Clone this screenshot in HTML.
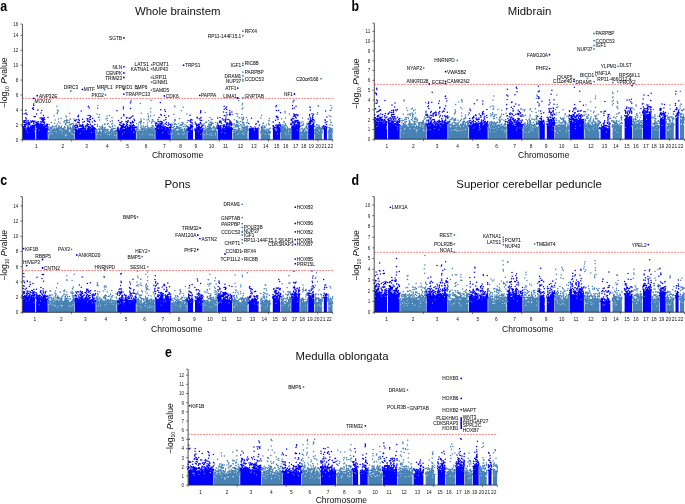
<!DOCTYPE html>
<html><head><meta charset="utf-8"><style>
html,body{margin:0;padding:0;background:#fff;width:685px;height:504px;overflow:hidden}
svg{display:block;will-change:transform}
text{font-family:'Liberation Sans',sans-serif}
</style></head><body>
<svg width="685" height="504" viewBox="0 0 685 504" style="font-family:'Liberation Sans',sans-serif">
<rect width="685" height="504" fill="#fff"/>
<path fill="#4682b4" d="M48.4 139.8L48.4 133.7L48.9 133.4L49.4 132.9L49.9 132L50.4 131.5L50.9 132.4L51.4 131.1L51.9 132.8L52.4 131L52.9 132.2L53.4 133.1L53.9 133L54.4 133.3L54.9 133.3L55.4 133.5L55.9 133.2L56.4 133.3L56.9 133.2L57.4 133L57.9 133.4L58.4 133L58.9 133.6L59.4 133.5L59.9 132.8L60.4 133.2L60.9 133L61.4 133.1L61.9 132.2L62.4 132.8L62.9 132.7L63.4 133.4L63.9 133.2L64.4 133.1L64.9 131L65.4 132.9L65.9 133.2L66.4 133.1L66.9 132.4L67.4 131.4L67.9 130.9L68.4 131.7L68.9 133L69.4 132.6L69.9 133.2L70.4 133.2L70.9 131.9L71.4 132.4L71.9 132.2L72.4 130.6L72.9 132.6L73.4 130.4L73.9 132.9L74.1 132.6L74.1 139.8ZM96.2 139.8L96.2 133.1L96.7 133L97.2 131.3L97.7 132.7L98.2 131.9L98.7 131.4L99.2 132.7L99.7 132.3L100.2 132.9L100.7 132.8L101.2 132.7L101.7 133.4L102.2 132.7L102.7 132.7L103.2 132.6L103.7 132.6L104.2 132.6L104.7 131.5L105.2 131.5L105.7 132L106.2 131.1L106.7 132.8L107.2 133.1L107.7 133.3L108.2 133.2L108.7 133.3L109.2 132.6L109.7 133.1L110.2 132.2L110.7 133.1L111.2 132L111.7 133.1L112.2 131.4L112.7 132L113.2 132.8L113.7 133.3L114.2 133.4L114.7 132.1L115.2 132.3L115.7 132.4L116.2 133.2L116.7 133.3L116.7 139.8ZM136.5 139.8L136.5 130.2L137 131.1L137.5 132.5L138 132L138.5 132.6L139 132.1L139.5 132.7L140 132.3L140.5 132.8L141 132.9L141.5 132.9L142 132.7L142.5 132.5L143 131.6L143.5 131.5L144 132.6L144.5 131.6L145 132.7L145.5 132.5L146 132.2L146.5 131.8L147 132.1L147.5 131.5L148 132.5L148.5 131.8L149 131.8L149.5 132.8L150 132.6L150.5 133.1L151 132.4L151.5 132.5L152 130.4L152.5 132.4L153 131L153.5 132.3L154 131.8L154.5 132.7L154.8 132.1L154.8 139.8ZM171.4 139.8L171.4 132.4L171.9 131.8L172.4 132.1L172.9 132.2L173.4 132.3L173.9 130L174.4 131.6L174.9 131.6L175.4 132.4L175.9 132L176.4 131.7L176.9 131.7L177.4 131.6L177.9 130.8L178.4 131.1L178.9 132.1L179.4 131.8L179.9 132.5L180.4 131.3L180.9 130.9L181.4 131.3L181.9 132.1L182.4 132.3L182.9 132.3L183.4 132.5L183.9 132.8L184.4 132.7L184.9 131.9L185.4 132L185.9 130.5L186.4 131.6L186.9 130.3L186.9 131L186.9 139.8ZM203.2 139.8L203.2 129.4L203.7 132L204.2 132.4L204.7 132.4L205.2 131.8L205.7 131L206.2 131.3L206.7 132.3L207.2 132.2L207.7 131.4L208.2 130.2L208.7 131.9L209.2 131.8L209.7 132.1L210.2 132.5L210.7 131.7L211.2 132.4L211.7 132.4L212.2 130.8L212.7 132L213.2 131.2L213.7 131.4L214.2 132.2L214.7 131.5L215.2 132.2L215.7 131L216.2 131.1L216.7 131.3L217.1 132.3L217.1 139.8ZM232.7 139.8L232.7 130.9L233.2 130.4L233.7 131L234.2 129.7L234.7 131.1L235.2 131.8L235.7 131.8L236.2 131.6L236.7 132.2L237.2 132.1L237.7 131.8L238.2 131.4L238.7 131.4L239.2 130.7L239.7 132L240.2 131.2L240.7 131.1L241.2 131.3L241.7 131.6L242.2 130.4L242.7 131.8L243.2 130L243.7 130.8L244.2 129.6L244.7 131.9L245.2 131.6L245.7 132.1L246.2 131.6L246.7 130.9L247.2 130.7L247.6 131.1L247.6 139.8ZM260.8 139.8L260.8 132.1L261.3 132.5L261.8 131.4L262.3 131.1L262.8 130.8L263.3 131.3L263.8 131.3L264.3 132L264.8 132.3L265.3 132.8L265.8 132.7L266.3 131.2L266.8 132.2L267.3 132L267.8 132.1L268.3 131.5L268.8 131.5L269.3 132.2L269.8 132.5L270.2 132.6L270.2 139.8ZM280.9 139.8L280.9 132L281.4 132L281.9 131.9L282.4 131L282.9 131.8L283.4 131.6L283.9 131.5L284.4 131.7L284.9 131.1L285.4 131.4L285.9 132.4L286.4 132L286.9 131.1L287.4 130.5L287.9 132.3L288.4 131.3L288.9 132.4L289.4 132.7L289.9 132.9L290.4 133L290.7 132.4L290.7 139.8ZM300.2 139.8L300.2 133.1L300.7 132.6L301.2 132.5L301.7 130.9L302.2 132.3L302.7 132.2L303.2 132.7L303.7 132.7L304.2 131.8L304.7 132.4L305.2 130.7L305.7 131.8L306.2 131.8L306.7 131.9L307.2 132.1L307.6 129.4L307.6 139.8ZM314.6 139.8L314.6 132.9L315.1 132.6L315.6 131.8L316.1 131.4L316.6 132.1L317.1 130.6L317.6 131.2L318.1 131.1L318.6 132.1L319.1 129.8L319.6 132.3L320.1 131.5L320.6 131.7L321.1 131.8L321.6 130.9L322.1 131.9L322.1 132.1L322.1 139.8ZM328.3 139.8L328.3 131.7L328.8 131.1L329.3 132.1L329.8 130.8L330.3 131.8L330.8 130.6L331.3 131.5L331.8 131.2L332.3 132.1L332.5 132L332.5 139.8Z"/>
<path fill="#0000ff" d="M22.7 139.8L22.7 126.9L23.2 127.5L23.7 126.6L24.2 128L24.7 126.2L25.2 127.1L25.7 125.8L26.2 127.8L26.7 127.6L27.2 128.1L27.7 128.3L28.2 126.8L28.7 126.7L29.2 128.4L29.7 128.1L30.2 128.9L30.7 128.7L31.2 127.7L31.7 127.9L32.2 127.1L32.7 127.4L33.2 128.1L33.7 127.1L34.2 128L34.7 128.5L35.2 127.3L35.2 139.8ZM36.2 139.8L36.2 125.2L36.7 127.3L37.2 126.6L37.7 128.1L38.2 125.4L38.7 127.6L39.2 126.3L39.7 126.9L40.2 125.6L40.7 127.2L41.2 126.3L41.7 124.6L42.2 124L42.7 125.4L43.2 126.1L43.7 126.4L44.2 125.5L44.7 128L45.2 127.7L45.7 126.5L46.2 128.1L46.7 126.7L47.2 127.8L47.7 128.4L47.8 128.8L47.8 139.8ZM74.7 139.8L74.7 129.2L75.2 130.2L75.7 129.8L76.2 129.8L76.7 128.2L77.2 130.2L77.7 129.3L78.2 129.5L78.7 129.1L79.2 129.9L79.7 129L80.2 130.6L80.7 129.9L81.2 129L81.7 129.3L82.2 128.1L82.7 127.5L83.2 127.9L83.7 129.4L84.2 130.3L84.7 130.9L85.2 129.7L85.7 130.5L86.2 129.5L86.7 130.1L87.2 128.7L87.7 127.9L88.2 128.7L88.7 129.7L89.2 129.1L89.7 128.3L90.2 129.5L90.7 129.4L91.2 129.7L91.7 129.8L92.2 129.4L92.7 128.2L93.2 129.8L93.7 129.1L94.2 130.7L94.7 128.9L95.2 130.9L95.6 130.8L95.6 139.8ZM117.3 139.8L117.3 129.7L117.8 131.1L118.3 130.7L118.8 131L119.3 130.2L119.8 128.7L120.3 129.9L120.8 130.8L121.3 129.1L121.8 130.1L122.3 127.5L122.8 130.3L123.3 130.6L123.8 130.3L124.3 131.2L124.8 131.2L125.3 131.3L125.8 129.9L126.3 130.6L126.8 129L127.3 129.2L127.8 129.8L128.3 130.1L128.8 130L129.3 130.2L129.8 129.8L130.3 129.4L130.8 127.6L131.3 129.9L131.8 129L132.3 126.9L132.8 128.5L133.3 128.4L133.8 129L134.3 130.2L134.8 131.1L135.3 131.3L135.8 129.8L135.9 130.8L135.9 139.8ZM155.4 139.8L155.4 128.4L155.9 129.2L156.4 129.2L156.9 129.8L157.4 130.3L157.9 129.7L158.4 129.1L158.9 129.5L159.4 127.5L159.9 128.1L160.4 128.8L160.9 126.3L161.4 128.9L161.9 129.5L162.4 127.5L162.9 130.3L163.4 129.7L163.9 130.1L164.4 128.7L164.9 128.7L165.4 129.8L165.9 130.2L166.4 129.9L166.9 130.6L167.4 129.7L167.9 130L168.4 129.7L168.9 130.1L169.4 130.5L169.9 130.6L170.4 130.3L170.8 129.7L170.8 139.8ZM187.5 139.8L187.5 130.5L188 128.2L188.5 130.7L189 130.2L189.5 130.5L190 129.2L190.5 128.5L191 129.6L191.5 130.4L192 129.7L192.5 129.9L193 128.1L193 139.8ZM195 139.8L195 130.2L195.5 130.1L196 130.1L196.5 128.5L197 128.9L197.5 129.9L198 128.7L198.5 129.3L199 128.5L199.5 128.9L200 129.9L200.5 130.9L201 130.3L201.5 130.8L202 129.8L202.5 130.8L202.6 129.2L202.6 139.8ZM217.7 139.8L217.7 127.9L218.2 128.1L218.7 127.4L219.2 127.9L219.7 128.5L220.2 128.5L220.7 128L221.2 129.3L221.7 129.4L222.2 129.6L222.7 129.4L223.2 127.9L223.7 129.3L224.2 129.7L224.7 130L225.2 129.7L225.7 129.7L226.2 128.5L226.7 129.3L227.2 126.8L227.7 128.2L228.2 127.4L228.7 128L229.2 126L229.7 125.1L230.2 128.6L230.7 127.2L231.2 129.5L231.7 128.5L232.1 128.9L232.1 139.8ZM248.7 139.8L248.7 128.6L249.2 127L249.7 128.6L250.2 128.1L250.7 128.5L251.2 127.1L251.7 127.9L252.2 128.2L252.7 127.7L253.2 127.5L253.7 127.6L254.2 128.8L254.7 128.1L255.2 128.5L255.7 127.7L256.2 127.5L256.7 128.9L257.2 127.6L257.7 128.2L258.2 125.3L258.6 128.3L258.6 139.8ZM272.9 139.8L272.9 130.5L273.4 128.8L273.9 131L274.4 130.8L274.9 130.5L275.4 131.1L275.9 131.3L276.4 131.2L276.9 129.7L277.4 130.2L277.9 129.1L278.4 129.8L278.9 129L279.4 127.1L279.9 129.3L280.3 130L280.3 139.8ZM291.3 139.8L291.3 123.2L291.8 126.7L292.3 125.9L292.8 127.2L293.3 126.8L293.8 127.4L294.3 127.6L294.8 127L295.3 126.6L295.8 124.8L296.3 126.3L296.8 125.4L297.3 126.6L297.8 126.8L298.3 125.4L298.8 126.1L299.3 127.1L299.6 126.7L299.6 139.8ZM308.2 139.8L308.2 123.9L308.7 125.7L309.2 125.8L309.7 125.9L310.2 125.4L310.7 126.1L311.2 125.2L311.7 124.9L312.2 123.2L312.7 125.9L313.2 126.1L313.7 125.9L314 126.5L314 139.8ZM323.8 139.8L323.8 128.3L324.3 127.8L324.8 127L325.3 128.8L325.8 128.5L326.3 128.3L326.8 127.4L326.9 127.5L326.9 139.8Z"/>
<path stroke="#fff" stroke-width="0.9" stroke-linecap="round" fill="none" opacity="0.85" d="M25.6 126.8h0m.1 1.1h0m.7 1.4h0m1.3 2.7h0m6.3-2.9h0m.8 2.6h0m1.7-3.2h0m2.4 1.6h0m9.3 4.3h0m1.3-.7h0m0 1.1h0m1.2-1.4h0m1.7 .6h0m.5-.6h0m7.2 .3h0m1.8 .1h0m.8-.6h0m.1 .1h0m.6 .5h0m1.7-.1h0m.3 2.1h0m.1-.8h0m.7-.7h0m.7 .9h0m4.7-1.9h0m.7 .6h0m.8 .3h0m.5-1.8h0m1-2.1h0m.8 .7h0m4.7 2.3h0m8.2-4.1h0m3.2 3.5h0m3.7-.1h0m1.4 1.6h0m.5-1.1h0m.6 1h0m2.8 .8h0m3.4-1.4h0m1.5-.9h0m.9-1h0m1.1 2.9h0m2.3 .2h0m.1-.2h0m1.8-.6h0m.5-1.8h0m2.2 2.9h0m.5-2.1h0m0 2.3h0m1.6-.3h0m6.2-.7h0m1.6-2h0m6.8-3.2h0m2.6 3.2h0m1.1 0h0m4.5 .4h0m.1 .5h0m2.9 1.2h0m1-2h0m.3-.3h0m.4 1.1h0m2.1-.1h0m.8-.4h0m2.7 1.9h0m.2-.2h0m1.3 .8h0m.2-1.7h0m.9-2.1h0m.6 3.7h0m10.1-2.3h0m5.2-.9h0m1 2h0m1.2 .3h0m1.8-1.9h0m.3 .3h0m.4 .7h0m5.2 .4h0m.6-2h0m.3 3.1h0m1-1.4h0m.1 .1h0m2.5 .2h0m1.3 1h0m.6-1.1h0m.4-.6h0m4-1.2h0m5.7 1h0m3.9-1h0m2.4 2.6h0m3.6 .6h0m2.1-1.7h0m.5 1.4h0m.6-2.6h0m2 2.6h0m1.3-1.8h0m1 .9h0m0 1.8h0m2.8-3.3h0m.6 2.8h0m.3-1.6h0m2.1-2.8h0m.1-1.5h0m4.1 3.1h0m3.2 .9h0m8.5-1.2h0m.3-.4h0m.1 .6h0m3.8 2.4h0m1.2-1.3h0m3.1 .2h0m1.4-1.5h0m.4 2.6h0m.2-2.4h0m.4-1.4h0m1.2 2.3h0m3.2-1.3h0m5.4-2.3h0m.1 .8h0m6.9 3.9h0m1.7-1.8h0m2.1 1.6h0m1 .1h0m2.4 .3h0m1.6 .1h0m.1-.4h0m7.5-.2h0m2.9-.7h0m3.8-.6h0m.7-.3h0m1 .9h0m.1-.3h0m.1 2h0m1-3.6h0m1.3 2.7h0m3.5-7.3h0m5.5 3.4h0m4.4 1.6h0m.1 3h0m.2-1.4h0m3-1.2h0m1.7 .7h0m1.4-4.4h0m7.8 3.7h0m.8-.2h0m.3-.5h0m.7 .8h0m.4 1.1h0m3.6 .7h0m8.5-1h0m.7-.9h0m1.1 2.1h0"/>
<path stroke="#4682b4" stroke-width="1.5" stroke-linecap="round" fill="none" d="M48.2 132.5h0m0 1.5h0m.1-.7h0m.5-3.1h0m.1 3.4h0m.1-4.4h0m0 4.3h0m.1-.1h0m.2-9.1h0m0 8.8h0m.2-3.9h0m.2 1h0m.1-3.3h0m.1 2h0m0 3.7h0m.2-.4h0m.1-1h0m.1-.1h0m.2-2.1h0m.2-.6h0m.1 2.7h0m.2-3.5h0m.2 .5h0m.2-5.7h0m.2 5.8h0m.1 0h0m.1 .7h0m.3 2.9h0m.1-4.9h0m0 5.8h0m.1-2.9h0m0 .5h0m0 .7h0m.3-5h0m.1 5.7h0m.2-2.1h0m.3 .8h0m.2 2.1h0m.2 .5h0m.3-6.4h0m0 3.6h0m0 .9h0m0 1h0m.2-16.3h0m0 12.1h0m0 1.3h0m.1-.7h0m0 1.5h0m.2-1.4h0m0 2.1h0m0 2.9h0m.1-.9h0m.1-9.4h0m0 10h0m.4-3.3h0m.1 2.4h0m0 .2h0m0 .8h0m.1-2.2h0m.1-11.2h0m.2 14h0m.2-1.4h0m.1-6.7h0m0 4h0m.1 4h0m.1-7.2h0m0 2.4h0m.3-3.4h0m0 2.2h0m.4 1.5h0m0 1h0m0 2.9h0m.3-27.1h0m0 25.4h0m.2-17.8h0m0 10.1h0m0 7.8h0m.1-3.4h0m0 3.7h0m.1-21.9h0m.1 2.4h0m0 19h0m.1 2h0m.1-4.9h0m0 .8h0m0 2h0m0 .5h0m.3-3.7h0m0 1.9h0m0 .4h0m0 1.8h0m.1-1.4h0m.1-4.9h0m.1-15.1h0m0 20.7h0m0 2h0m.2-5.8h0m0 4.9h0m.1-13.7h0m0 2.8h0m0 10.7h0m.3-3.2h0m0 4.9h0m.1-.7h0m.2-5.6h0m0 2.7h0m0 3.5h0m.1-6.1h0m.1-1.7h0m0 4.3h0m.2 1.5h0m0 .1h0m0 .6h0m.2-1h0m0 .6h0m.1-.1h0m0 .4h0m0 .3h0m.1-9.8h0m0 10.1h0m.1-4.7h0m0 4.2h0m0 .1h0m.1-.1h0m0 1.1h0m.1-.5h0m.2 .5h0m.1-5.8h0m0 3.5h0m.1-3.5h0m.1 5.5h0m.1-3.5h0m0 2.2h0m.2-14.1h0m0 12.6h0m0 .7h0m.1 2.3h0m.1-7.5h0m0 4.7h0m.1 .2h0m0 2.1h0m.1-6h0m0 4h0m.1-.7h0m.3-2h0m.1-.3h0m.2 1h0m.4 3.3h0m.4-3.9h0m0 2.3h0m.2 .5h0m0 .1h0m0 .2h0m0 1.1h0m0 .4h0m0 .6h0m.2-5.4h0m.1 1.2h0m0 2.4h0m0 .7h0m.1-1.5h0m.1-1.3h0m0 1.1h0m0 2.6h0m.2-11.6h0m0 7.4h0m0 .6h0m.1 3.5h0m.1-3h0m.1-.6h0m.1-8.1h0m0 5.7h0m0 5.7h0m.2-3.7h0m0 .2h0m.2-3.3h0m.2-5.9h0m0 10.8h0m.1 .2h0m.1-3.5h0m.1 3.6h0m.1-7.8h0m0 7.1h0m.1-2.9h0m0 3.9h0m0 1.3h0m.1-9.2h0m.2 7.2h0m0 .2h0m0 .2h0m.2-11.3h0m0 4.7h0m.1-9.2h0m0 15.6h0m0 .2h0m0 1.6h0m.1-3h0m0 .5h0m.1-10h0m0 2.1h0m.1 10.9h0m.1-2.2h0m.1-14.5h0m.1 2.6h0m0 11.2h0m0 1.3h0m.2-10.1h0m0 7.9h0m0 .7h0m0 1.9h0m.1-1.5h0m0 1.5h0m0 .4h0m.1-.6h0m.1-1.1h0m.2-1.8h0m0 .2h0m.1-9.4h0m0 9.2h0m.2-2.5h0m0 3.3h0m.1-4.3h0m0 2.5h0m0 1.1h0m.2-7.1h0m0 6h0m0 1h0m.1-.2h0m0 1.8h0m.1-4.3h0m0 .3h0m0 2.6h0m.2-.4h0m0 .5h0m.2-1.5h0m.1 .6h0m.3 2.8h0m.1 .6h0m0 1.1h0m.1-12.6h0m.1 11.8h0m0 .4h0m.1-10.4h0m.2 5.3h0m.3-3.6h0m.1-11.1h0m0 12.2h0m.1-6.5h0m0 5.4h0m.1 4.1h0m.2-9h0m0 10.1h0m.3-1.8h0m0 5.4h0m.1-5.8h0m0 1.4h0m.1 1.3h0m.2 1.1h0m0 1h0m.1-7.8h0m.1 4.5h0m.1 3.2h0m0 .5h0m.5-1.4h0m0 .8h0m0 .7h0m.1-9.2h0m0 8.9h0m.1-1.4h0m0 1.1h0m.1-1.3h0m.2-2.3h0m0 1.6h0m.3-2.6h0m0 3.5h0m.1-4.9h0m0 2h0m0 1.2h0m.1 1.8h0m0 1.8h0m.3-9.5h0m0 4.7h0m.1-.5h0m0 1.2h0m.1-.8h0m0 1.9h0m.1-5.1h0m0 3.7h0m.1 2.7h0m.2 .6h0m.1-5.5h0m0 3.6h0m.1-10.9h0m0 10h0m.1 4.4h0m.1-3.9h0m.1-1.1h0m0 4.5h0m21.1-4.4h0m1 1.7h0m.3 1.7h0m0 .3h0m.1 1.1h0m.1-.2h0m0 .2h0m0 .1h0m.1-2.9h0m0 1.1h0m.1-17.5h0m.2 16h0m.2-5.2h0m0 1.5h0m.1-18h0m.2 0h0m.3-2.8h0m.1 27.1h0m.3-15h0m.2 11.4h0m.3-11.7h0m.1-.1h0m.2 15.2h0m.3-2.4h0m.1-15.2h0m0 11.6h0m0 5.4h0m.1-11.7h0m0 8.8h0m0 1.9h0m0 1.4h0m.5-.6h0m.4 .4h0m.1-2.9h0m.2-1.7h0m0 1.4h0m0 4.6h0m.2-1h0m.6-3.4h0m.2 .1h0m.1 2.7h0m.1-5.4h0m0 1.2h0m.3 1.8h0m.1-4.1h0m0 2.7h0m.1 2.6h0m.1-1.9h0m.1 3.8h0m.1-5.2h0m.1 1.7h0m0 1.7h0m.3 1h0m.3 1.2h0m.3-2.8h0m.2 .5h0m.1 2.3h0m.1-2.7h0m.1-1h0m.1-1.1h0m.2-3.3h0m.2 5h0m0 1.4h0m.1-7.5h0m.1 5.9h0m.2-1.8h0m.6 3.4h0m.2-12.1h0m0 10.7h0m.1 .1h0m.5 3.3h0m.3-17.3h0m0 14.3h0m.2-11.9h0m.1 2.2h0m0 12h0m.1-8.2h0m.1 5.3h0m.2 .9h0m0 2.9h0m.1-2.8h0m.1-6.9h0m.1 5.9h0m0 2.5h0m.3-8.7h0m0 8.1h0m.2 .4h0m.6-5.9h0m.4-10.5h0m0 16.8h0m.1 .6h0m.3-5.9h0m0 5.7h0m.2-.2h0m.2-11h0m.1 8.9h0m0 2.1h0m.1-5.2h0m0 4h0m.3 1.7h0m.1-3.4h0m0 4.2h0m.1-2.5h0m.1-1h0m.3 1.1h0m.2-.8h0m.1 .3h0m.1-6.8h0m.1 4.3h0m.1-11h0m.2 3.1h0m0 8.3h0m0 .3h0m0 2.1h0m.1-10.3h0m0 5.8h0m.1 4.7h0m0 .2h0m.1-8.2h0m0 5.8h0m0 3.5h0m.2-6.8h0m0 3.7h0m.1 1.6h0m.3-2h0m.4 2.2h0m.4-2.8h0m.2 3h0m.4 1.2h0m0 .9h0m.3-7.9h0m.1 6.1h0m0 .2h0m.2-3.5h0m0 2h0m0 .9h0m.2 .3h0m.4 1h0m.4 1h0m.1-3.4h0m0 1.2h0m.1 1.9h0m.2-.1h0m.3-2.7h0m19.4-.4h0m.1-2.3h0m.1 1.8h0m0 .2h0m.1-.4h0m.2-5.8h0m.1 3.5h0m0 3.9h0m0 .3h0m.1-1.8h0m.4 2.6h0m.3-1h0m.1-3.1h0m0 1h0m0 3.1h0m.3-3.1h0m.1-2.5h0m.1 2.9h0m.1 2.4h0m0 1.3h0m.1-1.1h0m.1-7.2h0m.1 6.7h0m.4-9.3h0m.3 7.9h0m.4 2.3h0m.1-10.6h0m0 9.4h0m.5 1.8h0m.1-29.8h0m.2 20.5h0m0 8.4h0m.2-10.7h0m0 5.9h0m.1-4.5h0m0 7.1h0m.1-11.2h0m.1 1.6h0m0 10.9h0m.1-5.3h0m0 2.3h0m.1-15.2h0m0 18.1h0m0 2.3h0m.1-11.9h0m0 9.7h0m0 .9h0m.4-6.3h0m.1 1.9h0m.3 1.5h0m0 .8h0m0 1.2h0m0 .8h0m.2-2.4h0m.4 1.6h0m.1-2.5h0m.2 3.3h0m.4-6.2h0m0 3.4h0m.3-6.4h0m0 4.5h0m0 4.4h0m.2-12.6h0m0 10.7h0m.1-1.8h0m0 4h0m.1-.9h0m0 1.7h0m.5-4.2h0m.3 2.4h0m.1-.6h0m.1-1.6h0m0 3.3h0m.2-5.7h0m0 .5h0m0 3.7h0m.1 2.3h0m.1-.5h0m.2-1h0m.1-2.6h0m0 2.1h0m.1 1.1h0m.2-1.2h0m.1 .9h0m.2 .4h0m.1-1.1h0m.3-2.5h0m.1-2.2h0m0 4.5h0m.1-10.9h0m0 9.1h0m.1 .9h0m.1-5h0m0 6.6h0m.3-4.8h0m0 4.4h0m.1-8.5h0m.1 9.4h0m.2-18.5h0m.1 16.5h0m0 .8h0m.1-.5h0m.2-13.6h0m0 11.7h0m.1-12.7h0m0 3.1h0m0 10.2h0m0 1.2h0m0 2h0m.1-2.1h0m.2-2.7h0m.1 4.8h0m.2-3.6h0m0 1.3h0m.3-9.2h0m0 7.7h0m0 2.5h0m.1 .1h0m.1 2.1h0m.3-1.8h0m0 .2h0m.1 .8h0m0 .7h0m.1-3.6h0m.2 1h0m0 2.3h0m.1 .4h0m.1-1.4h0m0 1.4h0m.1-24.7h0m0 25.2h0m.1-21.8h0m0 4.1h0m.1 11.6h0m0 4.3h0m.1-2.7h0m0 .8h0m0 .2h0m.1 1.3h0m.1-31.3h0m0 32.6h0m.2-1.6h0m.1 1.7h0m.1-9.9h0m.3-1.1h0m0 8.6h0m.1-3.3h0m0 2.9h0m.2-1.8h0m.1-2.3h0m0 5.5h0m0 1.2h0m.1-13.1h0m.1 5.7h0m0 5.8h0m.1 .2h0m.2-3.3h0m0 3.9h0m.2-10.8h0m0 7.7h0m.1-8.9h0m.1 10.9h0m.2-.5h0m.2-4.1h0m0 3.1h0m.1 3.4h0m.1-2h0m.1-1.3h0m.3-14.3h0m0 16.5h0m0 .2h0m.3-3.8h0m.1 4.1h0m.1 .9h0m.1-11h0m0 8.1h0m16.5 .4h0m0 1.8h0m.1-5.6h0m.1 3.4h0m.3-6.1h0m.1 7.1h0m.1-3.8h0m.3 2.8h0m.3 1.6h0m0 .1h0m.1-6.9h0m.1 6.5h0m.2-1.2h0m.1 1.8h0m.1-.7h0m.2-3.7h0m0 3.5h0m0 1h0m.1 .6h0m.1-5.5h0m0 2.6h0m0 .6h0m.1 1.4h0m0 .3h0m0 .1h0m.1-2.6h0m.1-15.2h0m0 16.1h0m.1-7.6h0m.4 6.1h0m0 1.8h0m.1-4.5h0m.1-6.5h0m0 4.5h0m.1-18.2h0m.3 14.9h0m0 9h0m0 2.1h0m.1-25.5h0m0 25.3h0m.1-12.6h0m0 10.5h0m0 1.1h0m0 1.5h0m.1-8.7h0m0 8.4h0m.1-12.1h0m.2 8.5h0m.2 1.2h0m.3 0h0m.3-5.2h0m.1 6.6h0m.1 .7h0m.1-5.3h0m0 1.3h0m.2-.2h0m.1 4.1h0m.1-4.9h0m0 1.7h0m.1-.1h0m.2 3.6h0m.3-.2h0m.1-1h0m.2-3.6h0m.1-.8h0m.1 .2h0m.2 1.2h0m.1 2.8h0m.2-7.3h0m.3 7.9h0m.2-2.7h0m0 3.5h0m.2-.7h0m.1-12.8h0m0 9.7h0m.1 .9h0m.2-1.5h0m.1 .9h0m0 1.9h0m0 2.7h0m.1-7.9h0m0 5.2h0m.1 .7h0m0 1.7h0m.1-4.1h0m0 2.1h0m.2-3.3h0m.1 3.7h0m.2-6.3h0m0 6.7h0m.1-1.8h0m0 .4h0m.3 .2h0m.2-.3h0m.1-19.5h0m0 20.4h0m.1-6.3h0m0 6.9h0m.2-.7h0m.1-.4h0m.1-2.7h0m0 3.6h0m.1-1.5h0m0 .2h0m.1-7.5h0m0 3.1h0m0 4.7h0m.2 1h0m.1-7.1h0m0 5.1h0m0 .1h0m0 .3h0m.2-7.4h0m0 7.7h0m.2 2.6h0m.5-25.5h0m0 25.6h0m.1-9.7h0m.3 9.9h0m.1-6.5h0m0 6.7h0m.1-1.6h0m.3-2.4h0m0 .5h0m.4 .1h0m.2-.8h0m.1 .6h0m.1-1.1h0m0 3h0m.1-6.8h0m.2 1.9h0m0 4.5h0m0 1.5h0m.2-2.1h0m0 1.3h0m.5-1.7h0m.4 .2h0m0 1.2h0m.3-6.2h0m.1 .7h0m.1-12h0m0 15.6h0m.1-3.6h0m0 2.8h0m0 .2h0m.1-2.7h0m0 1.9h0m0 1.1h0m.1-7h0m0 8h0m0 .6h0m16.1-5.9h0m.3 5.6h0m.1-2.7h0m.3-2.6h0m0 6.6h0m.1 .4h0m.1-1h0m.1-2.8h0m.1-5.2h0m0 7.2h0m.1 2.5h0m.1-2.2h0m0 .5h0m.3-.1h0m.1 .3h0m.2-19.2h0m.1 19.2h0m.2-5.5h0m0 5h0m.1-.2h0m.1-8.6h0m0 7.1h0m.2-1.6h0m.1 3.5h0m.8-9.4h0m.2 7.1h0m0 1.8h0m.2-2.2h0m.1 .1h0m0 2.7h0m.2 1.2h0m.2-6.2h0m0 4.6h0m0 .6h0m.1-.1h0m.1-1.5h0m.2-.2h0m0 .6h0m.2-3.5h0m.1 2.7h0m.1-2.8h0m.1 1.8h0m.1-4.3h0m0 6.2h0m0 .6h0m.1-10.3h0m0 4.1h0m.1 4.9h0m0 .3h0m.1 2.2h0m.1-3.9h0m0 1.2h0m.1-4.9h0m0 5.2h0m0 2.3h0m.3-7.3h0m.1 1.7h0m0 2.1h0m0 3.5h0m.2-4.2h0m.1-3.7h0m0 7.1h0m.2-14h0m.1 5h0m0 9.1h0m.1-7h0m.2 5.4h0m.1-2.6h0m0 3.9h0m.1-4h0m.1-4.9h0m.1 2.9h0m0 7h0m.2-3.8h0m0 3.4h0m.1-1.6h0m0 1.8h0m.1-8.1h0m0 1.4h0m0 .2h0m.1-1.1h0m.1-4.7h0m0 11.7h0m.1-9h0m.1 2.7h0m.1 3.9h0m0 3.4h0m.1-1.5h0m.1 1.6h0m.1-4.1h0m.2-9.2h0m0 4.3h0m0 4.4h0m0 3.5h0m.1-.5h0m.5 1.6h0m.1-.4h0m.3-8.8h0m.1 8.3h0m.2-4.1h0m0 2.9h0m.1-4.2h0m.2 .8h0m.1 4.2h0m.2-2.5h0m.1 4h0m0 .1h0m.1-2.1h0m.4 1.4h0m.1-1.3h0m.1-3.3h0m.1 2.4h0m.3 .9h0m0 1h0m.1-3h0m0 2.8h0m.1-1.6h0m.2 1.3h0m.1-8.7h0m.1 7.6h0m0 .8h0m.4 .6h0m.1 .1h0m.2-4h0m.1-.7h0m0 1.8h0m.2-2.8h0m15.6-11.6h0m0 14.4h0m.2-.6h0m.2 1.1h0m.3 1.7h0m.7-5.9h0m0 2.1h0m.1-3.7h0m.2 .3h0m0 5.9h0m.2-10h0m.1 11.9h0m.1-2.3h0m0 2.5h0m.7-6.2h0m.2 1.2h0m.2 2.8h0m0 2.7h0m.1-6.3h0m.1 1h0m.1 4h0m.1-17.3h0m0 18.3h0m.1-10.8h0m0 3.3h0m0 5.4h0m.1-3.1h0m0 4.7h0m.2-1.4h0m.2-9.6h0m0 12.1h0m.1-9.8h0m0 3.2h0m.1-4.7h0m.1 10.8h0m.2-.2h0m.3-33.9h0m0 18.5h0m0 8h0m.1 .5h0m0 1.2h0m.1-12.3h0m0 7.7h0m0 .8h0m0 8.3h0m.3-2.7h0m0 2.7h0m0 1.3h0m.1-.7h0m.3-1.8h0m0 .8h0m0 .4h0m.2-30.3h0m0 25.3h0m.1 4.2h0m.1-3.2h0m.1 2.4h0m0 1.8h0m0 .9h0m.1-8.9h0m0 7.6h0m.1-12.4h0m.3-.4h0m.3 12.6h0m.2-1.8h0m.3-3.4h0m.1-3.6h0m.2 10.2h0m.1-7.1h0m.1 6.3h0m0 .8h0m.4-6.9h0m0 6.8h0m.2 .1h0m.1 .1h0m.1-5.3h0m0 4.7h0m.1 .5h0m.1-13.9h0m0 12.4h0m0 2h0m.2-17.8h0m0 14.5h0m0 2.8h0m.1-4.9h0m.1-17.8h0m0 18.4h0m.1-6.3h0m.1-1.9h0m.1-14.3h0m0 17.6h0m0 4.8h0m0 2.6h0m.3-26.7h0m.1 21.7h0m0 2.8h0m.1-20h0m0 15.4h0m.1 4.7h0m.2-8.4h0m.1-2.1h0m0 12.6h0m.3-7.4h0m0 5.4h0m0 .5h0m0 3h0m.1-13.1h0m0 9.2h0m0 2.5h0m.1-6.7h0m.3 3h0m.1-1.5h0m0 1h0m.1-.9h0m.1 2.4h0m0 .4h0m.2 2.8h0m.2-2.8h0m.1 1.5h0m.2 .4h0m0 2.5h0m.2-4.4h0m0 3.8h0m.2 1.1h0m.2-3.3h0m0 2h0m0 1.5h0m.1-.2h0m.2-5.9h0m0 1.4h0m.1 4.2h0m.3-1.1h0m.1-13.6h0m.1 5.4h0m.1 3.6h0m0 3.3h0m.1 .9h0m.1-8.1h0m0 4h0m0 2h0m.2-1.2h0m.2-5.2h0m.1-2.4h0m0 6.1h0m0 1.3h0m0 3.4h0m.1-3.4h0m.1 1.8h0m.1 .6h0m.1-3.2h0m.1 3.7h0m11.1-1.2h0m1.7 2.5h0m0 .3h0m.2-13.7h0m.3 14.9h0m.1-.9h0m.1-3.3h0m0 3.2h0m.1 1.2h0m.1-18h0m0 14.8h0m0 1h0m0 .1h0m.2-1.2h0m.3-.3h0m0 1.7h0m.1-3.9h0m0 4h0m.5-2.3h0m0 .6h0m.1-4.2h0m0 1.8h0m0 2.1h0m.1-5.8h0m0 6.3h0m0 .3h0m.1-1.8h0m0 .1h0m.3 2.3h0m.2-.5h0m.1-7.4h0m.1 7.4h0m.1 .9h0m.1-.3h0m.2-3.9h0m.1 4h0m.1 .7h0m.1-5.3h0m0 6.3h0m.3-2.6h0m0 2.9h0m.1-6.5h0m0 1.4h0m0 4.3h0m.1-.3h0m0 .7h0m.1-.2h0m.2-5.2h0m.1 3h0m.1 2.5h0m.3-.1h0m.3 .5h0m.1-1.6h0m0 .1h0m.1-6.7h0m.1 6.7h0m.1 .3h0m.3-2.1h0m.1 3.1h0m.1-2.5h0m0 1.9h0m.2-3.2h0m0 3.6h0m.9-.9h0m.3-1h0m0 .6h0m.1-7.8h0m0 6.4h0m.4 .2h0m.2-9.7h0m0 .5h0m0 3.8h0m0 4.2h0m0 2.2h0m.2 1.5h0m.1-14.3h0m0 13.6h0m.2-7.2h0m.2 7.1h0m.2 .2h0m.2-.5h0m.1-3.3h0m0 4h0m.2 .1h0m10.3-4.6h0m0 4h0m.1-6.7h0m.1 7.5h0m.1-6.4h0m0 6.4h0m.2-4.7h0m.2-.9h0m0 3.9h0m0 1.6h0m.1-13.8h0m.1 11.3h0m0 2.1h0m.3-3.1h0m.1-2.4h0m.2-.1h0m0 4.7h0m.1-3.1h0m.1 1.8h0m0 1.3h0m.2 .3h0m.1-1.9h0m0 .3h0m0 .4h0m.1-1.6h0m0 2.1h0m0 .4h0m.1-.6h0m0 1.2h0m.1-7h0m0 1.3h0m.1 1.3h0m0 1.8h0m0 1h0m0 1.5h0m0 .7h0m.1-1.7h0m.2-2.7h0m0 1.8h0m0 .1h0m0 1.4h0m0 .2h0m.1-2.4h0m0 .2h0m.1-2.4h0m0 4.1h0m.1 .3h0m.1 .8h0m.1-.3h0m.1-10.2h0m.1 1.1h0m0 6.4h0m0 2.5h0m0 .6h0m.2-1.4h0m.1-1.8h0m0 2h0m.1-3.9h0m.1-1.5h0m0 5.8h0m.1-4.2h0m0 3.6h0m0 .4h0m0 .2h0m.3-19.9h0m0 1.6h0m.2 14.9h0m0 2.8h0m0 .7h0m.1-1.5h0m.1-6.2h0m0 4.3h0m.1 .4h0m0 1.6h0m.1-12.2h0m0 12.6h0m0 1.1h0m.1-6.4h0m0 4.4h0m.1 2.3h0m.2 .5h0m0 .1h0m.2-6.7h0m0 3.9h0m.1 .3h0m.2 2.3h0m0 .5h0m.1-.9h0m.2-1.5h0m.2-3.5h0m0 2.9h0m.1 .1h0m.1-.2h0m.1 1.4h0m.1-2h0m.1-1.8h0m0 1.1h0m0 .6h0m.3 4.1h0m.1-4h0m0 3.5h0m.2-2.8h0m0 2.7h0m.5-2.9h0m.3-.3h0m0 .9h0m0 .1h0m.3 2.3h0m.1-18.5h0m0 16.2h0m0 .2h0m.1 2h0m.2-1.3h0m.1-2.7h0m0 4.7h0m.3-1.8h0m0 1.4h0m.2-.4h0m.3 .6h0m.1-3.5h0m0 1.7h0m0 .4h0m0 1h0m0 .2h0m.2-3.6h0m0 .9h0m0 .8h0m.1 1h0m9-2.5h0m.2 2.6h0m.1-5.9h0m.1 6.8h0m0 .3h0m.2-1.2h0m.3-9.1h0m.2 3.2h0m.2 3h0m0 3.9h0m.1-10.6h0m.7 10.1h0m.1-7.5h0m0 7.9h0m.1-4.6h0m.1 2.5h0m.2-5.2h0m.1-7.6h0m.2 3.5h0m.1 11.4h0m.1-1.2h0m.2-1.9h0m0 2.8h0m.1-1.9h0m0 .4h0m0 .4h0m.1-7.9h0m.1 1.4h0m0 4.4h0m.2 2.2h0m.2 1.3h0m.2-.4h0m.2-2.7h0m0 2.4h0m.1-3.8h0m.3 .9h0m.2 .8h0m.1 0h0m.2-.5h0m.5 2.8h0m.1-5.1h0m.2 4.4h0m.3-5.1h0m0 4.4h0m.1-4.9h0m.2 2.5h0m0 3.6h0m0 .4h0m.1-5h0m0 4.5h0m.2-6.2h0m.1-1.9h0m.1 .2h0m0 3.8h0m.1 .2h0m.1 3.8h0m.1-3.6h0m0 .1h0m.2 .1h0m0 .4h0m6.7 .5h0m.2 1h0m0 2.6h0m.2-10.5h0m0 8.1h0m.1 2.9h0m.1-7.2h0m.4 5.9h0m.2-.8h0m0 .1h0m.1-1.9h0m0 2.1h0m.2-3.3h0m0 3h0m0 .8h0m.1-3.6h0m.1 1.2h0m.1 1.5h0m.1-4.2h0m.4 .9h0m.1-3.7h0m.3 1h0m0 2.3h0m0 2.3h0m.1-1.1h0m.1-14.7h0m0 10.7h0m.1 5.5h0m.2 .7h0m.1-3.5h0m0 3.7h0m0 .1h0m.1-18.7h0m.1 14.8h0m0 2.3h0m.1 .3h0m.1-24.6h0m.1 24.9h0m.2-1.3h0m0 2.4h0m.1-4.5h0m.1 5.1h0m.1-25.9h0m.1 26.4h0m.1-.3h0m.1-7h0m.1 1.8h0m0 .6h0m.1-.3h0m0 1.5h0m.1-.7h0m.1-2h0m.1 6.7h0m.6-1.1h0m.1-4.1h0m0 1.4h0m0 2.8h0m.1-3.5h0m0 1.1h0m.1 1.2h0m.1-1.1h0m.1-.9h0m0 1.9h0m.3-.5h0m.4 1.6h0m.1-2.4h0m.1-.9h0m.5 3.1h0m.1-2.9h0m0 3.4h0m.1-3h0m0 .9h0m0 2.9h0m.1-3.9h0m.1 1h0m6.2 1.1h0m0 .9h0m.4-4.5h0m.1 2.8h0m.2 1.9h0m.2-16.3h0m0 14.2h0m.2-2.1h0m0 .6h0m0 .1h0m0 2.5h0m.1-1.5h0m0 1.8h0m.1-1.1h0m0 .5h0m.2-5.9h0m0 4h0m.1-18.5h0m0 14.3h0m.1-4.6h0m0 11.6h0m.1-1.2h0m.1-2.6h0m0 1.4h0m0 3.1h0m.1-.4h0m.2-1h0m.2-14.4h0m0 5.7h0m0 7.6h0m0 .2h0m.1-24.6h0m0 24h0m.1-19.5h0m.1 20h0m.2-7.4h0m0 8.6h0m.4-23.5h0m0 21.3h0m.2-.6h0m.1 2.4h0m.2-5.2h0m.1 3.4h0m0 .1h0m.1 2.9h0"/>
<path stroke="#0000ff" stroke-width="1.5" stroke-linecap="round" fill="none" d="M22.5 125.9h0m.2-11.9h0m0 12.3h0m.2 1.1h0m.6-.5h0m.1-6h0m.3 1.6h0m0 .1h0m.1 1.8h0m.4-3.6h0m.1 1h0m0 4.4h0m.5-12.5h0m.1 10.7h0m0 2.6h0m.1-1.7h0m.1 .5h0m.1-3.1h0m.1 2.8h0m0 .7h0m.1-5.6h0m.1-2.8h0m0 7.7h0m0 .5h0m.1-15.8h0m0 14.7h0m.3-11.9h0m0 7.1h0m.1-1.8h0m.3 5.8h0m.3-2.3h0m0 1h0m.2-8.3h0m.3 13.5h0m.6 0h0m.1-7.6h0m0 3.2h0m0 2.7h0m.1-1.1h0m.1-2h0m0 3.5h0m.1-2.2h0m.1-1.2h0m.2-1h0m.1 2h0m.1-2.3h0m.2 6.7h0m.3-.8h0m.1 .9h0m.1-6.1h0m.1 1.8h0m.2-1.2h0m.3 6.1h0m.2-2.3h0m.2 2.1h0m.1-1.6h0m.1-6.7h0m0 5h0m0 .1h0m.6 2.4h0m.1-6.1h0m0 4.5h0m0 1.2h0m.4-.2h0m.2-6.5h0m.1 3.9h0m0 1.5h0m0 .3h0m.1-.2h0m.1-.4h0m.4-18h0m0 13h0m0 4.7h0m.1-.4h0m0 1.3h0m.1-6.2h0m.3-13.1h0m0 20h0m.2-18.3h0m.1 17.3h0m.2-22.7h0m0 19.4h0m0 3h0m.1-20.9h0m0 22.1h0m.1-5h0m.2-6.2h0m0 5.1h0m0 3.6h0m0 .2h0m.5 1.6h0m.1 .7h0m.1 1.4h0m0 .1h0m.1-3.7h0m.1-4.3h0m.1 4.1h0m.1-8.8h0m.8 6h0m.1 2.1h0m.1-2.3h0m0 .3h0m.1 .9h0m0 1.9h0m.1-2.7h0m.1 3.7h0m.1-12.3h0m.2 9.3h0m.1 2.7h0m.1 .9h0m.1-4.7h0m0 2.7h0m.1 2.4h0m.1-2.7h0m.1-2.7h0m0 1.7h0m0 1.9h0m.2 2.8h0m.2-3.5h0m0 3.6h0m.1-18.2h0m0 14.6h0m0 1.4h0m.1-16.2h0m0 14.3h0m.5-.1h0m0 .2h0m.1-2.7h0m.1 1.8h0m.1 1.9h0m0 2.2h0m.1-1.2h0m.3-1.9h0m.5 3h0m.3-2.2h0m.1-7.4h0m0 8.4h0m.5-3h0m0 1.4h0m0 2.1h0m.2-3.3h0m0 3.3h0m.1-5.3h0m.1-8.6h0m0 14h0m.2-1.9h0m.1-7.1h0m0 7.2h0m.1 .2h0m.1 .7h0m.1-6.7h0m.1-8.7h0m.1 11.7h0m0 2.9h0m.3-.8h0m.1-5h0m0 2.3h0m.2 2.6h0m.1 1.4h0m.1-7.6h0m0 2.7h0m.1-2.6h0m0 6.9h0m.4 1.4h0m.3-11h0m0 3.7h0m0 .7h0m.3 2.3h0m.1-1.3h0m0 3.6h0m.2-5.6h0m.1 3.2h0m.1-4.6h0m.1 6.5h0m.2 2h0m.1 1.2h0m.1-8h0m0 3.6h0m.3 5.3h0m.2-1.6h0m.5-.7h0m0 .5h0m.7-1.8h0m0 4.3h0m.1-3.4h0m.2 .6h0m.2-1.4h0m.2 2h0m.1-1.6h0m.1-.2h0m.1 .2h0m.3-.8h0m0 5.1h0m.1-2.6h0m0 .5h0m.1 1.1h0m.1-11h0m26.6 9.4h0m.1-6.1h0m.2 8.8h0m.1-4h0m.1 4.2h0m.1-8.6h0m.2-.8h0m.1 10.3h0m.1-3.1h0m.1 2.6h0m.1-.7h0m.1-1.9h0m.1 1.7h0m0 .1h0m0 1.3h0m.1-6.6h0m.1 1.7h0m.1 3.8h0m.4-9.7h0m.6 7.5h0m.1-.6h0m.2-4.4h0m0 3h0m.3-8.8h0m.1 10.4h0m.2 2h0m.2-13.6h0m0 1.2h0m0 5.9h0m.1 6.6h0m.1-9.6h0m0 10h0m.4-.1h0m.2-9h0m0 8.8h0m.1-8.2h0m0 2.2h0m.3 6.6h0m.1-.3h0m.1-3.1h0m.1-1.4h0m0 1.4h0m.4 2.5h0m.2 1.5h0m.1-4.5h0m.5 2.9h0m0 .4h0m.1-18.1h0m0 17.3h0m0 .4h0m.1-2.4h0m0 2.2h0m.3-2.7h0m.5 2.8h0m.1-.3h0m.1-2.2h0m.1 0h0m.1-1.4h0m0 1.6h0m.1-7h0m.1 6.9h0m.1 1.7h0m.2-5.5h0m0 2.6h0m0 2.8h0m.4 .9h0m.1-2h0m.5 1.2h0m0 .7h0m.4-7h0m.1 9.8h0m.1-2.2h0m.1 1.6h0m.5-2.5h0m.2-2h0m0 3.1h0m.4-1.4h0m0 2.3h0m.5-4.9h0m0 .4h0m.1 .3h0m.7-7.2h0m.1 2.2h0m.2 2.7h0m0 2h0m.2-6.5h0m0 6.1h0m.1 .4h0m.1-.7h0m0 3.1h0m0 .2h0m.2-9.6h0m.1-3.1h0m0 5.5h0m.1 3.3h0m0 3.7h0m0 1.2h0m.1-22.7h0m.1 19.8h0m0 .8h0m.1-21h0m.1 22.4h0m.3 1h0m.1-1.1h0m0 .8h0m.1-.2h0m.1-21.1h0m0 18.8h0m.1 .4h0m0 .8h0m.1-6.5h0m.1 .7h0m.1 7.1h0m.2-13.7h0m0 4.1h0m.1-1.9h0m0 9.8h0m.1-10.2h0m0 2.1h0m.1-.2h0m.1 5.5h0m.2-5.4h0m0 4.8h0m0 5.8h0m.3-13.4h0m0 11.5h0m.1-.9h0m0 .8h0m.4 .6h0m.2-2.7h0m0 2.8h0m.2 1.2h0m.3-.8h0m0 .8h0m.2-1.3h0m.1-6.6h0m.2 6.6h0m.1-2.5h0m.1 .7h0m0 1.8h0m.1-10.2h0m.1 7.7h0m0 2.4h0m.1-2.8h0m.1 3.8h0m.2-.3h0m.2-.4h0m.2-1.4h0m.1 0h0m.4 2.3h0m0 1.4h0m.1-1.5h0m.2-9.1h0m.1 8.3h0m0 .1h0m.1-.8h0m.2-3.7h0m.3-2.9h0m.7 7.8h0m21.2-18.5h0m.2 19.4h0m.2-2h0m.4 .8h0m0 1.9h0m.1-2.7h0m.1 3.5h0m.1-4.4h0m0 1.2h0m.3 1.2h0m0 1h0m0 .4h0m.1-10.6h0m.2 10.1h0m.8-5.8h0m.2-.2h0m.2-2h0m.3 7.3h0m.1-1.3h0m.1 1.6h0m.3 .9h0m.1-5.7h0m0 5.9h0m.1-8.2h0m0 4.6h0m0 3.7h0m.1-.7h0m.1-7.7h0m.2-4.9h0m0 9.5h0m0 1.3h0m.1-1.2h0m.1-1.3h0m.1 .2h0m.2-5.2h0m.1 5h0m.1 2.2h0m.2-3h0m.4 4h0m.2-2h0m.1-2h0m.1 .8h0m.1-2.4h0m.1 1.4h0m.1-1.5h0m0 6.9h0m.1-23.8h0m0 1.8h0m0 22.3h0m.2-3.4h0m.1-13.3h0m.1 12.1h0m.1 3.4h0m.1-14.1h0m0 13.7h0m.2 1.7h0m0 .1h0m.1-6.8h0m.1 5.4h0m0 .6h0m.3 .1h0m.1-3.2h0m0 2.6h0m.3-.4h0m.1 1.2h0m.2-3.5h0m.2 2.3h0m0 .4h0m.1-3.5h0m0 1.7h0m.1-2.2h0m0 4.4h0m.2-8.9h0m0 8.8h0m.1-1h0m.2 2h0m.1-13.2h0m.1 5.2h0m.2 1.7h0m.3-7.6h0m0 11.9h0m.1-1.4h0m0 1.1h0m.2-4.4h0m0 1.6h0m0 .4h0m0 .5h0m.1-5.2h0m.1 .3h0m.1 7.9h0m.1-1.6h0m.3-7.8h0m.1 9.5h0m.1-1.6h0m0 1.7h0m.2-9.3h0m0 6.2h0m0 2.8h0m.3-2.1h0m0 1h0m.3-.9h0m0 1.1h0m.2-10.9h0m0 12.1h0m.1-5h0m0 5.4h0m.1-2.3h0m.2-.1h0m.1-1.3h0m.1 1.8h0m.2-2.1h0m0 2.9h0m.2-11.5h0m.1 4.3h0m0 5.4h0m.2-25h0m0 5.6h0m0 20.9h0m.1-3.1h0m.2-2.5h0m0 1.9h0m.1 2.6h0m.1-27.2h0m.1 23.1h0m.1 2.2h0m.2-9.3h0m.1 10.6h0m.3 .5h0m.2-5.5h0m.2 3.5h0m.1 1.8h0m.1-6.7h0m.1 1.2h0m0 4.9h0m.2 2.7h0m.1-14.1h0m.1 12.1h0m.1-12.1h0m0 .1h0m0 9.6h0m0 2.4h0m.1-.7h0m.2-2.7h0m0 3.5h0m.2-5.9h0m0 5.7h0m.1 1.8h0m.3-4h0m.1-6.4h0m0 8.4h0m0 .7h0m0 2h0m.2-4.6h0m0 2.7h0m0 .2h0m.2 2.1h0m.2-10.2h0m.1 6.6h0m0 2.5h0m.6 2.1h0m.5-4.9h0m.1 .7h0m.2-.7h0m19.3 2.2h0m.1-5.8h0m0 5.4h0m.2-3.2h0m.1-1.2h0m.2 3.9h0m.2 .3h0m.1-5.4h0m.2 3.7h0m.3-3.5h0m.3 6.4h0m.1-3.9h0m.1-.1h0m0 2.9h0m0 1.9h0m.1-1.9h0m.2-.8h0m.1 1.5h0m0 1.1h0m.1-5.1h0m.1 .9h0m0 .7h0m.1-7.2h0m.1 1.9h0m.1 2.4h0m0 .7h0m0 2.2h0m.2 .4h0m0 2.1h0m.1-2.6h0m.2 2.9h0m.3-12.1h0m0 12.5h0m.2-4.5h0m.1 2.3h0m.2-6h0m.1 3.4h0m.1 3.4h0m.1-2.4h0m0 1.6h0m.1-4.2h0m.2 5.3h0m.2-26.5h0m0 24.2h0m.1 1.6h0m.2-2.7h0m.1-15.9h0m.1 11.8h0m0 4.9h0m.1-11.9h0m.1 6.9h0m0 4.1h0m.1-1.1h0m0 3.6h0m.1-13h0m0 8.2h0m0 3.2h0m.1-11.1h0m0 11.5h0m0 2.6h0m.2-3.2h0m.2 3.5h0m.2-7.9h0m0 8.4h0m.2-7.1h0m.1 1h0m.2-1.4h0m.1 3.6h0m0 1h0m.4-1h0m0 2h0m0 1.6h0m.2 .1h0m.3-2.4h0m.1 2.2h0m.1-.7h0m.3-8.9h0m0 4.9h0m0 3.5h0m.3-1.7h0m.1 .4h0m0 .2h0m.1-.4h0m.2-11.5h0m.1-5.9h0m.3 18.8h0m.2-4.9h0m.2-12.1h0m0 15.2h0m.2 3.8h0m.2-10.9h0m.1 9.5h0m.1-11.5h0m.1 12.5h0m.3-7.8h0m0 2.2h0m0 3.2h0m0 2.2h0m.4 .6h0m0 .8h0m.1-3h0m.1-.5h0m.1 .8h0m.2-.3h0m.3 1.6h0m.2-2.3h0m.1 1.8h0m.2-3.8h0m.5-9.6h0m0 6.9h0m0 6.8h0m0 .6h0m.2-1.6h0m.2-4.5h0m0 5.3h0m.1-.1h0m.1 .5h0m.2-2.5h0m.7-.5h0m.3-2.5h0m.2 .5h0m0 2.8h0m0 1.4h0m.2-1.5h0m.1 2.4h0m.1-4.4h0m16.4 4.3h0m.1-.4h0m.5-2.8h0m.1-6.1h0m0 8h0m.1-.1h0m.1-1h0m0 2.5h0m.2-1.5h0m.1-.1h0m.7 1.9h0m.2-.3h0m.2-2.2h0m0 2.1h0m.2-1.4h0m0 .9h0m.1-14.2h0m0 5.9h0m0 8.8h0m.2-4.9h0m0 3.1h0m.2-7.8h0m0 4.6h0m.1 3.3h0m.1-6.2h0m0 4.4h0m.1-1.2h0m0 1.2h0m0 1.2h0m.2 .5h0m.1-8.7h0m.2 6.1h0m.3 5.4h0m.2-4.1h0m.2-4.3h0m0 2.8h0m0 .1h0m.1-5.4h0m.2 6.9h0m0 1h0m0 2.3h0m.1-6.5h0m.4 2.7h0m2.2 2.6h0m0 .5h0m.1 .9h0m.1-.7h0m0 .1h0m.2-7.5h0m.1 1.7h0m.1 5h0m.9-2.1h0m.2-2.9h0m0 1.6h0m.3 3.7h0m.1-11.9h0m0 11.2h0m.1-11h0m0 9.8h0m.1 2.1h0m.1-1.2h0m.1-10.2h0m0 7.2h0m.6 3.4h0m.1-.1h0m.2-3.2h0m0 .2h0m0 1.9h0m0 2.4h0m.1-1.3h0m.1-4.3h0m0 2.3h0m0 1.9h0m.4-2.5h0m0 2.5h0m.2-.7h0m.2-9h0m.2 5.4h0m.1 2.4h0m.2 3.6h0m.1-2.7h0m.1 1.4h0m.2-.8h0m.1-7.8h0m0 2.1h0m.1 8.4h0m.1 .8h0m.1-20.9h0m0 2.1h0m0 10.1h0m.1-10.8h0m0 18h0m0 1.2h0m.1-13.2h0m.1 5.6h0m.1-6.3h0m0 12.9h0m.2-3.1h0m.2 .6h0m.1 2.1h0m.1 1h0m.1 .2h0m.1-10.6h0m0 6.1h0m0 1.4h0m0 2.1h0m.3-5.2h0m.2 5.8h0m.1-.7h0m.1-4.6h0m.2 3.6h0m14.7-3.9h0m.3-7.2h0m0 5.3h0m0 5h0m.1-1.1h0m.2 .1h0m.1-2.2h0m.2 1.1h0m0 .8h0m0 1.5h0m.1-2.6h0m.3 1.5h0m.2-1.3h0m.1 2.2h0m0 .2h0m.2 0h0m.3-6.8h0m.3 .8h0m.1-1.4h0m0 5.3h0m.1-8.9h0m.1 4.5h0m.1 5.4h0m.1-1.5h0m.1 3h0m.2-6.9h0m0 6h0m.2-2.3h0m0 .1h0m0 1.9h0m0 .2h0m.1-6.5h0m.1 6h0m.5-4h0m.6 5.4h0m.3-9.9h0m.1 11.2h0m.5-4.4h0m0 3.4h0m.1-1.4h0m.2-1h0m0 .9h0m.1-7.5h0m.1-8.1h0m0 16.9h0m0 .3h0m.3-4h0m.3-18.9h0m0 19h0m0 3.6h0m.1-19.5h0m.1 6.1h0m.2 11h0m.1 2.4h0m.1-3.9h0m.2-3.4h0m0 6.9h0m0 .4h0m.1 1.4h0m.1-10.2h0m0 7.1h0m.1-7.6h0m.2 .9h0m0 8.3h0m0 1.7h0m.1-.3h0m.1-9.4h0m0 9.6h0m.1-22h0m.1 20.7h0m.1-12.9h0m0 1.9h0m0 10.3h0m0 2.1h0m.1-7.9h0m.2-9.9h0m0 13.9h0m0 1.8h0m.2-3.9h0m0 .9h0m0 2.1h0m0 .1h0m.1-20.5h0m.1 21.1h0m.1-.4h0m.1-18.1h0m.1 13.9h0m0 4.1h0m.1-.5h0m.1-12.4h0m0 4.8h0m.3 7.9h0m.2-4.3h0m.3 1.5h0m0 .5h0m.2 2.7h0m.1-.7h0m.2-.5h0m.3 2.1h0m.1-9.2h0m.2 4h0m0 2.5h0m.4-2.2h0m.2-2.7h0m.1-6.9h0m0 .7h0m.1-4.2h0m.1 2h0m0 10.1h0m0 1.8h0m.1 4h0m.3-4.1h0m0 4.6h0m.1-7.8h0m.1-6.8h0m.2 10.5h0m0 .1h0m.1-3h0m0 5.1h0m.1-3.5h0m0 3.5h0m.3 1.3h0m.1-5.4h0m0 6.3h0m.1-4.1h0m0 2.1h0m.1-.1h0m.1 1.3h0m.1 .4h0m.2-17.1h0m0 13h0m.1-1h0m.3 5h0m16.5-5.3h0m2 3.1h0m.7-8.5h0m.5 9.7h0m3-.8h0m.4 1.3h0m.5-4.2h0m.3-.5h0m.7 5.4h0m1-7.9h0m.4 .8h0m0 .1h0m1.2 3h0m1.9 1.9h0m11.5-1h0m.2-3.9h0m.1-.1h0m0 6.2h0m.1-2.5h0m0 3.7h0m.1-.4h0m.2-2.8h0m.1 4.7h0m.2-3.2h0m0 2.2h0m0 .8h0m.2 .1h0m.1-3.9h0m.1 4h0m0 .4h0m.1-1.1h0m0 .4h0m.5-2.8h0m0 1.7h0m.1 .5h0m.1-.8h0m0 .2h0m0 .7h0m.5-9.9h0m.1 11.2h0m.1-6h0m.1-18.7h0m.2 20.6h0m.1-2.2h0m0 6.3h0m.1-15.2h0m.1-10.7h0m0 5h0m.3 16.7h0m0 1h0m.3-10.5h0m.1-1.5h0m.1 11.7h0m0 1.2h0m0 1.8h0m.1-4.7h0m.3 .3h0m0 .7h0m.1-1.9h0m.3-7.9h0m0 7.4h0m0 .5h0m0 4.6h0m.1-10.3h0m.4-9.1h0m0 18.6h0m.1-.8h0m.1-1.5h0m0 1.4h0m.2-2.7h0m.1 3.4h0m.2-1.3h0m.1-4.8h0m.5 6.6h0m.1-5.2h0m.2 4.4h0m.1-3.3h0m.2 .8h0m0 4.3h0m.1-17.7h0m10.1 11.5h0m.5-4.2h0m0 3.5h0m.1-3.7h0m.5 4.6h0m.1-3.6h0m.1-1.6h0m0 7.7h0m.4-8.4h0m.1 0h0m0 .1h0m0 3.8h0m.1-16.9h0m0 3h0m0 14.3h0m.3 4.1h0m.2-5.3h0m0 4.5h0m.1-24.1h0m.1 23.3h0m.1-2.2h0m.1-6.8h0m.2 10.4h0m.1-7.9h0m0 3.9h0m.1-8.8h0m.1 12.6h0m0 .6h0m.1-26.8h0m0 25h0m.3-17.4h0m0 6.3h0m0 12.5h0m.1 1.4h0m.1-7h0m0 2.9h0m.1-8.4h0m0 .3h0m0 9h0m.1 1.5h0m.1-3.3h0m0 3.4h0m.3-10.1h0m.1 8.9h0m.2-10.3h0m0 7.2h0m.1 2.7h0m.2-7.6h0m.1 3.3h0m0 .3h0m0 .9h0m.1 3.2h0m.1-18.8h0m.1 11.9h0m.4-3.7h0m0 10.3h0m.2 1.1h0m.3-5.2h0m.2 1.5h0m0 1.9h0m.2-8.2h0m.4 7.1h0m0 2.6h0m0 .4h0m.1 1.3h0m.1-6.8h0m.1-5.5h0m.2 7.1h0m0 .6h0m0 3.3h0m.1-.9h0m.1 1h0m.3 .2h0m.1-2.1h0m.1 .9h0m.4-2.8h0m0 1h0m0 .1h0m0 1.5h0m.1 1.1h0m.1 1.1h0m8.4-3.1h0m.2-4.8h0m0 4.1h0m0 1h0m.9 2h0m.2-3.2h0m.2-1.5h0m.1-7.1h0m0 1.6h0m0 8.9h0m.2-2.5h0m0 3h0m.1-2h0m0 1.2h0m.1-17.6h0m0 .3h0m.1 17.8h0m.1-2.2h0m.1-3.6h0m0 1.4h0m0 4.6h0m.1-15.2h0m0 7.6h0m0 3.3h0m.1 1.3h0m.3 1h0m.2-2.7h0m0 5.1h0m.2-4.1h0m.8-7.9h0m.1 6.4h0m0 .8h0m.1-2.5h0m.2-1.5h0m0 9.6h0m.1-5.1h0m.1 3h0m.1 .5h0m.1-9.3h0m0 10.4h0m.1-8.7h0m.1 2.1h0m.4 3.5h0m0 2.4h0m.1-1.5h0m.2-9.5h0m0 5.4h0m0 6.1h0m.1-.7h0m0 1.6h0m.4-5.9h0m7.9 6.2h0m.8 0h0m.7 1.4h0m.1-2.6h0m.1-.3h0m0 3.3h0m.5-2h0m0 1h0m.2 .4h0m.5-8.5h0m.2 .8h0m0 2.1h0m.1 3.9h0m.3-15.4h0m.1 16h0m0 2.1h0m.4-1.8h0m.3-3.2h0m0 .4h0m0 3.6h0m.2-.6h0m0 .2h0m.2-10.7h0m0 10.2h0m.1-.4h0m.1-5.2h0"/>
<path stroke="#222" stroke-width="0.8" fill="none" d="M22.4 24.0V139.8H332.8"/>
<path stroke="#222" stroke-width="0.6" fill="none" d="M20.4 139.8h2M20.4 124.9h2M20.4 110h2M20.4 95h2M20.4 80.1h2M20.4 65.2h2M20.4 50.3h2M20.4 35.4h2M20.4 24.0h2M22.4 139.8v1.8M71.6 139.8v1.8M120.9 139.8v1.8M170.1 139.8v1.8M219.3 139.8v1.8M268.6 139.8v1.8M317.8 139.8v1.8M332.8 139.8v1.8"/>
<g font-size="4.6" fill="#222" text-anchor="end" transform="scale(1 1.15)"><text x="18.4" y="123.2">0</text><text x="18.4" y="110.2">2</text><text x="18.4" y="97.3">4</text><text x="18.4" y="84.3">6</text><text x="18.4" y="71.3">8</text><text x="18.4" y="58.3">10</text><text x="18.4" y="45.4">12</text><text x="18.4" y="32.4">14</text><text x="18.4" y="22.5">16</text></g>
<path stroke="#f33" stroke-width="0.7" stroke-dasharray="1.6 1.4" d="M22.4 98.4H332.8"/>
<g font-size="4.8" fill="#111" text-anchor="middle" transform="scale(1 1.15)"><text x="36.3" y="128.7">1</text><text x="62.8" y="128.7">2</text><text x="86.7" y="128.7">3</text><text x="107.3" y="128.7">4</text><text x="127.5" y="128.7">5</text><text x="146.1" y="128.7">6</text><text x="164.3" y="128.7">7</text><text x="180.6" y="128.7">8</text><text x="195.8" y="128.7">9</text><text x="211.4" y="128.7">10</text><text x="225.5" y="128.7">11</text><text x="240.5" y="128.7">12</text><text x="254" y="128.7">13</text><text x="265.7" y="128.7">14</text><text x="276.7" y="128.7">15</text><text x="285.7" y="128.7">16</text><text x="295.7" y="128.7">17</text><text x="303.7" y="128.7">18</text><text x="311.3" y="128.7">19</text><text x="318.2" y="128.7">20</text><text x="324.2" y="128.7">21</text><text x="330.5" y="128.7">22</text></g>
<text x="151.9" y="158.1" font-size="9.3" fill="#111" textLength="51.4" lengthAdjust="spacingAndGlyphs">Chromosome</text>
<text x="135.0" y="14.7" font-size="11.4" fill="#111">Whole brainstem</text>
<text transform="translate(0.3 10.6) scale(1 1.17)" font-size="12.4" font-weight="bold" fill="#000">a</text>
<text transform="translate(7.0 82.9) rotate(-90)" text-anchor="middle" font-size="8.7" fill="#111" textLength="50.7" lengthAdjust="spacingAndGlyphs">&#8722;log<tspan font-size="5.2" dy="1.6">10</tspan><tspan dy="-1.6"> </tspan><tspan font-style="italic">P</tspan>value</text>
<path stroke="#0000ff" stroke-width="1.8" stroke-linecap="round" d="M33.7 98.3h0m3.5-2.6h0m45.3-6.3h0m41.4-51.5h0m0 28.9h0m0 6.1h0m0 4.6h0m0 11.7h0m0 4.9h0m40.4 1.8h0m19.3-30.7h0m16.1 30.1h0m38.1-7.2h0m0 9.9h0m56.6-4h0"/>
<path stroke="#4682b4" stroke-width="1.8" stroke-linecap="round" d="M70.8 91h0m33.8-1.3h0m.9 5.3h0m32-6.3h0m14-23.8h0m0 4.1h0m0 8.5h0m0 4.7h0m0 7.9h0m91.4-58.9h0m0 4.5h0m0 27.6h0m0 2.1h0m0 6.7h0m0 3.7h0m0 3.5h0m0 1.6h0m0 17.1h0m78.1-19.3h0"/>
<g font-size="4.8" fill="#111" stroke="#111" stroke-width="0.05" transform="scale(1 1.15)"><text x="122" y="34.7" text-anchor="end">SGTB</text><text x="122.2" y="59.8" text-anchor="end">NLN</text><text x="122.2" y="64.8" text-anchor="end">CENPK</text><text x="122.2" y="69.5" text-anchor="end">TRIM23</text><text x="63.8" y="77.7" text-anchor="start">DIRC3</text><text x="83.8" y="79.4" text-anchor="start">MITF</text><text x="96.7" y="77.4" text-anchor="start">MRPL1</text><text x="115.5" y="77.3" text-anchor="start">PPWD1</text><text x="91.5" y="84.3" text-anchor="start">PKD2</text><text x="39" y="84.9" text-anchor="start">ANP32E</text><text x="34.4" y="89.2" text-anchor="start">MOV10</text><text x="125.5" y="83.5" text-anchor="start">TRAPPC13</text><text x="134.4" y="77" text-anchor="start">BMP6</text><text x="148.9" y="57.6" text-anchor="end">LATS1</text><text x="148.9" y="61.7" text-anchor="end">KATNA1</text><text x="152.6" y="57.6" text-anchor="start">PCMT1</text><text x="152.6" y="61.7" text-anchor="start">NUP43</text><text x="152.6" y="69.1" text-anchor="start">LRP11</text><text x="152.6" y="73.2" text-anchor="start">GINM1</text><text x="152.6" y="80" text-anchor="start">SAMD5</text><text x="165.8" y="85.1" text-anchor="start">CDK6</text><text x="185" y="58.4" text-anchor="start">TRPS1</text><text x="201" y="84.6" text-anchor="start">PAPPA</text><text x="241.3" y="32.7" text-anchor="end">RP11-144F15.1</text><text x="244.7" y="28.8" text-anchor="start">RFX4</text><text x="241.3" y="58.6" text-anchor="end">IGF1</text><text x="244.7" y="56.5" text-anchor="start">RIC8B</text><text x="244.7" y="64.4" text-anchor="start">PARPBP</text><text x="241.3" y="67.6" text-anchor="end">DRAM1</text><text x="241.3" y="72" text-anchor="end">NUP37</text><text x="244.7" y="70.7" text-anchor="start">CCDC53</text><text x="236.5" y="78.3" text-anchor="end">ATF1</text><text x="237" y="84.8" text-anchor="end">LIMA1</text><text x="244.6" y="84.8" text-anchor="start">GNPTAB</text><text x="293" y="83.4" text-anchor="end">NF1</text><text x="318.5" y="70.1" text-anchor="end">C20orf166</text></g>
<path fill="#4682b4" d="M400.3 139.2L400.3 126.9L400.8 127.5L401.3 128.2L401.8 127.7L402.3 127.9L402.8 127.2L403.3 127.9L403.8 128.1L404.3 126.2L404.8 127.8L405.3 127.4L405.8 128L406.3 127.6L406.8 127L407.3 128.1L407.8 127.8L408.3 126.6L408.8 127.2L409.3 126.3L409.8 127.2L410.3 126L410.8 127.5L411.3 125.3L411.8 127.5L412.3 126.5L412.8 127.1L413.3 126.2L413.8 127L414.3 126.7L414.8 127.3L415.3 127.4L415.8 127.4L416.3 126.3L416.8 126.9L417.3 127.4L417.8 127.5L418.3 127.7L418.8 126.1L419.3 126.7L419.8 126.4L420.3 126.9L420.8 127.1L421.3 126.6L421.8 127.7L422.3 128.1L422.8 127.8L423.3 128L423.8 127.4L424.3 126.9L424.8 128.1L425.3 127.5L425.8 127.6L426 126L426 139.2ZM448.1 139.2L448.1 124.9L448.6 126.7L449.1 124.3L449.6 127.6L450.1 127.4L450.6 128.9L451.1 127.3L451.6 128.5L452.1 126.5L452.6 128.1L453.1 127.3L453.6 127.3L454.1 126.6L454.6 125.3L455.1 126.6L455.6 128.2L456.1 127.5L456.6 128.8L457.1 128.4L457.6 128L458.1 128.6L458.6 128.2L459.1 127.7L459.6 128L460.1 128.8L460.6 128.6L461.1 128.6L461.6 128.5L462.1 128.1L462.6 128L463.1 127.7L463.6 127.4L464.1 127.3L464.6 127.8L465.1 127.8L465.6 126.3L466.1 126.4L466.6 126.9L467.1 127.3L467.6 127.6L468.1 126.8L468.5 127.8L468.5 139.2ZM488.3 139.2L488.3 128.6L488.8 126.8L489.3 127.7L489.8 127.3L490.3 126.2L490.8 125.2L491.3 127.8L491.8 125.6L492.3 126.6L492.8 127L493.3 126.3L493.8 127.7L494.3 128.4L494.8 128.8L495.3 129.1L495.8 127.7L496.3 128.5L496.8 128L497.3 126.8L497.8 128.1L498.3 128.2L498.8 127.6L499.3 127.7L499.8 128.4L500.3 127L500.8 127.9L501.3 127.1L501.8 127.6L502.3 128.2L502.8 126.9L503.3 129L503.8 128.8L504.3 129L504.8 128.3L505.3 128.1L505.8 127.4L506.3 127.4L506.6 126.7L506.6 139.2ZM523.2 139.2L523.2 127.4L523.7 127.5L524.2 128.7L524.7 127.7L525.2 129L525.7 128.3L526.2 128.5L526.7 128.6L527.2 128.6L527.7 129.2L528.2 128.7L528.7 128.6L529.2 126.6L529.7 127L530.2 127.6L530.7 128.5L531.2 128.8L531.7 127.8L532.2 128.5L532.7 128.6L533.2 128.5L533.7 128.8L534.2 127.3L534.7 127.3L535.2 128.1L535.7 129L536.2 128.7L536.7 128.6L537.2 126.8L537.7 127.5L538.2 127L538.7 128.2L538.7 128.1L538.7 139.2ZM555 139.2L555 127.9L555.5 128.2L556 127.9L556.5 128.8L557 128.6L557.5 127.7L558 127.6L558.5 127.3L559 128.7L559.5 129L560 128.3L560.5 128.8L561 128.7L561.5 128.5L562 127.3L562.5 125.5L563 127.6L563.5 127.8L564 128L564.5 127.8L565 127.9L565.5 126.8L566 127.9L566.5 127.2L567 128.1L567.5 127.9L568 128.8L568.5 128.5L568.9 128.7L568.9 139.2ZM584.5 139.2L584.5 127.3L585 125.1L585.5 125L586 125.3L586.5 125L587 126.9L587.5 126.5L588 127.5L588.5 126.6L589 127.3L589.5 126.8L590 126.2L590.5 127.1L591 127.3L591.5 127.4L592 126.4L592.5 126.3L593 128.1L593.5 127.7L594 128.5L594.5 127.6L595 126L595.5 125.4L596 127.1L596.5 124.5L597 127.8L597.5 128L598 128.5L598.5 127.3L599 127L599.4 128.3L599.4 139.2ZM612.5 139.2L612.5 126.9L613 125.9L613.5 125.7L614 124L614.5 125.5L615 127.2L615.5 127.1L616 126.9L616.5 127.5L617 127.6L617.5 127.2L618 127L618.5 127.3L619 126.1L619.5 125.2L620 127.8L620.5 126.8L621 127.1L621.5 126L621.9 125.3L621.9 139.2ZM632.6 139.2L632.6 125.1L633.1 125.6L633.6 125.7L634.1 124.8L634.6 125.7L635.1 125.3L635.6 125.9L636.1 125.4L636.6 125.7L637.1 125.4L637.6 126.1L638.1 124.6L638.6 125.4L639.1 125L639.6 124L640.1 125.7L640.6 125.8L641.1 126.5L641.6 126.7L642.1 126.5L642.4 126.8L642.4 139.2ZM651.9 139.2L651.9 127.8L652.4 127.5L652.9 128L653.4 127.1L653.9 128.2L654.4 126.6L654.9 127.6L655.4 126.9L655.9 126.3L656.4 126.5L656.9 126.9L657.4 127.5L657.9 127.5L658.4 126.7L658.9 126.3L659.3 126.3L659.3 139.2ZM666.3 139.2L666.3 125.8L666.8 126.2L667.3 126.3L667.8 125.4L668.3 124L668.8 125.9L669.3 125.4L669.8 126.2L670.3 125.3L670.8 126.3L671.3 124.6L671.8 124.4L672.3 123.5L672.8 123.8L673.3 125.7L673.8 124.3L673.8 139.2ZM680 139.2L680 116.5L680.5 118.8L681 119L681.5 119.9L682 120.1L682.5 119.7L683 120.2L683.5 118.6L684 119.4L684.2 117.4L684.2 139.2Z"/>
<path fill="#0000ff" d="M374.6 139.2L374.6 123.4L375.1 123.4L375.6 123.4L376.1 122L376.6 121.3L377.1 122.8L377.6 122.1L378.1 122.6L378.6 124.4L379.1 121.5L379.6 124.1L380.1 119.6L380.6 121.4L381.1 122.2L381.6 123.4L382.1 123.1L382.6 121.5L383.1 123.6L383.6 124L384.1 125.1L384.6 122.4L385.1 124L385.6 120.1L386.1 122.3L386.6 123.9L387.1 120.9L387.1 139.2ZM388.1 139.2L388.1 123.8L388.6 123.2L389.1 123.1L389.6 123.1L390.1 124.5L390.6 123.5L391.1 121.3L391.6 122.6L392.1 121.1L392.6 123.8L393.1 122.1L393.6 124.6L394.1 123L394.6 124.4L395.1 122.9L395.6 123.4L396.1 121.7L396.6 124.5L397.1 121.9L397.6 124.7L398.1 124.2L398.6 123.3L399.1 124.3L399.6 124.2L399.7 124.9L399.7 139.2ZM426.6 139.2L426.6 124.3L427.1 123.1L427.6 125.2L428.1 125.3L428.6 125.5L429.1 125.8L429.6 124.8L430.1 126L430.6 125.2L431.1 124.8L431.6 125.5L432.1 124L432.6 123.8L433.1 125.5L433.6 125.3L434.1 125.4L434.6 125.7L435.1 123.9L435.6 123.7L436.1 122.6L436.6 122.8L437.1 123.4L437.6 124.4L438.1 124.5L438.6 125.3L439.1 125.7L439.6 126.3L440.1 125.3L440.6 126.1L441.1 125.3L441.6 124.2L442.1 125.5L442.6 125.2L443.1 123.7L443.6 124.6L444.1 125L444.6 123.8L445.1 124.1L445.6 123.8L446.1 124.2L446.6 122.6L447.1 121.1L447.5 122.6L447.5 139.2ZM469.1 139.2L469.1 126.1L469.6 125.6L470.1 124.1L470.6 126.3L471.1 126.3L471.6 126.4L472.1 124L472.6 124.2L473.1 123.9L473.6 124.3L474.1 123.7L474.6 126.3L475.1 125.2L475.6 126.6L476.1 126.4L476.6 126.1L477.1 124.6L477.6 125.8L478.1 124.6L478.6 126.1L479.1 126.2L479.6 125.9L480.1 126L480.6 123.3L481.1 125.7L481.6 123.5L482.1 123.3L482.6 126L483.1 124.3L483.6 125.3L484.1 124.1L484.6 124.7L485.1 125.1L485.6 125.3L486.1 125.2L486.6 126.4L487.1 125.2L487.6 126.4L487.7 123.7L487.7 139.2ZM507.2 139.2L507.2 124.8L507.7 125.6L508.2 125.3L508.7 124.3L509.2 123.3L509.7 120.3L510.2 120L510.7 123.6L511.2 121.9L511.7 122.8L512.2 124.6L512.7 124.8L513.2 125.3L513.7 122.2L514.2 123.2L514.7 125.6L515.2 126.3L515.7 126.3L516.2 126.3L516.7 125.1L517.2 123.8L517.7 123.8L518.2 124.5L518.7 123.6L519.2 124.2L519.7 122.1L520.2 123.9L520.7 123L521.2 125.2L521.7 125.5L522.2 125.9L522.6 125.3L522.6 139.2ZM539.3 139.2L539.3 123.6L539.8 124.6L540.3 122.7L540.8 123.2L541.3 122L541.8 122.2L542.3 123.3L542.8 123.4L543.3 125L543.8 122L544.3 122.5L544.8 121.9L544.8 139.2ZM546.8 139.2L546.8 123.5L547.3 123.7L547.8 125.5L548.3 124.5L548.8 124.3L549.3 123L549.8 123.4L550.3 124.2L550.8 124L551.3 121.9L551.8 122.8L552.3 122.9L552.8 121.7L553.3 123.3L553.8 118.6L554.3 124.2L554.4 123.3L554.4 139.2ZM569.5 139.2L569.5 118.6L570 120.6L570.5 121.8L571 120.8L571.5 122.3L572 123L572.5 122.3L573 122.3L573.5 119.3L574 119L574.5 119.6L575 119.3L575.5 121.8L576 118.8L576.5 119.9L577 121.8L577.5 119.8L578 120.4L578.5 122L579 120.9L579.5 122.4L580 121.2L580.5 119.2L581 121.6L581.5 120.9L582 119.9L582.5 122.3L583 121.6L583.5 120.2L583.9 118.6L583.9 139.2ZM600.5 139.2L600.5 128.6L601 127L601.5 126.3L602 128.8L602.5 127.6L603 128.8L603.5 127.3L604 127.2L604.5 128.1L605 126L605.5 128.1L606 126L606.5 126.6L607 128.9L607.5 127.4L608 129.5L608.5 128.1L609 129.4L609.5 127.8L610 125.7L610.3 127.1L610.3 139.2ZM624.6 139.2L624.6 118.8L625.1 118.9L625.6 116.5L626.1 118.5L626.6 119.3L627.1 118.7L627.6 119.5L628.1 117.5L628.6 119.8L629.1 118L629.6 118.3L630.1 116.8L630.6 115.2L631.1 119.1L631.6 119.4L632 117.2L632 139.2ZM643 139.2L643 112.8L643.5 114.1L644 114.7L644.5 116.4L645 113.3L645.5 116.2L646 113.8L646.5 114.4L647 111.7L647.5 115.3L648 115.8L648.5 115.5L649 113.8L649.5 112.3L650 114.2L650.5 113L651 112.2L651.3 115.1L651.3 139.2ZM659.9 139.2L659.9 115.5L660.4 116.4L660.9 119.2L661.4 119.2L661.9 119.4L662.4 120.1L662.9 119.1L663.4 119.1L663.9 116.4L664.4 116L664.9 112.7L665.4 116.6L665.7 115.7L665.7 139.2ZM675.5 139.2L675.5 117.2L676 118L676.5 117.8L677 118L677.5 117.9L678 117.7L678.5 113.4L678.6 115.8L678.6 139.2Z"/>
<path stroke="#fff" stroke-width="0.9" stroke-linecap="round" fill="none" opacity="0.85" d="M377 126.5h0m7.7-2.5h0m1.8 2.6h0m.1 1.6h0m.4-4.6h0m8.8 2h0m1.6 .9h0m0 2.7h0m3.6 1.2h0m2.8 2.9h0m.3-4.2h0m.4-1.2h0m0 1.2h0m.7-.4h0m4-1.7h0m.1 1.3h0m1.2 .5h0m3.4-1h0m.7 .7h0m1.5 .8h0m.5 2.6h0m.2-1.4h0m.2-2.7h0m.6 2.1h0m1.2-1.2h0m4.7 .8h0m.1 1.3h0m1.2 0h0m3.1-.9h0m2.4-.2h0m4.4-1.1h0m2-3.5h0m2.3 4.5h0m2.2-2.8h0m10.4 3.7h0m2.5-.5h0m.3-.4h0m1.2 .2h0m.2-1h0m.7 1.3h0m.3 1h0m.9-.7h0m1.1-.3h0m1.8 .3h0m1.5 .3h0m1.4-1.8h0m1.7 .3h0m.4 .3h0m.1-2.3h0m3 1.3h0m4.6-.6h0m5.6 2h0m.6-2.7h0m.6 1.6h0m7.5-1h0m3 3.8h0m.1-2.8h0m1.8-1h0m1.4 .8h0m.3 3.3h0m2.5-2.4h0m4.7-1.6h0m.5 .4h0m.3 .8h0m0 1h0m2.1 2h0m.2-2.2h0m.8 .8h0m.8-1.8h0m10.6 1.1h0m.4-2.1h0m2.9 0h0m2.8 1.4h0m.5 1.3h0m1.5-2.1h0m1.1 3.9h0m2.6-.3h0m.7-3.6h0m.6 2.8h0m1.8-1.7h0m1.2 1.5h0m.3-1.7h0m.9-1h0m2.3 1.5h0m1.8-2h0m10.7-2.4h0m3.4 4.2h0m.7-3.4h0m.9-6.7h0m1.4 11.6h0m.4-.4h0m2 2.2h0m2.2-2.6h0m.6-.1h0m2.1-2h0m3.6 3.3h0m.1-2.6h0m.1 .7h0m2.1 0h0m0 .9h0m6.8-8.4h0m.1 3.9h0m0 2.6h0m4.8-3.5h0m6 2h0m.4 .5h0m1.9 1.4h0m1.1 1.2h0m3-2.1h0m.9 1.2h0m2.7-1.5h0m2.5 2.9h0m.6-1.9h0m0 1.3h0m.1-.9h0m1.7-1.4h0m2.3 .7h0m3.2 3.4h0m6.1-3.4h0m0 .9h0m.8-2.4h0m1.1-.7h0m.8 3.5h0m1.9 2.5h0m.6-3.7h0m7.5-1h0m6.2-1.6h0m1 .8h0m3.4 2.4h0m1.3-1.3h0m2.9 .2h0m.6-1.1h0m1.2 1.2h0m.4 .4h0m4.2-9.5h0m4.8 .4h0m1.2 9.6h0m2.5 .2h0m1.6-2.2h0m.9 2.9h0m1.9-.4h0m2.6-4.4h0m4.4 2.4h0m1.4 1.8h0m.5 .8h0m.2 .3h0m.9-2.5h0m1.4 1.1h0m10.4-4.7h0m.4-.9h0m1.8 .9h0"/>
<path stroke="#4682b4" stroke-width="1.5" stroke-linecap="round" fill="none" d="M400.2 126.7h0m.2-5.8h0m.1 4.7h0m.4-7.1h0m.3 9.9h0m.2-2.3h0m.2 1.7h0m0 .1h0m.1-5.2h0m.2-2.1h0m0 7.8h0m.5-7.8h0m0 5.3h0m.1 1.1h0m0 1.2h0m.1-7.4h0m.1 5.6h0m.1 .7h0m.2-3.2h0m.1-3.4h0m0 8h0m.2-14.3h0m0 9.3h0m0 3.9h0m.2-1.5h0m0 2.5h0m.1-4.5h0m0 4.7h0m.1-2h0m.1-1.3h0m.1-1.2h0m.1-24.1h0m0 26.9h0m.2-25.8h0m0 25h0m.3-1.7h0m.1-5.2h0m.3 2.4h0m.1-1.9h0m0 2.9h0m.2 4.8h0m.1-4.2h0m0 2.6h0m0 1.1h0m0 .7h0m.1-4.8h0m0 .2h0m0 1.9h0m0 2.8h0m.1-10.1h0m.6 9.3h0m.1-9.4h0m0 7.8h0m.1 .6h0m.1-6.7h0m.2-11.1h0m0 13.3h0m.3 4.9h0m.2 2.2h0m.1 .1h0m0 .1h0m.2 .3h0m.1-2.1h0m0 .1h0m.1-16.4h0m.3 3.9h0m.1 2.8h0m0 10.4h0m.2-3.2h0m.2-6h0m.1 8.6h0m.3-3.3h0m.2 1.3h0m0 2.9h0m.3-14h0m0 6.4h0m0 1.7h0m.1 4.6h0m.2-5.2h0m0 1.9h0m.1-1.9h0m0 1h0m.2-.3h0m0 3.4h0m0 2h0m.1-4.8h0m.1 1.7h0m.2-9.1h0m0 10.6h0m0 .5h0m.2-.5h0m.1-12.3h0m0 12.5h0m0 .8h0m.2-.1h0m.1-.9h0m.2-1h0m.1-1.3h0m.2-14.8h0m0 10.7h0m.1 4.5h0m.1 0h0m.2 2.7h0m.2 .2h0m0 1.4h0m.3-15.3h0m0 .9h0m.2 3.4h0m0 8.9h0m.1-18h0m0 7.4h0m0 2.5h0m0 2h0m.1 5.8h0m0 1h0m.1-10.6h0m.2 8.1h0m0 .6h0m.1-10.3h0m0 9.3h0m.4-9.7h0m.1-3.6h0m0 13.3h0m.1-2.3h0m.2 4.9h0m.2-4.7h0m0 5.2h0m.3-5h0m0 3.8h0m0 .5h0m.2-6.7h0m.1 3.6h0m0 3.9h0m.1-9h0m0 6.1h0m.2-14.6h0m0 17.8h0m.2-14.6h0m0 8.4h0m.4-2.3h0m.2-1.9h0m0 6.7h0m.4-1.8h0m0 5h0m.2-8.2h0m.1 6.9h0m0 .3h0m.5 .4h0m.1-.3h0m.2-7h0m0 1.4h0m0 .2h0m.1 5.8h0m.1 1.7h0m.2-.1h0m.4-.4h0m.1-5h0m.1 0h0m0 5.5h0m.1 .1h0m.2-5.1h0m.1 2.6h0m.2-1.4h0m0 1.6h0m.2-2.9h0m0 3.5h0m.3-2.7h0m0 3.2h0m.3-4.5h0m.4 2.4h0m.3-2.7h0m.6 .6h0m.1 4h0m0 .1h0m0 .4h0m.1-4.5h0m0 3.8h0m.2 .6h0m.1-2.7h0m.3-2h0m0 5.5h0m.1-5.5h0m0 2.5h0m0 2.6h0m.1 0h0m0 .4h0m.2-2h0m.3-2.6h0m0 5.1h0m0 .2h0m.2-7.1h0m.3 1.4h0m0 1.3h0m.3-4h0m0 1.6h0m.2 2.9h0m.1 3.1h0m.2-5.2h0m.2 3.5h0m.1 .2h0m.1-7.3h0m0 8.3h0m.3-10.6h0m0 8.6h0m.1-.7h0m.1 3.4h0m.1-1.8h0m.2 1.4h0m.1-3.7h0m0 .6h0m.1-1.4h0m.1 2.2h0m.1 2h0m0 .1h0m.1-12.7h0m0 3.3h0m.1 7.4h0m0 1.4h0m.1-15.5h0m0 3.5h0m.1-12.4h0m0 21h0m0 1.3h0m.2-12.6h0m0 1.4h0m0 13h0m.2-4.8h0m0 4.1h0m0 .1h0m.2-15h0m21.5 6.9h0m0 5h0m.1-.6h0m.2 1.8h0m.5-1.4h0m0 1.8h0m.1-7.8h0m0 9.4h0m.2-4.3h0m0 3.1h0m.2-.8h0m.4-3.6h0m.1 2h0m.1-1.2h0m0 4h0m0 .2h0m0 2.1h0m.1 .2h0m.2-6.4h0m0 6.2h0m.1-8.3h0m.3 8.8h0m.2-3.4h0m.2 .3h0m.2-1h0m.5-.2h0m0 3.5h0m.2-8.3h0m0 6.7h0m.1-7.9h0m.2 8.7h0m.2-3.5h0m0 2.6h0m.3-.7h0m0 .5h0m.3-7.6h0m0 7.4h0m.3 .5h0m.1 1.6h0m.1-1.5h0m.1-5.9h0m.1 2.1h0m.5 5.2h0m.3-7.8h0m0 5.6h0m.1-11.3h0m.1 6.5h0m0 5h0m.1-11.9h0m.1 9h0m0 .5h0m.2-13.2h0m0 9.2h0m0 5.9h0m.1 1.2h0m.2-13.6h0m.1 15.4h0m.1-16.6h0m0 17.3h0m.1-24h0m0 14.2h0m0 1.5h0m0 5.3h0m.1 2.4h0m.1-4.7h0m.2-.3h0m0 4.7h0m.1-1.7h0m.2-1.3h0m.2-.7h0m.2 5.4h0m.2 0h0m.1-.1h0m.4-2h0m.2-2.2h0m.1 1.6h0m.2-1.7h0m.1-4.8h0m0 2.4h0m0 3h0m.1-2h0m0 .4h0m0 .8h0m.1 2.4h0m0 1.2h0m.2-5.3h0m0 3.3h0m0 1.9h0m.2-26.3h0m.3 24.1h0m.1 1.2h0m0 .8h0m.1-.7h0m.1 1h0m.3-1.1h0m.1-5.5h0m.7 3.7h0m.4-18h0m0 13h0m0 4.1h0m.1 4.1h0m.1 .9h0m.1-2.2h0m0 2.1h0m.2-3.4h0m.1-.7h0m0 .1h0m.1-25.5h0m0 19.3h0m0 8.9h0m0 .2h0m.2-1.5h0m.1-13.9h0m0 2.9h0m0 10.4h0m0 1.1h0m0 .3h0m.3-25.6h0m0 21.7h0m.1-23.4h0m0 8.5h0m0 18.9h0m.1-2.7h0m0 1.4h0m0 .6h0m0 1.8h0m.1-1h0m.1-3.7h0m0 .8h0m.1 1.8h0m.2 .6h0m.1-5.6h0m0 1.5h0m.2 .4h0m0 4.8h0m.1-.2h0m.1-.7h0m0 .6h0m.1-2.9h0m.2-6.4h0m0 2.4h0m.2 1.3h0m.3 1.5h0m0 3.8h0m.3-6.6h0m0 .8h0m.1 4.3h0m.3-7.6h0m0 7.6h0m.1-.9h0m.4-8.5h0m0 7.8h0m.1 2.7h0m.1-12.6h0m0 10.6h0m.1-.9h0m0 1.5h0m.1-3.3h0m.1 2.9h0m.2-7.8h0m0 9.5h0m.1-.4h0m.1-1.1h0m.8-3.1h0m.2 5h0m.2-5.4h0m0 3.4h0m.1-4.5h0m0 .7h0m0 3.3h0m.4-.5h0m0 1.4h0m.1-2.8h0m.1-1.6h0m0 .8h0m.3-7.9h0m0 8.6h0m0 .1h0m.4 0h0m0 .2h0m19.4 1.5h0m0 1.8h0m.3 1.6h0m.3-2.6h0m.5 2.5h0m.1-3.7h0m.1-1.7h0m.4-.6h0m.5-15.3h0m.1 17.6h0m.3-10.6h0m.1 2h0m0 6.2h0m.1 3.5h0m.1-3.1h0m0 2h0m.3-3.1h0m0 2.3h0m.1 1.3h0m.1 .3h0m.1 .1h0m.2 .1h0m.1-4h0m0 1.4h0m.1-8h0m.1-9.1h0m.2 19.6h0m0 .2h0m0 .2h0m0 .1h0m0 .8h0m.2-1.5h0m0 2h0m.1-14.7h0m.2 1.3h0m0 8.7h0m0 2.3h0m.1 1.4h0m.1-26.4h0m0 25.9h0m.1-16.5h0m0 17h0m.1-2.3h0m0 .1h0m.1-7.6h0m.2-8h0m0 9.8h0m.2 8.2h0m0 .3h0m.1-30.8h0m0 10.3h0m0 17.1h0m.2 3.1h0m.3-8.1h0m0 3.5h0m0 1.8h0m.1 3.8h0m.1-11.4h0m.1 6.6h0m0 3.4h0m0 .2h0m0 2.9h0m.1-14.5h0m.3 14.3h0m.1-5.7h0m0 .5h0m0 1.3h0m0 1.5h0m0 3h0m.2-5.9h0m0 1h0m0 2.2h0m0 2.1h0m.1-4.5h0m.1 .7h0m.1-1.6h0m.2 .7h0m0 2.8h0m.1-1.6h0m0 2h0m.1-1.3h0m.1-3.3h0m.1-8.2h0m0 9.4h0m.1 3.8h0m0 .7h0m.4-5.9h0m.1-5.1h0m0 9.9h0m.1 .8h0m.1-1.1h0m.2-1.3h0m.3-4.1h0m.1 6.6h0m.1-2.9h0m.2 .6h0m.1-16.7h0m.4 18.7h0m0 .9h0m.2-4.3h0m.1 .8h0m.3-5.9h0m.1 8.5h0m.1-5.5h0m.2 3.8h0m.1-8.8h0m.1 3.1h0m0 8.3h0m.1-11h0m.1 4.5h0m0 2.7h0m.2 2.5h0m0 .1h0m.1-7.8h0m0 7.6h0m.1-1.3h0m.1-5.3h0m0 .1h0m.1-4.3h0m0 8.1h0m.1 1.9h0m.2 1.2h0m.1 .3h0m.3-12.3h0m.2 11.7h0m.2-3.3h0m.2-14.2h0m0 3.7h0m0 10.5h0m.1 1.7h0m.1-7h0m0 7.5h0m.1-2.6h0m.4 3.1h0m.1 1h0m.4-2.1h0m0 1.6h0m.4 .3h0m.2-13.6h0m0 12.5h0m.2 1.7h0m.2-8.4h0m0 5.6h0m.2 3.7h0m.1-1.2h0m.3-3.6h0m0 3.6h0m.3 .1h0m.1-5h0m0 4.4h0m.2-4h0m0 4.2h0m.1-5.1h0m0 4.2h0m.1-2h0m0 3.8h0m.2-5.2h0m.1 3h0m.1-7.3h0m0 5.3h0m.1 2.9h0m.1-6.2h0m.2-8.1h0m0 15h0m.3-18.9h0m.1 18.6h0m.2-12h0m16.4-6.3h0m.1 18.7h0m.4-4.2h0m.1-8.4h0m0 .3h0m0 9.3h0m.4 3.4h0m.1-5.6h0m.1 2.4h0m0 .4h0m.1-15.1h0m.1 16.6h0m.4-17.9h0m0 15.5h0m0 1.2h0m0 .6h0m.1 2h0m0 .6h0m.1-5h0m0 4.4h0m.1-5.8h0m0 2.4h0m.1 3.9h0m.1 .3h0m.1-14.5h0m0 11.8h0m0 .8h0m.1 1h0m.4-.4h0m.2-9h0m.1 9.1h0m.4-2h0m.1-1.6h0m.3 3.8h0m.2-5.2h0m0 .9h0m.1 4.7h0m.1-1.4h0m.1-7h0m0 5.3h0m.1-3h0m.2-1.1h0m0 2.7h0m.1 5h0m.1-1.9h0m.1 .3h0m.1-1.1h0m.3 1.4h0m.2 .3h0m.1-.8h0m.1-3.1h0m0 1.8h0m.1-6.9h0m0 5.7h0m0 1.6h0m.1-2.1h0m.1 1.2h0m.1-7.2h0m.1 4.4h0m0 1.2h0m.1-3.3h0m.2 1h0m0 4.7h0m.2-17h0m0 5.2h0m0 1.8h0m0 6.9h0m.1-8.8h0m.1 10.2h0m.1 0h0m.1-16.4h0m0 12h0m0 3.3h0m.1-3.2h0m.1 3.4h0m.1-1.6h0m0 4.5h0m.2-.2h0m.1 1.4h0m.2-3.9h0m.2 3h0m.2-1.7h0m.1-14.1h0m0 7.3h0m.1 6.1h0m0 3.1h0m.6 .2h0m.2 0h0m.3-3.2h0m0 3.2h0m.1-9.1h0m.1 7h0m.2-3.6h0m0 3.4h0m.3 .8h0m0 2.9h0m.1-3.8h0m.4-1.1h0m.3-5.1h0m0 8.3h0m.2-8.1h0m.1 7.8h0m.1-3.7h0m0 1.6h0m.3 2.5h0m.1-2.7h0m0 3.1h0m.2-19.8h0m0 17.9h0m.4 2.2h0m.1-9.7h0m.2-6.6h0m0 3.6h0m.2-17.5h0m0 23h0m0 2.1h0m0 4.9h0m.1-1.6h0m.1-9.5h0m0 6.5h0m0 5.6h0m.1-5.1h0m.1-5.3h0m0 8.2h0m.1-9.3h0m0 4.7h0m.2-27.7h0m0 20.4h0m0 8h0m.1-27.5h0m.3 .3h0m0 27.4h0m.4-1.5h0m.3-1.7h0m0 7.2h0m.1-5.7h0m.1 5.2h0m.1-4.6h0m.2 1.5h0m0 2.6h0m.1-15.6h0m0 13.5h0m.1-3.7h0m0 7.9h0m.1-6.6h0m0 6.3h0m.8-9.7h0m15.1 3.7h0m.7 6.5h0m.1-19.4h0m.1 15.7h0m0 1.1h0m.1-2.8h0m0 2.6h0m0 1.6h0m0 1h0m0 .1h0m.1-13.9h0m.1 3.8h0m0 7.5h0m.4-5.8h0m0 7.9h0m.1-20.9h0m0 5.4h0m0 13.4h0m.2-31.2h0m0 32h0m.1 2.2h0m.3-6.9h0m.1-17.9h0m.2 20.9h0m0 3.1h0m.1-1.8h0m0 .7h0m0 .8h0m.1 .2h0m.2-21.3h0m.2 19.6h0m.4-1.5h0m.1 2.5h0m0 .1h0m.1 .4h0m.3-7.5h0m.1 3.7h0m.1-3.3h0m0 1.5h0m0 6.2h0m.1-16.3h0m.3 12.3h0m.1 2.5h0m.1-2.3h0m0 2.6h0m.1-1.8h0m.2-.1h0m.2 2.4h0m.1 1.5h0m.1 0h0m.2-11.8h0m0 .2h0m0 8.6h0m0 1.7h0m0 .8h0m.1-6.3h0m.2 2.2h0m0 1.8h0m.4-7.5h0m0 7.5h0m.1-3.6h0m0 3.9h0m.1 2.4h0m.1-2.7h0m0 2h0m.1-3.4h0m.1 2.8h0m.2-5.2h0m.1 3.5h0m.3-.3h0m.1-7.6h0m0 .1h0m.1 7.2h0m.2-4h0m0 5.3h0m.1-2.7h0m.1-14.7h0m.2 10h0m0 8.1h0m.1-2.8h0m.2 .5h0m.1-5.1h0m.1 1.3h0m.1-3.4h0m0 8.3h0m.1 1.7h0m.1-10.7h0m.1 2.8h0m0 6.9h0m.1-1.2h0m.2-4.5h0m.1 .3h0m.1 .9h0m.1 4.4h0m.2-1.9h0m0 1.9h0m.1-1.9h0m.1-10.3h0m0 12.8h0m.1-4.2h0m0 .3h0m0 .5h0m0 1.5h0m.1-12.3h0m.1 9.2h0m.1-1.6h0m0 3.5h0m0 1.6h0m.1-.5h0m.1-2.9h0m.1 5.7h0m1-5.8h0m0 5h0m.2-11.7h0m0 12.5h0m.1-1.1h0m.3-2.8h0m0 1.9h0m.3 .8h0m.3-1.3h0m0 2.6h0m.2-.4h0m.2-2.4h0m.2-9h0m.1 9.8h0m0 2.4h0m.1-13.3h0m0 13.4h0m.1-8.7h0m.1 1.8h0m0 2.1h0m.1 2.9h0m15.2-2.6h0m.1 3.2h0m.1-1.4h0m.1-2.7h0m.1 .3h0m0 4h0m.1-8.1h0m.1-8.6h0m0 10.2h0m.2 4.3h0m.1-.1h0m.1-3.2h0m.1 1.5h0m.1-5h0m.2-7.5h0m0 8.8h0m0 4h0m.1 1.6h0m.1-.9h0m.1-20.2h0m0 9.3h0m.1 11.7h0m.1-.5h0m.2 0h0m.1 .1h0m.1-7.7h0m.3-1.2h0m.1 7h0m0 3.2h0m.2-1.4h0m0 1.9h0m.1-.6h0m.3-.9h0m.1-7.3h0m.1 5.2h0m0 3.8h0m.1-11.6h0m.1-6.2h0m.1 8.1h0m0 8.3h0m.1-3.8h0m0 1.9h0m.2-1.8h0m.1 .4h0m0 2.1h0m.1-10.2h0m.1 7.6h0m0 3.7h0m.3-5.7h0m.2 2.5h0m0 2.2h0m.1 1.3h0m.4-.8h0m.1 0h0m.3 1.4h0m.1-7.5h0m.1 1.4h0m0 3.5h0m.2-22.7h0m0 19.7h0m.2-3.1h0m0 7.5h0m0 .5h0m.1 1.8h0m.1-17h0m.2 6h0m.2 11h0m.3-5.2h0m.1 2.9h0m0 2.4h0m.1-1.6h0m.1 .3h0m.1 0h0m.1-4.7h0m0 3.6h0m.4-3.2h0m0 1.5h0m0 2.5h0m.1-2.2h0m.3 2.8h0m.2-1h0m.1-5.3h0m.2-.7h0m0 5.3h0m0 2.4h0m.1-15.1h0m.1 6.2h0m0 2h0m.2 4.8h0m.1-4.6h0m0 4h0m.1 3.4h0m.2-17.3h0m.1 13.4h0m0 3.6h0m.1-5.9h0m.1 3.9h0m.1 2h0m.2-12.4h0m.3 8.5h0m0 2.6h0m.1-1h0m.1-4h0m0 .2h0m0 3.3h0m.2-27.3h0m0 .3h0m0 9h0m.1-11.4h0m0 22.6h0m0 4.3h0m.1-6.4h0m0 1.3h0m.1 5.7h0m.1 3.2h0m.1-.1h0m0 .1h0m.1-3.6h0m.2-7.7h0m.1 3.6h0m.1 5.3h0m.1-.4h0m.1 .2h0m.2 1h0m.4-6.4h0m.1 8.5h0m.2-.8h0m0 .1h0m.1 2h0m.2-7.5h0m0 .6h0m0 6.6h0m.1-3.8h0m.2-1.5h0m.1-8.8h0m0 11.1h0m.4 .5h0m.1-5.4h0m0 4.2h0m.4 3.1h0m.2-4.3h0m.1-1.7h0m0 6.2h0m12.1-7.1h0m.6-19.3h0m.1 25.1h0m0 .4h0m.1-22.1h0m0 16h0m0 4h0m.1-.1h0m.1-27.3h0m.1-5.3h0m.2 33.2h0m.1-31.8h0m0 3.3h0m.1 25h0m.2-18.4h0m0 22.9h0m.1-26.2h0m.1 25.8h0m.1-5.2h0m.2-3.3h0m.1-.5h0m0 4.6h0m.2 .3h0m0 .6h0m0 1.4h0m.3 1.7h0m.1-3h0m.1 2h0m.1-1.6h0m.1 3.7h0m.1 1h0m.2 0h0m.1-1.1h0m.2-.3h0m.2 1.2h0m.1-9.3h0m0 4.3h0m0 1.3h0m.2 1.9h0m.1-3h0m.1-1.7h0m0 4.3h0m0 .5h0m.2 1.5h0m.2-5.3h0m.1 5.3h0m.1-6.8h0m0 5.4h0m.1-18.6h0m0 6.8h0m0 12.1h0m.1-9.8h0m0 5.7h0m0 1.6h0m0 4.9h0m.3-1.9h0m0 .4h0m.1-25.7h0m0 22.7h0m.1 0h0m0 1.4h0m0 1.5h0m.1-20.5h0m0 18.5h0m0 2.2h0m.1-36h0m.1 12h0m.1 0h0m0 22.8h0m.1-17.2h0m0 16h0m.2 1.8h0m.2-13.3h0m0 13.1h0m.2-1.4h0m.3 1.8h0m.1-5.3h0m.2-.6h0m.4-8.2h0m.2 11.5h0m.3 3.5h0m.1-1.9h0m.1 2.8h0m.1-1.9h0m.3-3.5h0m.2 3.4h0m0 1.1h0m.4-10.2h0m0 5h0m0 4.6h0m0 .9h0m.1-9h0m.1-2.7h0m.1 3.6h0m.1 5.8h0m.1-3.3h0m.2-4.9h0m.2 5.9h0m10.5-2h0m0 3.2h0m.1-16.5h0m.1 15.2h0m0 2.1h0m.2-6h0m0 1h0m0 4.6h0m.3-5.2h0m0 5.5h0m.1-.6h0m0 1.4h0m.2-.6h0m.1-1.1h0m.3-14.9h0m0 9.6h0m0 3.3h0m0 2.2h0m.1-3.2h0m.2 2.4h0m.2-1.7h0m.3 .3h0m.4 2.3h0m.2-6.3h0m0 1.5h0m.2-3.1h0m.1 8.7h0m.2-1h0m.1-19.6h0m.1 14.7h0m0 2.5h0m0 1.8h0m.2-18h0m.1 9.1h0m.2 9h0m.1 2.1h0m.1-12.5h0m.2 1.1h0m.1 6.3h0m0 .8h0m0 3.3h0m.2-7.4h0m0 7.1h0m.2-3.3h0m.2 2.8h0m0 1.7h0m.1-9.9h0m.1 8.2h0m.5-.9h0m.2-2.7h0m0 3.9h0m.3-2.7h0m.1 2.8h0m.1-.3h0m.1 .4h0m.1-.3h0m0 1.2h0m.1-5.8h0m.1 3.8h0m.3-10.7h0m0 9.4h0m.1 2.5h0m.2 0h0m.1-7.4h0m.2 4.4h0m.2 3.3h0m.1-.2h0m.2-2.4h0m0 2.4h0m.1 2h0m.1-12h0m0 5.8h0m.2 3.8h0m0 2h0m.1-1.3h0m.1 0h0m.3 .1h0m0 2.2h0m.1-5.3h0m0 4h0m.4-3.3h0m0 3.4h0m0 .8h0m.1-1.9h0m.1-4.9h0m0 2.9h0m0 2.2h0m9.3 3.2h0m.2-1.5h0m.1-9.4h0m.1 9.5h0m0 .3h0m.2-1.2h0m.1 1.4h0m0 .4h0m.1-.1h0m.2-.7h0m.1-3.8h0m0 3.8h0m.3-10.2h0m.3-7.9h0m.1 14.6h0m.1 3.7h0m0 1.2h0m.5-1.6h0m.1-8.6h0m0 6.2h0m0 1.3h0m0 1h0m.1-3.8h0m0 .7h0m.2-5.5h0m.2 3.4h0m.1-6.6h0m0 1.2h0m0 4h0m.1-5.8h0m0 13.8h0m.1-1.4h0m0 .9h0m.2-4h0m.1 2.3h0m.1-2.7h0m.2-5h0m.1 .4h0m0 2.8h0m.1 3.7h0m0 .6h0m.1 .3h0m.2-1.2h0m.1-2.6h0m0 .4h0m0 3.6h0m.4-3.8h0m.1 2.8h0m.3-2.1h0m.1 4.8h0m.1-3.3h0m.1 2.8h0m.2-2h0m0 .6h0m.3-10.1h0m0 9.7h0m.1-.4h0m.1-4.1h0m.1 4.8h0m.2-5.9h0m.2 5.8h0m.5-2.6h0m0 2.3h0m.4-4.1h0m0 .3h0m0 4.9h0m6.7-7.5h0m.1 7.1h0m.1-5.1h0m0 1.2h0m.1-.9h0m.5 2.2h0m.3 .5h0m.4-8.5h0m.1 3.1h0m.1-1.6h0m0 6.5h0m0 .1h0m.3-.3h0m.2-10.3h0m.1 10.5h0m.3-6.2h0m.2 1.5h0m.1 6.5h0m.1-7.6h0m0 2.7h0m.2-3.4h0m0 3.5h0m0 .3h0m.1-.7h0m0 4.7h0m.1-1.1h0m.3-1.1h0m.1-18.2h0m0 16.3h0m.1-1.1h0m.1-11.2h0m.1 7.9h0m.2 3.9h0m.1 5.2h0m.1-.4h0m.5-2.6h0m0 2.6h0m.2-1.4h0m.1-.9h0m0 2h0m.3-8.1h0m0 6.2h0m.1-5.8h0m.1 .7h0m0 7h0m.1-8.3h0m.1 6.9h0m.2-5h0m0 5.4h0m.1-1.3h0m0 .6h0m.1-3.2h0m.1 4.2h0m.1-5.2h0m0 3h0m0 1.4h0m0 .3h0m.2-1.9h0m.2 1.7h0m0 .9h0m.2-11h0m0 11.7h0m.1-14h0m0 7.4h0m.2 .2h0m.2-4.7h0m0 3.4h0m0 6.9h0m5.7-11.8h0m.5-6.9h0m0 2.4h0m.1 6.5h0m.1-23.5h0m.1 22.5h0m.1 1.1h0m0 1.6h0m0 .7h0m.5-13.3h0m0 13.7h0m.2-13.2h0m.1 9.8h0m.1 6.7h0m.1-10.6h0m.4 3.1h0m.1 3.2h0m0 .5h0m0 3.3h0m.1-1.2h0m.3-8.8h0m0 .4h0m0 7.3h0m0 1.9h0m.2-2h0m.2 2.9h0m.3-10.9h0m.1 10.1h0m0 .3h0m.1-5.9h0m.1 1.5h0m0 1.6h0m0 1.6h0m.1-.6h0m.1 .1h0m.4-9.4h0m0 10.3h0m.1-1.4h0m0 1.5h0m.2-2.2h0"/>
<path stroke="#0000ff" stroke-width="1.5" stroke-linecap="round" fill="none" d="M374.4 119.1h0m0 3.2h0m.1-4.3h0m.1 2.8h0m0 1.6h0m0 .7h0m.2-8.3h0m.3 2.8h0m0 6.4h0m.3-31.1h0m0 31.2h0m.1-6.4h0m0 2.8h0m.1-11.7h0m.1 0h0m.1 12.3h0m0 .7h0m.1-1.8h0m.1-16.7h0m0 15.8h0m.1 3.1h0m.1-.2h0m.1-2.9h0m.1-.1h0m.1-25.6h0m0 1.4h0m.1-6.6h0m.1 11.8h0m.2-10.6h0m0 22.6h0m.1 7.4h0m0 4.3h0m.1-20.8h0m.1 13.6h0m0 6.7h0m.1-.1h0m.1-2.1h0m.1-20h0m0 19.3h0m.1-4.5h0m0 6.6h0m.1-4h0m.2-2.4h0m.1-4.6h0m0 8.3h0m.1 .6h0m.1-3.7h0m0 3.2h0m.1 2.7h0m.2-3.7h0m.3 1.2h0m.1-5h0m.2-4.3h0m.1-4.2h0m.1 15h0m0 .8h0m0 .2h0m.1 1.3h0m.1-13.1h0m.1 6.6h0m0 3.5h0m.1 3.7h0m.1 .2h0m0 .2h0m.1-6.1h0m.1-9h0m.1 7.9h0m0 2.4h0m.1-.7h0m.1-2h0m0 1.5h0m.1 .2h0m.1 .5h0m.2-9.7h0m.1 4.2h0m.2 7.8h0m.1-2.8h0m.1-1.2h0m.3 5.9h0m.1-3h0m.1 2h0m0 .7h0m.1-3.5h0m.3-3.1h0m.1 2.7h0m0 3.3h0m.1-.3h0m.2-8.2h0m0 5.1h0m.3 .7h0m.3 .9h0m.3 3.5h0m.2-3.4h0m0 .1h0m.1 1.4h0m0 1.9h0m.4 .4h0m.1-3.9h0m.1-1.5h0m.4 3.5h0m.1-7.6h0m0 1.4h0m.1-16.5h0m0 24h0m.1-3.5h0m0 3.1h0m.1-4.1h0m.4-6.5h0m.4 4.6h0m0 4.8h0m.1-.7h0m.1-.5h0m.1 1.4h0m.4-.7h0m.2-.4h0m.1-5h0m1 2.7h0m.2-5.3h0m.1-.9h0m.2 7.4h0m.1 2.3h0m.2-3.3h0m0 2.1h0m.2-8.7h0m0 5.4h0m0 4.4h0m.1-1.4h0m.2-.8h0m.1-.2h0m0 1.6h0m.2 1.7h0m.1-1.8h0m0 1.1h0m.2-11.1h0m.2 12.4h0m.1-6.7h0m.5 5.4h0m.1-4.4h0m.1 1.8h0m.3-1.6h0m.3-6.5h0m.1 3.3h0m0 5.4h0m.2-2.1h0m0 3.4h0m.1-12h0m0 4.1h0m.1 7.4h0m.1-17.1h0m0 12.2h0m.1 4.6h0m.4-.7h0m.1 1.8h0m.2-6h0m.1 .3h0m.2-4.5h0m0 2h0m.1 3.8h0m0 3.2h0m.2-4.8h0m0 5.4h0m.1-11.7h0m0 9.1h0m0 1.7h0m.1-9.3h0m.1-2.1h0m0 14.7h0m.3-10.3h0m.3 9.3h0m.3-16.6h0m.1 10.8h0m0 3.3h0m.1-4.7h0m.2-13.5h0m.1 16.2h0m.4 4.9h0m.2-.1h0m.1-13.8h0m.1 10.8h0m.1-10.1h0m0 7.9h0m.5 3.8h0m.1 2.2h0m.2 .1h0m.5-15.3h0m.1 11.6h0m0 1.9h0m.1-5.7h0m0 5.3h0m.1-.1h0m0 2.1h0m.1-3.1h0m.1 3.5h0m.1-1.7h0m.3 1h0m.5-4.7h0m.1 2.1h0m.4-.3h0m.1-3h0m0 3.9h0m.1-1.7h0m.2 4.3h0m26.6-10h0m.3 9.1h0m.1 1.1h0m.2-10.1h0m.1 5.2h0m.3-2.9h0m.1-2.8h0m.1 11.3h0m.4-10h0m.1-9.3h0m0 18h0m.1-.4h0m.3-3.2h0m.1-17.3h0m0 2.4h0m0 14h0m0 4.6h0m.1-1.8h0m.2-20.8h0m0 6.4h0m.1 16.3h0m.1-3.6h0m0 2.2h0m0 1.2h0m.2-7.4h0m0 .4h0m0 6.5h0m.1 .3h0m.8-.6h0m.1-4.8h0m.2-3.7h0m0 3.8h0m0 5.7h0m.1-6h0m0 4.2h0m0 1.6h0m.1-.5h0m.1-11.4h0m0 5.7h0m0 3.9h0m.3-.9h0m.1 4.2h0m.1-8.1h0m.1 7.6h0m.1-13.4h0m.1 14.7h0m.1-3.5h0m.1-1.8h0m0 2h0m.2-20.8h0m0 13.4h0m.1 9.1h0m0 .2h0m.2-1.7h0m.1-31h0m0 27.5h0m0 4.7h0m.1 .3h0m.1-.5h0m.4 .3h0m.1 .5h0m.1-11h0m0 11.8h0m.1-12.1h0m.1 2.5h0m.1-1.5h0m.2 4.9h0m.1 6.2h0m.1-12.5h0m0 9.5h0m.2 3.5h0m.2-1.2h0m.2-1.9h0m.1-3.4h0m0 1.5h0m.4-8.5h0m.2 10.3h0m.1-1.5h0m.1 1.4h0m.2-7.6h0m.4-3.4h0m.2 2.3h0m.1-1.2h0m.2 2.1h0m.1 7.8h0m.1-.1h0m.7 .4h0m.1-1.7h0m0 2.1h0m.8 1.6h0m.2-4.1h0m.2 3.3h0m.2-21h0m.1 9.2h0m0 10.2h0m.1-8.9h0m0 8.5h0m.1 2.8h0m.1-2.8h0m.1-1.7h0m.2-19.8h0m.1 19.3h0m.1-8.8h0m.1-3.6h0m0 9.1h0m0 5.5h0m0 2.2h0m0 .3h0m.3-17.7h0m.1 14.5h0m0 2.6h0m.2-9h0m0 8h0m1-1.6h0m0 2.9h0m.3-.7h0m.2-5.5h0m0 5.5h0m.1 1.4h0m0 .5h0m.1-5.8h0m.3-8.1h0m0 9.4h0m0 1.7h0m0 1.8h0m.1-4.4h0m.2-4.4h0m0 9h0m0 .5h0m.2-3.5h0m0 3.3h0m.6-14.3h0m.2 13.4h0m.4-2.4h0m.1-10.8h0m0 11.4h0m0 1.4h0m.1 .3h0m0 1.2h0m.1 0h0m.1-17.2h0m0 15.1h0m.1-1.2h0m.1-1.2h0m.1 2h0m.1-14.2h0m0 6.8h0m.2 5.5h0m0 2.1h0m.2-26.9h0m0 20h0m0 7.7h0m.1-1.5h0m.1-.1h0m.2-26.4h0m.1 22.8h0m0 1.3h0m.1-14.3h0m0 11.1h0m.1 6.9h0m.1 0h0m.1-25.3h0m.1 17.7h0m0 8.8h0m.6-24h0m0 22.3h0m.3-.1h0m.3-11.1h0m0 5h0m0 5.1h0m.3-6.2h0m0 2h0m.6 3.9h0m20.6 4.2h0m.1-1.1h0m.1-12h0m0 7.8h0m.4 5.5h0m.1-7.9h0m.2 3.9h0m0 3.3h0m.1-16.6h0m.4 11.4h0m.1-10h0m0 15.7h0m.1-.1h0m.2-3.3h0m0 .4h0m.3 3.2h0m.1-2.2h0m.1 1.8h0m0 1.2h0m.2-3.9h0m.1 2.8h0m.1 1h0m.1-.2h0m.2-5.4h0m.2 .3h0m.4-3.1h0m.2-.9h0m.4 3.8h0m0 1.4h0m.4-2.5h0m0 2.8h0m0 1.1h0m0 .1h0m.1-8h0m.1 7.3h0m0 .8h0m.1-8.3h0m0 7.8h0m.1-6.3h0m.2 6.1h0m.2-20.2h0m.2 20.6h0m0 2.5h0m.2-.6h0m.1-.5h0m.3-4.2h0m.2 2h0m.1 1.3h0m.1-9.7h0m.1 9.3h0m.4 1.5h0m.2-10.3h0m0 2.3h0m0 1h0m0 3.8h0m.1 1.8h0m.1 1.5h0m.2-1.5h0m.2 1.1h0m.1-1.8h0m.1-23.8h0m0 20h0m0 3h0m.3-3.7h0m.3 4.8h0m.1 2.2h0m.2-6.5h0m0 5.2h0m.2-.8h0m.2 1.2h0m.2-.1h0m0 .8h0m.1-4.3h0m.3-3.8h0m0 5.4h0m.2-4.2h0m.1-5.1h0m.5 9.6h0m.3-.6h0m.3 2.7h0m.2-10.3h0m0 8.5h0m.3-6.8h0m0 6.9h0m.2-8.2h0m0 9h0m.2-2.7h0m0 .2h0m0 3.1h0m.1 .7h0m.1-5h0m.2-1.3h0m0 4.2h0m.1-3.2h0m.3 2.5h0m.1-2.4h0m0 2.9h0m.2-10.7h0m.2 9.7h0m.1-10.6h0m0 2.5h0m.2-13.8h0m0 3.1h0m0 21.9h0m.1-2.3h0m.4-12.2h0m.3 8.7h0m.2-6.4h0m0 7.1h0m.1 1.3h0m.2-4.5h0m.4 1.2h0m0 4.2h0m0 1.7h0m.1-5.7h0m.2-2.9h0m.3 5.6h0m.1 4.2h0m.1-1.6h0m.1-3h0m.2 1.7h0m0 .7h0m.4 1.3h0m.1-1.2h0m0 1.4h0m.1-1.6h0m.4-.9h0m0 3h0m.1-10.3h0m.3-6.1h0m0 8.1h0m0 7.5h0m.1-2.4h0m.4-.6h0m0 2.3h0m.1-.5h0m0 2.7h0m.1-4.9h0m17.7-.2h0m1.2-17h0m.2-9.4h0m0 13.6h0m.3-9.2h0m0 22h0m.2-32.2h0m0 26.6h0m.2 8.4h0m.1 1.3h0m.2-6.9h0m.1-22.5h0m0 26.3h0m.4 3.3h0m.2-.5h0m.1-4.5h0m.1 3.6h0m.4-4.2h0m.1-3.4h0m.2 5.9h0m.2-8.7h0m0 6.1h0m0 .5h0m.2 0h0m.1-.4h0m.1-5.6h0m0 5.9h0m.2-5.6h0m0 5.2h0m.1-7h0m.2 6.6h0m0 2.2h0m.1 1.6h0m.1-5.3h0m.5-1.2h0m0 4h0m0 .7h0m.1-14.3h0m.2-4.9h0m.2 19.7h0m.2-8.5h0m0 9h0m.1-20.6h0m0 15.3h0m.2 1.7h0m.1-4.6h0m.1 8.2h0m.1-3.7h0m0 3.4h0m0 3.1h0m.1-1.8h0m.1 1.7h0m.1-16.5h0m.1 14.3h0m.1-12.2h0m.1 8.6h0m.3-8.7h0m.1 10h0m.1-2.4h0m.3-2.9h0m.2-9.3h0m.1 14h0m.1 .9h0m.4 1h0m.2-27.4h0m0 31.9h0m.1-4.1h0m.1-2.2h0m.2 4.3h0m.1-4.9h0m.1 2.2h0m.2 5.1h0m.1-23h0m0 10.3h0m.2 12.2h0m.1-1.5h0m.2-37.7h0m0 34.9h0m0 1.3h0m0 2.6h0m.1-3h0m.1 2.1h0m.4-36.8h0m0 32.9h0m0 .5h0m.1 1.7h0m.1-31.7h0m.1 28.6h0m0 3.1h0m.1-2.7h0m.1 3.6h0m.1-10.5h0m.1 8.2h0m.1 2.1h0m.2-5.6h0m.1-5.2h0m0 5h0m0 2.3h0m0 3.9h0m.1-5.6h0m0 2.7h0m.1-11.4h0m0 8.5h0m0 5.1h0m0 1.1h0m.3-5.5h0m0 3.1h0m.1-7.8h0m.1-.9h0m.3-9h0m0 18.6h0m.1-11.8h0m0 7h0m0 5.1h0m0 .9h0m.2-5.6h0m0 3.3h0m.1-10.6h0m.4 10.4h0m.2-8.4h0m.1 6.7h0m.2-4.4h0m0 7.4h0m.3-10.7h0m.1 3.3h0m.3-7.2h0m.1 15.9h0m.2-2.4h0m.1-.1h0m.2 3.1h0m0 1h0m.3-5.4h0m0 3.5h0m.1-8.2h0m0 9.8h0m.1-11.3h0m0 11.7h0m.1-6.6h0m.2 6.7h0m.4-2h0m14-.9h0m1-21.4h0m0 14.2h0m.4-24.7h0m.1-5.5h0m.1 10.5h0m0 1.8h0m.5 25.5h0m.1-18.3h0m.2-1.7h0m0 18.2h0m.2-31.3h0m0 7.1h0m.3 23.4h0m.1 3.7h0m.1-4.2h0m.2 1.6h0m.1 .8h0m.2-5.1h0m0 8.6h0m.2-3.3h0m.1-12.6h0m.2 10.4h0m.2-8h0m0 5h0m0 4.4h0m.2-3.3h0m.1-1h0m0 3.5h0m.1-5.4h0m.3 3.5h0m0 1.5h0m.1-20.4h0m0 19.9h0m.2 2.9h0m.5-1.4h0m.2 .2h0m0 1h0m.1-2h0m.1-.6h0m0 .1h0m.2 3.9h0m.5-12.4h0m0 7.6h0m.2 1.2h0m2.9 2.3h0m.3-6.3h0m0 3.9h0m.1 2.4h0m.2-6.5h0m.3 6.9h0m.2-4.9h0m.3-1.4h0m0 1.9h0m.1 4.7h0m.1 .5h0m.1-6.1h0m0 1.5h0m0 3.5h0m.2-1.9h0m.2-1.7h0m.1-15.7h0m0 3.7h0m0 3.9h0m.2 9.3h0m0 1.7h0m.1-14.4h0m.1 1.8h0m.1-10.7h0m.2 24.2h0m.1-7.3h0m0 5.6h0m0 .3h0m.1-2.9h0m.1-17.2h0m0 19.7h0m.1-10.3h0m.2 8.7h0m0 1.6h0m0 .9h0m0 1.6h0m.1-7.5h0m.2 2.1h0m.2-5.8h0m.1 3.5h0m.1-8.6h0m.1-14.4h0m0 20.7h0m.3-2.5h0m0 7.3h0m.2 2h0m.1-1h0m0 2.4h0m.2-32.9h0m.1 29.1h0m.3-4.7h0m0 8.7h0m.3-7.6h0m0 2.4h0m0 .7h0m0 2h0m.2-9.5h0m0 11.3h0m0 .9h0m.4-15.6h0m0 2.7h0m0 1.5h0m.1-.1h0m.1 6.4h0m0 5.8h0m.1-15.7h0m0 14.5h0m.1-3.5h0m.2-.5h0m0 1.5h0m.2-20.7h0m0 4.4h0m0 9.6h0m.1 11.1h0m.1-4.6h0m0 1h0m0 .5h0m.1 2h0m.1-9.3h0m0 3.2h0m0 4.8h0m0 .1h0m0 .4h0m14.9-7.9h0m0 3.4h0m0 .5h0m.2-8.2h0m0 .8h0m.3 9.9h0m.1-5.7h0m.1 5.7h0m.5-5.8h0m0 3.7h0m.2-.1h0m.4-1.7h0m0 .8h0m0 2.9h0m.1 .1h0m.4-3.8h0m0 4h0m0 .7h0m.1-6.7h0m0 .6h0m0 3.9h0m.2 1.9h0m.1-3.6h0m.4-1.2h0m0 5.7h0m.2-3.3h0m.1-8.2h0m0 8.4h0m.2-.7h0m0 .8h0m.1-5.5h0m0 4.6h0m.2 3.5h0m.1-6.5h0m0 2.5h0m.2-2.4h0m.1-1.7h0m.2-4.4h0m0 8.8h0m.1-10.3h0m.1 11h0m.3-.5h0m.1-31.7h0m0 29.7h0m.2-12.5h0m0 8.2h0m0 6.6h0m.1-5.9h0m0 2.5h0m.2 1.1h0m.2-9.2h0m0 11.6h0m.1-6.6h0m.3 7.9h0m.2-3.3h0m.2 .1h0m0 1.7h0m.1-10.1h0m.2 7.6h0m.4-.3h0m0 2.7h0m.2-4h0m0 .7h0m0 4.3h0m0 2.3h0m.1-1h0m.3-5.4h0m.1 .1h0m.1 3.6h0m0 .4h0m.2-8.7h0m.3 9.7h0m.3-6.1h0m.1-3.9h0m.2 7.4h0m.1-1.2h0m.1 3.4h0m.2 .6h0m.1-7.5h0m0 7h0m.3-4.5h0m0 5.7h0m.3-2.5h0m.2-28.3h0m.1 10.4h0m0 13.9h0m.1 4.6h0m0 1.6h0m.1-10.5h0m.1 9.3h0m.1-2.3h0m.2 1.3h0m.1-3h0m0 1.8h0m.1 .1h0m.1-2.9h0m0 .6h0m.1 .8h0m0 4.7h0m.1-4.1h0m.1-7.1h0m0 4.4h0m.3-.1h0m.1 5.8h0m.1 1.2h0m.2-1.8h0m.1 .9h0m.2-1.4h0m.1 1.4h0m.4-4.9h0m.2 5.2h0m.1-.3h0m0 1.2h0m.2-.9h0m.1 1.2h0m.1-2.7h0m.1-14.3h0m.6 6.5h0m.1 3.4h0m15.6 12.7h0m.3 .5h0m.3-5.9h0m.6 5.4h0m.1-16.1h0m.2 .3h0m.2 13h0m.5 2.9h0m.1-1.6h0m.5 .5h0m.8-3.2h0m0 3h0m.2-3.3h0m0 4.7h0m0 .2h0m.1-2.5h0m.3-12.6h0m.1 2.4h0m0 7.8h0m.1 1.5h0m.1-13.5h0m.1 10.9h0m.1 5.4h0m0 .8h0m.3-7.8h0m.2-19.3h0m0 25.4h0m.5-1.4h0m.1-14.3h0m0 17.1h0m1.2-2.8h0m.6-3.2h0m.3 1.3h0m.2-6.2h0m0 11.5h0m.1-10.8h0m0 2.3h0m0 5.9h0m.1-11.5h0m.1 4.6h0m.3-3.1h0m.4 11.7h0m.1-6h0m0 2.7h0m.1 3.3h0m.1-13.3h0m.2 12h0m.1-.7h0m.1-2.9h0m.6-4.7h0m.1 5.4h0m14.4-8.1h0m.3-5.4h0m0 9.5h0m.5-9.1h0m.2 1.2h0m0 .9h0m0 .5h0m.1 3h0m.4 1.8h0m.1-9.8h0m.2 9.8h0m.2-9.5h0m0 7.3h0m.2 3.1h0m.1-11.9h0m.1-7h0m0 17.1h0m0 1.1h0m.1-6.3h0m0 4.7h0m.1-4.2h0m0 6.5h0m.2-5.1h0m.2-.1h0m.4 1.7h0m.1 2h0m.1-3h0m.1-3.5h0m.3 8.1h0m0 1.3h0m.1-12.6h0m.1 12.8h0m.4-2.7h0m.1-17.7h0m.1 12.9h0m.2-1.1h0m0 4.9h0m.1 1.1h0m0 1.2h0m.2-8.3h0m0 1.5h0m0 4.2h0m.3-8h0m.2 1h0m.4-7.8h0m.2 17.6h0m.1-11.2h0m.2-8.9h0m0 11.9h0m.2 5.8h0m.1-3.6h0m0 4.8h0m.2-14.8h0m0 8.8h0m0 5h0m9.2-8.5h0m1.4-4.5h0m.2 8.6h0m.2-1.1h0m.1 .4h0m0 .6h0m.1-9h0m0 9.5h0m.1 0h0m.1-14.2h0m0 12h0m.2-3.9h0m0 7.9h0m.1-4.1h0m.1-1.6h0m.2 2.8h0m.2-16.9h0m0 17.8h0m.3 2.1h0m.2 .8h0m.1-3h0m.1-4.2h0m0 2h0m.3 0h0m.1 3.2h0m.2-2.4h0m.2 3h0m.6-1.7h0m.1-3.9h0m.5 2.5h0m.2-6.2h0m.3 6.4h0m0 .4h0m.2-4.9h0m0 8.6h0m.1-5.6h0m0 5h0m.1-6.5h0m.1 .1h0m0 4h0m.1-1.4h0m.2-6.3h0m.2-9.4h0m0 14h0m0 7.1h0m.1-9.7h0m.3 8.2h0m.1-.5h0m.2-8.2h0m.4 6.4h0m.1-.8h0m.4 1.8h0m0 .4h0m.1-6.1h0m0 4.2h0m0 1.9h0m.4-7.4h0m.1 7h0m.2-4.4h0m.1-9h0m.2 11.3h0m.1-1.7h0m.2-16.7h0m0 14h0m0 4.7h0m8.6-2h0m0 5h0m0 1.5h0m.4-7.9h0m.1 4.8h0m.2-3.1h0m.3 3.6h0m.2-5.3h0m0 3.8h0m0 6.9h0m0 .3h0m.1 .2h0m.1-10.5h0m.3 4.5h0m0 1h0m.2 3.7h0m.2-3.4h0m0 .2h0m.1-11.4h0m0 10.6h0m.1 4h0m.1-4.3h0m0 3.7h0m0 1.8h0m0 .8h0m.2-.4h0m.1-6.6h0m.2-.2h0m.1 4.2h0m.4-.5h0m.3-5.3h0m.1 1.7h0m0 .8h0m.1-1h0m.2-5.2h0m.1 7.6h0m.1-1.2h0m0 .6h0m.1 1h0m.3-11.5h0m.1 8.9h0m0 .6h0m0 .4h0m.2-1.1h0m.7 2.8h0m.1-3.5h0m.1 3.4h0m0 .4h0m.2-.7h0m8.6-4.5h0m.9-7.6h0m.1 1.6h0m.2-11.3h0m0 22.4h0m.1-6.9h0m.2-18.2h0m.1 24.5h0m.1-6.3h0m.4 9h0m.1-10.8h0m0 2h0m.1 4.3h0m.2-5.2h0m.1 6.5h0m.1 3.6h0m.1-1.9h0m.1-3.8h0m.2 1.1h0m.1 3.4h0m.6-6.3h0m0 2.2h0m.1-1.1h0m0 2.8h0m.1-3.4h0m0 .2h0m.1 .5h0m.2-11.7h0m0 9.2h0"/>
<path stroke="#222" stroke-width="0.8" fill="none" d="M374.3 23.1V139.2H684.5"/>
<path stroke="#222" stroke-width="0.6" fill="none" d="M372.3 139.2h2M372.3 129.4h2M372.3 119.6h2M372.3 109.8h2M372.3 100h2M372.3 90.2h2M372.3 80.4h2M372.3 70.6h2M372.3 60.8h2M372.3 51h2M372.3 41.2h2M372.3 31.4h2M372.3 23.1h2M374.3 139.2v1.8M423.5 139.2v1.8M472.7 139.2v1.8M521.9 139.2v1.8M571.1 139.2v1.8M620.3 139.2v1.8M669.5 139.2v1.8M684.5 139.2v1.8"/>
<g font-size="4.6" fill="#222" text-anchor="end" transform="scale(1 1.15)"><text x="370.3" y="122.7">0</text><text x="370.3" y="114.2">1</text><text x="370.3" y="105.7">2</text><text x="370.3" y="97.1">3</text><text x="370.3" y="88.6">4</text><text x="370.3" y="80.1">5</text><text x="370.3" y="71.6">6</text><text x="370.3" y="63">7</text><text x="370.3" y="54.5">8</text><text x="370.3" y="46">9</text><text x="370.3" y="37.5">10</text><text x="370.3" y="29">11</text></g>
<path stroke="#f33" stroke-width="0.7" stroke-dasharray="1.6 1.4" d="M374.3 84.4H684.5"/>
<g font-size="4.8" fill="#111" text-anchor="middle" transform="scale(1 1.15)"><text x="386.8" y="128.5">1</text><text x="413.3" y="128.5">2</text><text x="437.2" y="128.5">3</text><text x="457.7" y="128.5">4</text><text x="477.9" y="128.5">5</text><text x="496.5" y="128.5">6</text><text x="514.7" y="128.5">7</text><text x="531" y="128.5">8</text><text x="546.2" y="128.5">9</text><text x="561.8" y="128.5">10</text><text x="575.9" y="128.5">11</text><text x="590.9" y="128.5">12</text><text x="604.4" y="128.5">13</text><text x="616" y="128.5">14</text><text x="627" y="128.5">15</text><text x="636" y="128.5">16</text><text x="646" y="128.5">17</text><text x="654" y="128.5">18</text><text x="661.6" y="128.5">19</text><text x="668.5" y="128.5">20</text><text x="674.5" y="128.5">21</text><text x="680.8" y="128.5">22</text></g>
<text x="518.0" y="158.1" font-size="9.3" fill="#111" textLength="51.4" lengthAdjust="spacingAndGlyphs">Chromosome</text>
<text x="507.7" y="14.6" font-size="11.4" fill="#111">Midbrain</text>
<text transform="translate(351.6 11.4) scale(1 1.17)" font-size="12.4" font-weight="bold" fill="#000">b</text>
<text transform="translate(359.2 83.8) rotate(-90)" text-anchor="middle" font-size="8.7" fill="#111" textLength="50.7" lengthAdjust="spacingAndGlyphs">&#8722;log<tspan font-size="5.2" dy="1.6">10</tspan><tspan dy="-1.6"> </tspan><tspan font-style="italic">P</tspan>value</text>
<path stroke="#0000ff" stroke-width="1.8" stroke-linecap="round" d="M429.3 84h0m16.3-12.3h0m0 9.6h0m0 2.2h0m103.9-28.8h0m0 13.9h0m24.5 10.7h0m0 2h0m58.1 4.3h0"/>
<path stroke="#4682b4" stroke-width="1.8" stroke-linecap="round" d="M423.7 68h0m33.6-7.5h0m130.1 17.9h0m6.6-44.9h0m0 7.1h0m0 4.9h0m0 3.5h0m.1 32.7h0m2-5.9h0m16.9 6.7h0m5-16.4h0m0 16.1h0"/>
<g font-size="4.8" fill="#111" stroke="#111" stroke-width="0.05" transform="scale(1 1.15)"><text x="454.8" y="54.3" text-anchor="end">HNRNPD</text><text x="422.1" y="60.8" text-anchor="end">NYAP2</text><text x="447" y="64" text-anchor="start">VWA5B2</text><text x="406.4" y="72.4" text-anchor="start">ANKRD28</text><text x="432" y="73" text-anchor="start">ECE2</text><text x="447" y="72.4" text-anchor="start">CAMK2N2</text><text x="548" y="49.3" text-anchor="end">FAM120A</text><text x="548" y="61.3" text-anchor="end">PHF2</text><text x="595.5" y="30.8" text-anchor="start">PARPBP</text><text x="595.5" y="37" text-anchor="start">CCDC53</text><text x="595.5" y="41.3" text-anchor="start">IGF1</text><text x="592.5" y="44.3" text-anchor="end">NUP37</text><text x="616.5" y="59.4" text-anchor="end">YLPM1</text><text x="619.5" y="58.2" text-anchor="start">DLST</text><text x="556.8" y="68.3" text-anchor="start">CKAP5</text><text x="552.7" y="72.4" text-anchor="start">C11orf49</text><text x="594.1" y="66.7" text-anchor="end">BICD1</text><text x="595" y="65.4" text-anchor="start">HNF1A</text><text x="592.3" y="72.7" text-anchor="end">DRAM1</text><text x="597.2" y="70.5" text-anchor="start">RP11-466O12.4</text><text x="619.1" y="66.7" text-anchor="start">RPS6KL1</text><text x="619.5" y="73.2" text-anchor="start">PROX2</text></g>
<path fill="#4682b4" d="M48.3 312.3L48.3 303.5L48.8 302.7L49.3 303.3L49.8 303.1L50.3 303.7L50.8 303.7L51.3 303L51.8 303.6L52.3 303L52.8 303.8L53.3 303L53.8 303.2L54.3 302L54.8 302.4L55.3 302.4L55.8 302.3L56.3 303.2L56.8 303L57.3 303L57.8 303.6L58.3 303.5L58.8 303.1L59.3 303.7L59.8 303.4L60.3 303.5L60.8 303.8L61.3 303L61.8 303.3L62.3 302.7L62.8 303L63.3 302.8L63.8 302.6L64.3 303L64.8 302.1L65.3 302.3L65.8 303L66.3 303.1L66.8 303L67.3 303L67.8 301.8L68.3 302.4L68.8 301.9L69.3 303L69.8 303.6L70.3 303L70.8 303.9L71.3 303.3L71.8 303.8L72.3 302.8L72.8 303.2L73.3 301L73.8 302.9L74.1 301.8L74.1 312.3ZM96.2 312.3L96.2 303.9L96.7 302.4L97.2 303.7L97.7 302.1L98.2 302.4L98.7 302.5L99.2 302.5L99.7 302.6L100.2 302.1L100.7 303.1L101.2 303.2L101.7 303L102.2 303L102.7 303.8L103.2 302.8L103.7 302.9L104.2 302.3L104.7 302.2L105.2 303.7L105.7 304L106.2 303.3L106.7 304.1L107.2 302.8L107.7 303.5L108.2 301.9L108.7 302.6L109.2 302.3L109.7 302.9L110.2 303.5L110.7 302.3L111.2 303.8L111.7 303.7L112.2 304.2L112.7 303.9L113.2 303L113.7 303.5L114.2 302.9L114.7 303.7L115.2 302.9L115.7 303.4L116.2 303.3L116.6 302L116.6 312.3ZM136.4 312.3L136.4 302.8L136.9 304.1L137.4 304.3L137.9 304L138.4 304.1L138.9 303.7L139.4 303.6L139.9 303.6L140.4 302.7L140.9 304.5L141.4 304.5L141.9 304.5L142.4 304.2L142.9 304.7L143.4 304.7L143.9 304.2L144.4 303.7L144.9 304.1L145.4 304.3L145.9 303.9L146.4 304.6L146.9 304.7L147.4 304.5L147.9 303.6L148.4 304.4L148.9 302.3L149.4 303.6L149.9 303L150.4 303.1L150.9 303.3L151.4 304L151.9 303.7L152.4 304.1L152.9 304.5L153.4 304.3L153.9 304.4L154.4 304L154.7 303.1L154.7 312.3ZM171.3 312.3L171.3 304.7L171.8 303.1L172.3 304L172.8 304.1L173.3 304.5L173.8 304.6L174.3 304.9L174.8 304.4L175.3 304.3L175.8 304.7L176.3 304.6L176.8 304.3L177.3 303.9L177.8 303.5L178.3 303.8L178.8 302.5L179.3 304.4L179.8 303.6L180.3 303.6L180.8 304.4L181.3 303.5L181.8 304.1L182.3 304L182.8 304.3L183.3 303.8L183.8 304.8L184.3 304.7L184.8 304.1L185.3 304.2L185.8 304.2L186.3 303.5L186.8 303.5L186.9 303.4L186.9 312.3ZM203.2 312.3L203.2 302.1L203.7 303.4L204.2 303.5L204.7 303.7L205.2 303.6L205.7 303.6L206.2 303.6L206.7 303.7L207.2 303.8L207.7 304.3L208.2 304.8L208.7 305L209.2 304.9L209.7 304.8L210.2 304L210.7 303.7L211.2 302.8L211.7 302L212.2 303.1L212.7 303.9L213.2 303.5L213.7 304.4L214.2 303.8L214.7 302.9L215.2 303.8L215.7 302.3L216.2 303.9L216.7 303.3L217.1 303.8L217.1 312.3ZM232.7 312.3L232.7 302.8L233.2 301.8L233.7 303.9L234.2 303.5L234.7 302.7L235.2 303.2L235.7 303.5L236.2 303.9L236.7 302L237.2 304L237.7 303.8L238.2 304.5L238.7 304.2L239.2 304.5L239.7 303.6L240.2 304.2L240.7 304.4L241.2 304.1L241.7 303.7L242.2 303.7L242.7 302.5L243.2 303.8L243.7 303.2L244.2 303.9L244.7 303.7L245.2 302.5L245.7 303L246.2 302.8L246.7 302.7L247.2 303.8L247.6 304L247.6 312.3ZM260.7 312.3L260.7 303.4L261.2 302.8L261.7 303.2L262.2 301.9L262.7 301.8L263.2 302.5L263.7 302.6L264.2 302.7L264.7 302.1L265.2 302.9L265.7 303.6L266.2 303.9L266.7 302.7L267.2 303.2L267.7 302.1L268.2 303.9L268.7 303.8L269.2 303.9L269.7 304.2L270.1 304L270.1 312.3ZM280.8 312.3L280.8 303.8L281.3 303.8L281.8 303.6L282.3 303.6L282.8 303.4L283.3 303.8L283.8 303.6L284.3 304L284.8 304.1L285.3 304.2L285.8 304.1L286.3 303.5L286.8 304.1L287.3 304.1L287.8 303.4L288.3 303.5L288.8 301.8L289.3 302.8L289.8 302.5L290.3 301.4L290.7 300.9L290.7 312.3ZM300.2 312.3L300.2 303.4L300.7 303L301.2 303.1L301.7 303L302.2 303.8L302.7 303.2L303.2 304.1L303.7 303.4L304.2 304.1L304.7 304L305.2 303.7L305.7 303.7L306.2 302.1L306.7 303L307.2 301.4L307.6 301.5L307.6 312.3ZM314.6 312.3L314.6 302.8L315.1 302.4L315.6 302.5L316.1 303.5L316.6 303.4L317.1 303.7L317.6 302.9L318.1 303.8L318.6 304.2L319.1 304.2L319.6 304.1L320.1 303.3L320.6 302.8L321.1 302.8L321.6 302.1L322.1 302.5L322.1 301.9L322.1 312.3ZM328.3 312.3L328.3 303.4L328.8 303.3L329.3 302.1L329.8 303.4L330.3 303.1L330.8 303.5L331.3 302.5L331.8 303.3L332.3 302.1L332.5 302.9L332.5 312.3Z"/>
<path fill="#0000ff" d="M22.6 312.3L22.6 300L23.1 299.1L23.6 299.6L24.1 298.4L24.6 298.1L25.1 299.5L25.6 297.7L26.1 299.7L26.6 298.7L27.1 298.9L27.6 299.3L28.1 298L28.6 299.3L29.1 297.5L29.6 299.3L30.1 297.4L30.6 298.3L31.1 299.1L31.6 298.9L32.1 299.1L32.6 298.3L33.1 297.5L33.6 296.6L34.1 299L34.6 298.2L35.1 299.4L35.1 312.3ZM36.1 312.3L36.1 298.2L36.6 297L37.1 298.3L37.6 299.2L38.1 298.7L38.6 299L39.1 299.5L39.6 299.4L40.1 299.7L40.6 298.3L41.1 299L41.6 299L42.1 299.6L42.6 298.6L43.1 297.7L43.6 298.6L44.1 297.3L44.6 299.2L45.1 299.5L45.6 298.4L46.1 299.4L46.6 298.9L47.1 298.4L47.6 298.9L47.7 296.6L47.7 312.3ZM74.7 312.3L74.7 299.8L75.2 300.7L75.7 299.1L76.2 300L76.7 300.2L77.2 299.2L77.7 298.9L78.2 300.1L78.7 296.6L79.2 300.2L79.7 298.9L80.2 299.8L80.7 298.9L81.2 297.9L81.7 299.4L82.2 299L82.7 300.8L83.2 299.1L83.7 300.8L84.2 299L84.7 300.5L85.2 300.7L85.7 300.3L86.2 299.4L86.7 296.5L87.2 298.5L87.7 299.8L88.2 299.6L88.7 300.8L89.2 300.6L89.7 300.5L90.2 300.4L90.7 299.7L91.2 300.6L91.7 299.4L92.2 299.5L92.7 298.4L93.2 300.1L93.7 300.5L94.2 300.2L94.7 301L95.2 300.9L95.6 300.5L95.6 312.3ZM117.2 312.3L117.2 300.3L117.7 302.1L118.2 300.4L118.7 301.9L119.2 299.8L119.7 302.4L120.2 300.5L120.7 301.7L121.2 298.8L121.7 299.8L122.2 300.3L122.7 302.4L123.2 302L123.7 302.8L124.2 302.1L124.7 302.7L125.2 301.8L125.7 302.1L126.2 302.5L126.7 301.5L127.2 302.3L127.7 300.5L128.2 301.7L128.7 301.9L129.2 300.8L129.7 300.1L130.2 300.6L130.7 301.2L131.2 300.5L131.7 300.2L132.2 300.9L132.7 300.9L133.2 299.9L133.7 301.4L134.2 299.8L134.7 302.2L135.2 302.4L135.7 302.3L135.8 302.7L135.8 312.3ZM155.3 312.3L155.3 299.3L155.8 298.8L156.3 299.8L156.8 298.9L157.3 300.6L157.8 298.3L158.3 299.8L158.8 301.3L159.3 301.1L159.8 301L160.3 298.8L160.8 299.7L161.3 300L161.8 300.1L162.3 298.5L162.8 299.9L163.3 301L163.8 301.3L164.3 300.4L164.8 300.4L165.3 299.5L165.8 297.4L166.3 295.9L166.8 295.8L167.3 298.7L167.8 298.6L168.3 298.5L168.8 299.3L169.3 300.6L169.8 301.1L170.3 298.9L170.7 300.5L170.7 312.3ZM187.5 312.3L187.5 300.6L188 301.6L188.5 300.2L189 301.7L189.5 299L190 300.9L190.5 300.5L191 301.2L191.5 301.2L192 300.6L192.5 301.7L193 301.2L193 312.3ZM195 312.3L195 299.9L195.5 300.6L196 300.7L196.5 299.6L197 298.4L197.5 301.3L198 300.8L198.5 300.7L199 299.4L199.5 299.7L200 300.9L200.5 300.3L201 301.8L201.5 301.9L202 302L202.5 301.1L202.6 301L202.6 312.3ZM217.7 312.3L217.7 297.8L218.2 297L218.7 298.5L219.2 298.3L219.7 298.9L220.2 298.6L220.7 298.4L221.2 298.5L221.7 300.5L222.2 300.4L222.7 300.5L223.2 298.3L223.7 297.9L224.2 297.7L224.7 299.8L225.2 299.4L225.7 300.5L226.2 300.1L226.7 299.4L227.2 300L227.7 299.5L228.2 299.2L228.7 300L229.2 299.5L229.7 300.5L230.2 299.8L230.7 300.8L231.2 299.1L231.7 299.7L232.1 298.5L232.1 312.3ZM248.7 312.3L248.7 302.6L249.2 302L249.7 301.8L250.2 301.4L250.7 302.2L251.2 302.4L251.7 301.6L252.2 302.6L252.7 300.5L253.2 301.4L253.7 301.3L254.2 299L254.7 300.7L255.2 301.1L255.7 302.8L256.2 301L256.7 302.6L257.2 302.7L257.7 301.3L258.2 301.7L258.5 301.6L258.5 312.3ZM272.8 312.3L272.8 298.5L273.3 297.8L273.8 295.9L274.3 297.7L274.8 297.2L275.3 298.7L275.8 299.3L276.3 299.5L276.8 299.7L277.3 299.9L277.8 298L278.3 299.4L278.8 298.1L279.3 298.5L279.8 296.6L280.2 298L280.2 312.3ZM291.3 312.3L291.3 296.8L291.8 297.9L292.3 296.6L292.8 296.7L293.3 297.8L293.8 296.6L294.3 297.6L294.8 294.9L295.3 296.4L295.8 295.8L296.3 295.1L296.8 297.2L297.3 296.2L297.8 298.3L298.3 297.3L298.8 297.3L299.3 296.4L299.6 294.6L299.6 312.3ZM308.2 312.3L308.2 293.9L308.7 297L309.2 296.6L309.7 298L310.2 298.2L310.7 297.4L311.2 297.4L311.7 295.7L312.2 294.9L312.7 295.6L313.2 295.5L313.7 296.1L314 296.6L314 312.3ZM323.8 312.3L323.8 297.9L324.3 298.4L324.8 296.8L325.3 298.6L325.8 296.3L326.3 298L326.8 298L326.9 297.9L326.9 312.3Z"/>
<path stroke="#fff" stroke-width="0.9" stroke-linecap="round" fill="none" opacity="0.85" d="M26.3 301h0m2.8-1.1h0m4.8 2.9h0m1.9-2.9h0m0 1.9h0m.3-1.4h0m3 4.3h0m1.3-3.8h0m7.7 3.3h0m1 .2h0m2.9-.1h0m.4 .6h0m1.6-.7h0m.9 1.7h0m.4-.1h0m.3-2.6h0m1.8 3.8h0m1.8-2h0m2.1 .5h0m.2 .4h0m.1-.6h0m.7 .5h0m6.9-.2h0m1.4 1.1h0m1.5-.8h0m.7-1.6h0m.2-.6h0m1.3-.7h0m.4-.8h0m1.5-1.4h0m11.4 1.1h0m4.1-1h0m1 1.9h0m2.4 0h0m1 3.1h0m2.5-.1h0m1.3-2.6h0m.3 .1h0m.2 2.5h0m.7-1.6h0m3.5-.3h0m.8 1h0m.1-.1h0m3.2-.9h0m.5-.3h0m1.5 .4h0m2.8 .3h0m2.5 1.6h0m.2-1.9h0m.2-1.5h0m2.2 1.6h0m.2-.6h0m1.8-.6h0m3.3 1h0m6.1-1.1h0m6.5 1.3h0m.8 1.5h0m3.1 .4h0m.6 1.5h0m3.2-2.2h0m1.5 .6h0m.4-1h0m1.8 2.5h0m1.6 .1h0m.1-2.1h0m1.5-1.3h0m.1 2.7h0m.7-2.4h0m.3 2.5h0m8-5.6h0m1 3.9h0m2.2-3.5h0m2.3-.4h0m8.9 3.9h0m1.2 .4h0m1.1-.3h0m.1-.3h0m.6-.4h0m.2-.3h0m2.3 2.8h0m.1-.9h0m.7-1h0m1.6-.6h0m3.1 .7h0m.9 1.3h0m4.3-4.3h0m2.6-.1h0m5.9 .1h0m2.5 1.7h0m2.4-.1h0m0 .1h0m.4 1.2h0m.5-.6h0m1.1 .2h0m1.3-.1h0m2.3 2.2h0m2.1 0h0m2.7-1.3h0m1.1-1.3h0m1 .5h0m2-1.8h0m1.4-1.3h0m1.6 .5h0m7.4 .7h0m3.9 1.3h0m1.1 2.5h0m.3 .5h0m1.1-3.1h0m1.4-1.5h0m.1 2.2h0m.7 .4h0m2.6-.2h0m2.7-1.7h0m1 1.4h0m3.8 1h0m7-1.9h0m.5-1.3h0m2 2.4h0m3.4-.9h0m.5 1.3h0m3.6-2.2h0m.9 4.1h0m1.5-3.5h0m.2 1.4h0m.3-.3h0m8.4-1.3h0m3.9-3.4h0m.9 5h0m.9-.7h0m1.1 .7h0m1-.7h0m.8 .6h0m3.9 .9h0m1-1.6h0m3.3-5.9h0m4.9 3.1h0m2.2 3.9h0m3.5-1.1h0m2.1 1h0m.5-2.6h0m1.4-.5h0m5.3-3.6h0m1.8 7.4h0m.6-1.2h0m2.3 .7h0m1.9-.6h0m1.3 1.3h0m.9-1.1h0m7.6 .5h0m1 1h0m1-2.2h0"/>
<path stroke="#4682b4" stroke-width="1.5" stroke-linecap="round" fill="none" d="M48.1 298.3h0m0 3.5h0m0 .5h0m.2-4.4h0m0 4.2h0m0 1.5h0m.2-6.2h0m0 3.1h0m.1-3.3h0m.3 1.9h0m0 1.1h0m0 2.3h0m.1-1.4h0m.1 1.3h0m.4-7.4h0m.4-4h0m0 5h0m0 5.8h0m.3-.2h0m.1-4.2h0m.1 3.8h0m.1 .8h0m.2-10.9h0m0 4.2h0m.1 8.8h0m.3-2.6h0m.1-2.2h0m.2-.5h0m.2 4.5h0m.1-5.6h0m0 1.2h0m0 2.1h0m.2 2.7h0m.3-1.7h0m.1-1.6h0m0 3.1h0m.1-8.8h0m0 7.2h0m.2 1.8h0m.1-2.1h0m.4-1.8h0m.1 3.6h0m.1-1.1h0m.1-3.9h0m.5-1.1h0m.1 3.3h0m.5-.4h0m.2 2.6h0m.1-1.6h0m.2-8.2h0m.1 10.1h0m.1-4.2h0m.1-5.2h0m0 7.5h0m0 1.5h0m.1-5.8h0m.1-6h0m.1 4.6h0m.1 5.7h0m0 1.8h0m.1-.1h0m.3-1.3h0m.1-7.7h0m.1 8.2h0m0 .1h0m.1-.9h0m.1-13.6h0m.1 12.8h0m.3-3.1h0m0 2.6h0m.2 3.4h0m.2-4.9h0m.1-.9h0m0 3.9h0m0 .8h0m.1-4.5h0m.1-14.4h0m0 13.2h0m0 4.7h0m0 2.1h0m.1-7.3h0m.1 7.5h0m.2-2.4h0m.2-3.3h0m0 3.1h0m.3-2.3h0m0 3.9h0m0 .8h0m0 .7h0m.1-6.5h0m.1 0h0m0 5.1h0m0 .9h0m.1-1.5h0m.5-3.8h0m0 2.6h0m0 2.2h0m.1-1.2h0m.2 2.4h0m.1-.5h0m.3-11.7h0m0 7.2h0m.1 4.7h0m.2-11.7h0m.1 9.3h0m.1-.9h0m.2-1.1h0m0 1.9h0m0 .8h0m0 1.6h0m.2-2.1h0m0 1.4h0m0 1.2h0m.1-6.8h0m0 3.2h0m0 2.5h0m.1-1.5h0m0 .3h0m.1-3.1h0m0 4.2h0m.4-3.5h0m.1 2.1h0m.1 .7h0m.1-1.7h0m0 2.9h0m.1-5.1h0m.1 2.9h0m.2 1.5h0m.1-6.4h0m.6-1h0m.1 6.4h0m.3 1.2h0m.1-12.3h0m.1 11.6h0m.1-.4h0m.1 .2h0m.1-8.3h0m.1 7.6h0m.1 .7h0m.2-11h0m.1 2.6h0m.1 6.4h0m0 1.7h0m0 .7h0m0 .6h0m.1-12.4h0m0 10.1h0m.3-11.1h0m.1 8.4h0m.1-1.8h0m0 5h0m.2-1h0m.1-4.3h0m0 .3h0m0 3.3h0m0 .8h0m.1-3h0m.1 1.2h0m.1 3.6h0m.1-7.4h0m0 8.5h0m.1 0h0m.2-3h0m0 2.3h0m.1-2.4h0m0 .1h0m.3 .8h0m0 .1h0m0 .3h0m.1-2.6h0m0 3.3h0m.1-4h0m.1-22.6h0m0 3.9h0m0 22.1h0m.1-9.9h0m.1-11.3h0m0 14.2h0m0 3.6h0m0 1.6h0m.4 1.9h0m.3-5.3h0m0 4.3h0m.3 .9h0m.2-3.4h0m0 2.2h0m.1 1.6h0m0 .6h0m.1-.8h0m.2-.9h0m0 1.1h0m.2 .5h0m.6-6.3h0m.1 6.9h0m.6-4.1h0m0 3.4h0m.2-3.8h0m.3 4.6h0m.1 .8h0m.1-2h0m.1-9.7h0m0 9.8h0m0 1.9h0m.1-.9h0m.3-1.9h0m.2 1.3h0m0 .5h0m.1-1.6h0m.2-.3h0m.2-10.1h0m0 2.3h0m0 7.7h0m.1-20.8h0m0 22.8h0m.2-9.1h0m0 1.9h0m0 5.2h0m.1-12.6h0m0 11.9h0m0 2.4h0m.2-14h0m0 12.5h0m.3-.3h0m.1-8.7h0m0 5.3h0m0 1.8h0m0 .8h0m0 3.3h0m.1-10.3h0m.1 2.4h0m0 2.5h0m.1-11.1h0m0 12.6h0m0 1.5h0m.2-1.7h0m0 1h0m.4 .3h0m0 2.2h0m0 .6h0m.1-7.1h0m0 4.5h0m.1-26.7h0m0 23.8h0m0 3.8h0m.1-1.3h0m21.7 2h0m.1-4h0m.2 .2h0m0 2.4h0m0 1.2h0m.2 .5h0m.1-1.7h0m.1-3.8h0m.1 .6h0m0 4h0m.1-3.5h0m0 4.4h0m.2-6.4h0m.2-11h0m0 14.8h0m.1-2.5h0m.1-15.1h0m0 1.4h0m0 13.9h0m0 1h0m0 4.6h0m.2-9.9h0m.1-2.2h0m.1 7.2h0m.1 3.9h0m.1-8.4h0m0 1.9h0m0 4.9h0m.1-15.2h0m0 14.6h0m.1 2.4h0m.2 0h0m.1 .4h0m.1-4.2h0m0 3.1h0m0 .2h0m.2-.3h0m0 .4h0m.4-4h0m0 4.5h0m.5-11h0m.1 10.4h0m0 .2h0m.1-5.2h0m0 4.2h0m.1 .9h0m.3-2.1h0m.1-1h0m0 1.6h0m.1 1.3h0m.2 1.1h0m.2-2.4h0m.1-1.1h0m.2 3.5h0m0 .4h0m.1-.5h0m.2-1.1h0m0 1.4h0m.1-4.6h0m0 .8h0m.3 .7h0m0 .2h0m0 1.3h0m0 1.3h0m.5-2.3h0m.5 2.7h0m.3-12.6h0m0 11.8h0m.1-5.1h0m0 3.4h0m0 .8h0m.1 1.6h0m.1-.2h0m.3-26.5h0m.1-7.8h0m0 27.8h0m0 4.4h0m.1-3.2h0m0 3.7h0m.2-.7h0m.1-32h0m0 8.5h0m0 25.4h0m.1-17h0m0 1.8h0m.1 13.5h0m.1-24.7h0m0 21.4h0m.1-27.5h0m0 25.4h0m.2 6.9h0m.2-12.9h0m0 13.9h0m.1-6h0m.1-.4h0m0 6.7h0m.1-5.1h0m.1 1.9h0m.1-14.7h0m0 12.1h0m.1-3.3h0m0 4.1h0m.3 .5h0m0 2.2h0m0 .4h0m.2-15h0m0 15.8h0m.2-6.8h0m.7 4.1h0m0 1.1h0m0 1.8h0m.3-11.1h0m0 8.6h0m.1 2.1h0m0 .1h0m.3-1.4h0m.1 2.2h0m.1-1.7h0m.2-5.4h0m0 3h0m.2-3.1h0m0 6.1h0m.1-1.3h0m.1 .2h0m0 .7h0m0 .2h0m0 .9h0m.1-.5h0m.1-2.3h0m.5 2.5h0m.3-2.4h0m0 .5h0m.1-4.9h0m.6 3.9h0m0 4.1h0m.2-10.1h0m0 9h0m.1-8.5h0m.1 4.3h0m0 1.1h0m0 .9h0m.1 .2h0m0 1.5h0m.1 0h0m.2 1.8h0m.1-.9h0m.2 .4h0m.4-13.2h0m0 6h0m.1 .9h0m0 3h0m.1-.2h0m0 .6h0m.4 2.5h0m.2-.4h0m.2-7.4h0m.1 5.6h0m.2 .6h0m0 .3h0m.1 .8h0m.1-2.3h0m.3 .5h0m0 .4h0m0 .2h0m0 1.3h0m.1 0h0m0 .1h0m.6-2.4h0m.2 3.6h0m.2-1.2h0m.1 0h0m.4-2.3h0m.3 2.9h0m.1-.4h0m0 .7h0m.1-.8h0m0 .4h0m.2-1.6h0m0 2h0m.1-7h0m0 6.1h0m0 .5h0m.1-9.8h0m.3 7.1h0m0 .3h0m0 .8h0m.2-3.7h0m19.5-3.9h0m.2 3h0m0 2.8h0m0 2.4h0m.1-16.9h0m0 14.8h0m.5 3.5h0m.1-21.9h0m0 21.3h0m.2 .4h0m.2-3.9h0m.1-6.5h0m.1 8.1h0m.1-30.2h0m0 4.9h0m0 8.2h0m0 14.8h0m0 2.8h0m.1-.7h0m.2-9.4h0m0 9.9h0m.1-24h0m.1 8.1h0m.1 17.3h0m.1-.5h0m.1-4.3h0m0 5.7h0m.1-4.6h0m.1 1.1h0m.1-5.8h0m0 7.5h0m0 .3h0m0 .1h0m0 .7h0m.1 .6h0m.1 .2h0m.1-4.1h0m.1 3.5h0m.1-.4h0m.5-7.9h0m0 1.8h0m.2-12.1h0m0 16.6h0m.3-.4h0m.1 .6h0m.2-22.6h0m0 18.2h0m.2-14.2h0m0 12.2h0m0 6.3h0m0 3.2h0m.1-4.3h0m.1-21.7h0m0 24.3h0m.1-5h0m0 2.6h0m0 .6h0m0 1.1h0m.2-.4h0m.1 1.1h0m0 .7h0m.3-18.5h0m0 5.4h0m0 4.2h0m.1 3.4h0m0 1.2h0m.3 5h0m.3-12.9h0m0 12.5h0m.5-.6h0m0 .1h0m0 .4h0m.2-5.7h0m.1 4.6h0m0 2h0m.2-.8h0m0 .9h0m.2-5.5h0m.2 4.7h0m.1-3.6h0m0 3.4h0m0 .6h0m.4-2.7h0m.1 .1h0m.2 1h0m.1 1.3h0m.3-5.3h0m.2 4.9h0m0 .3h0m.2-2.9h0m.1-5.1h0m0 1.9h0m.1-12.3h0m.1 15.7h0m0 .1h0m.2-10h0m0 5.8h0m0 3.3h0m0 .7h0m.1-27.2h0m0 30.3h0m.2-19.6h0m0 2.5h0m0 1.8h0m0 11.5h0m.1-16.8h0m0 14.9h0m.1 3.8h0m.2 .1h0m.1-3.1h0m.2-11.6h0m0 1.7h0m0 11.7h0m.2-8.1h0m0 11.9h0m.2-6.8h0m0 4.8h0m0 .7h0m.1-3.7h0m0 1.7h0m.1-13.4h0m.1-11.5h0m0 21.7h0m.1-26.8h0m0 8.8h0m0 5.4h0m0 17h0m0 .3h0m.2-5.6h0m.1 5.4h0m.3-2.5h0m0 .6h0m0 3h0m.3-8.9h0m0 6h0m0 2.6h0m0 .2h0m.1-3.3h0m.1 1.1h0m.1-1.1h0m.1-11.2h0m0 10.5h0m0 .6h0m.1 1.7h0m.2-2.4h0m.3 .8h0m0 1.9h0m0 .2h0m.1-1.4h0m.1-1.6h0m0 2.5h0m0 .6h0m.3-3.1h0m.5 3.4h0m.2-1h0m0 1.4h0m.1-4.1h0m0 3h0m.1-6.7h0m0 3.2h0m0 4.4h0m.3-1.8h0m0 2.6h0m.2-3.4h0m.2 1.1h0m0 1.2h0m.1-4.5h0m0 2h0m0 2.7h0m.1-2.7h0m.3 2.6h0m.1-2h0m.1-.2h0m0 2.9h0m.1 .5h0m.1-.6h0m.3-3.4h0m0 1.6h0m.1 1.3h0m.1 1.1h0m.1-2.9h0m.1 2.5h0m.1-12h0m0 7.8h0m.2 .9h0m0 3.1h0m.3-1.3h0m.1-8.7h0m0 6.9h0m.2 3.4h0m.1-3.3h0m.1 3.2h0m.1-8.2h0m.1-4.5h0m.3 9.1h0m.1 .4h0m16.1 2.9h0m.1-4.1h0m0 5h0m.3-1.2h0m.1-3.4h0m0 2.7h0m.6-4h0m0 5.3h0m.2-1h0m0 1.1h0m.1-.5h0m.6-3.5h0m0 2.7h0m.2-.4h0m.1-1.6h0m.2 4.1h0m.6-7.3h0m0 5.1h0m0 1.4h0m.1-5.7h0m.3 4.7h0m.1-.8h0m0 2.4h0m.2-14.4h0m.1 13.6h0m.4-5h0m.1-3.4h0m0 5.5h0m.2 .9h0m.2-5.3h0m.1 5.8h0m0 1h0m.3 1.4h0m.1-2h0m0 2.1h0m.1-1.1h0m.2-3.5h0m.1 3.1h0m.1-3.7h0m.2-1.1h0m0 1.9h0m0 2.8h0m.2-2.1h0m0 .8h0m0 .3h0m0 1.9h0m.1-8.8h0m.2 8.5h0m.4-7.3h0m.1 .1h0m0 6.2h0m.1-.9h0m0 2.1h0m.1-3.6h0m.2 1.5h0m.3-2.7h0m.1 .2h0m.2 4.3h0m.2-1.4h0m.1-1.3h0m.1 1.7h0m.1-9h0m.4-4.6h0m0 1.2h0m0 12.4h0m0 .6h0m.2-4.6h0m.1 2.5h0m.3-8.6h0m.3-1.5h0m0 11h0m.2 .6h0m.2-1.1h0m0 1h0m.3-5.6h0m0 1.4h0m0 .2h0m0 3.2h0m.1-4.7h0m.7 2.9h0m.1 0h0m0 3.7h0m.1-1.3h0m.2-5.2h0m0 7.4h0m.1-1.6h0m.2-9.8h0m0 7.1h0m0 1.7h0m.1 1.9h0m0 .2h0m.1-1.8h0m.2-1h0m0 1.8h0m.1-1.2h0m.1-6.6h0m.1 9.2h0m.1 .2h0m.4-4.6h0m0 4.7h0m.5-7.3h0m0 3.7h0m.1 2.6h0m0 .4h0m.1-3.6h0m0 3.7h0m.4-5h0m0 4.5h0m0 .3h0m.1-17.9h0m0 16.9h0m.1-2.6h0m.1-1.1h0m.1 2.2h0m0 2.9h0m.1-2h0m.2-2.1h0m.1 2.6h0m.1-2.3h0m0 .1h0m0 1.4h0m0 .1h0m.1-.2h0m.1-4.7h0m0 4.7h0m0 .9h0m.1-2.3h0m.1-2.2h0m0 .7h0m.1-.6h0m0 1.5h0m0 1.6h0m.1-3.7h0m0 2h0m16.4 0h0m0 1.4h0m.2-5.3h0m.1 3.4h0m.1 1.7h0m.1 0h0m.2 2.3h0m.3-2.1h0m.1 .4h0m0 .5h0m.3-1.9h0m.1-9h0m0 12.5h0m.1-.4h0m.3-11.8h0m.2 10.1h0m.4 1.2h0m.1-2.6h0m0 1.9h0m0 1.1h0m.5-.6h0m.1 .9h0m.1-1h0m.1-.5h0m.1-2.2h0m0 2.9h0m.2-10.6h0m.1 9.4h0m0 1.5h0m.1-12.9h0m0 10.8h0m0 1.2h0m0 1.5h0m.1-14.7h0m0 7.6h0m.1 .6h0m.1-1.1h0m0 .6h0m.1 3.2h0m0 .7h0m.1 .9h0m0 .9h0m.1-5.1h0m.1-13.6h0m.1 21h0m.2-25.6h0m.1 25.2h0m.1-3.3h0m0 4h0m0 .1h0m.1-25.8h0m0 19.2h0m0 6.2h0m.1-2h0m.1-9.6h0m.1 12.1h0m.1-1.1h0m.1-18.6h0m.2 16.6h0m0 .8h0m0 2h0m.2-21.3h0m0 14.6h0m.3-9.6h0m0 13.1h0m.1-27.9h0m.1 22h0m.1-.8h0m0 3.4h0m.1 5.5h0m.1-7h0m.1 4.9h0m0 1.6h0m.1-4.8h0m.3-15.6h0m0 10.4h0m0 6h0m.1-4.5h0m0 3.6h0m.2 2.9h0m0 .3h0m.1-.8h0m.1 1.9h0m.1-5.7h0m0 2.4h0m.1 1.7h0m.2-4.3h0m0 2.7h0m0 .1h0m.1 1.6h0m.2-2.3h0m0 2.6h0m0 1.5h0m.1 .2h0m.4-2.5h0m0 1.4h0m0 1.7h0m.1-5.3h0m.2 5.2h0m.3-.6h0m0 .4h0m.2-6.9h0m.1 2.4h0m0 4.5h0m.1-4.2h0m.1 4.3h0m.1-3.8h0m0 1.3h0m.2-3.8h0m0 4.4h0m.1-4.1h0m.1 5.2h0m.2-.5h0m.1-1h0m.1-15h0m0 15.4h0m.1-.6h0m0 .1h0m.3-21.1h0m0 19.6h0m.1-7.8h0m.1-2h0m.1 9.8h0m0 1.2h0m.1-7h0m.1-6.2h0m.1-10.2h0m0 24.3h0m.1 .3h0m.1 .1h0m.2-2.7h0m0 .7h0m.1-3.7h0m.2-13.2h0m0 14.7h0m.1-7.1h0m.1 2.4h0m.5 9.2h0m0 .1h0m.1-7.5h0m0 4.3h0m.2 1.2h0m.1-1h0m.1-7.2h0m1.8 9.6h0m13.5-2.5h0m0 .5h0m.2 1.4h0m.2-.6h0m0 .8h0m.1-6.6h0m.2-3h0m.2 9.3h0m0 .6h0m0 1.9h0m.1-7.9h0m.1 6.3h0m.1-2.1h0m.1 3.4h0m.2-6.8h0m0 2.8h0m0 2.6h0m.1-3.2h0m.2-1.6h0m0 4.2h0m.1-6.9h0m.1 5.2h0m.2 3.1h0m.2-28.4h0m.1 8.1h0m0 16.7h0m0 2.6h0m.3-3.4h0m0 1.8h0m0 2.2h0m.2-10.3h0m.1 10.1h0m.1-16.2h0m0 3.4h0m0 12.7h0m.3-12.1h0m0 10.7h0m.1-.1h0m.1 1.9h0m.2-6.8h0m.2-.7h0m0 4.7h0m.3 .9h0m.1-3.2h0m0 5.2h0m0 1.2h0m.2-3.7h0m.1 .6h0m.1 1.5h0m0 .7h0m.1 .8h0m.3-12.3h0m0 12.4h0m.1-1.8h0m0 1.1h0m.1 .6h0m.1-10.5h0m0 6.9h0m.2 0h0m.2 1.7h0m0 1.5h0m.3-.1h0m0 .6h0m.2-5.1h0m0 2.7h0m.2 2.9h0m.3-1.7h0m.2-4.1h0m.5 4.1h0m.1-4.8h0m.1-6.8h0m0 13.4h0m.2-2.2h0m.1-16.1h0m0 11.4h0m.1-13.3h0m0 8.9h0m0 10.3h0m.1 .7h0m.2-5.7h0m0 3.9h0m.1-4.8h0m0 4.9h0m.3-3.5h0m0 .3h0m.2 2.3h0m.1-3h0m.3 3.7h0m.1-27.8h0m0 22.3h0m.2-20.6h0m0 25h0m.2-3.6h0m0 3h0m0 .7h0m.1-3.1h0m0 3.1h0m0 .9h0m0 .1h0m.3-7.2h0m.3-2.4h0m.1 5.5h0m0 1.2h0m0 2.2h0m0 .3h0m.1 0h0m.2-1.8h0m0 1.2h0m0 .7h0m.3 .9h0m0 .7h0m.2-3.4h0m.2-.5h0m0 1.6h0m0 .4h0m.1-3.2h0m0 4.9h0m.1-1.3h0m0 .2h0m.1-1.5h0m.2 .2h0m.7-3.6h0m.2 .4h0m.1 .2h0m.1 4.1h0m.1-4.3h0m.1 .5h0m.2 .8h0m0 2.1h0m.2-1.1h0m0 2.3h0m.2-1.6h0m.2 2.8h0m.1-.1h0m.1-4.3h0m.1-27h0m0 24.5h0m0 1.1h0m0 2.9h0m0 3.1h0m.1-5.1h0m0 3.3h0m.1-2h0m.1 2.4h0m.1-6h0m12.7 6.7h0m.1-3.7h0m.1-6.4h0m.1 7.2h0m.2 1h0m.1-2.1h0m0 2.5h0m.1-3.9h0m.2 4.1h0m.1-3.9h0m0 3.4h0m.3 .7h0m0 1.1h0m.2-4.9h0m.1 3.8h0m.1-1.2h0m0 .5h0m.1-.4h0m.3-.9h0m0 1.5h0m.1-1.9h0m.3-3.1h0m.1 3.3h0m.1-5.6h0m.4-2.2h0m0 10.2h0m0 .1h0m.4-4.9h0m0 4.9h0m.1-7h0m.1-7.1h0m.1 8h0m.1 4.9h0m.2 .9h0m.1-4.4h0m0 2.3h0m0 2.2h0m.1-9h0m.1-.6h0m0 7.6h0m0 .2h0m.2-16h0m0 17.9h0m.2 0h0m.1-1.8h0m.1 .4h0m.1-1.5h0m.2-14.8h0m.2 3.6h0m0 13h0m0 .8h0m0 .5h0m.3-3.3h0m0 4.3h0m.2-13.6h0m.1 5.8h0m.1-2.2h0m0 3.4h0m.1 2.6h0m0 .8h0m0 1.1h0m.2-1.2h0m.1 2.1h0m0 1h0m.1-1.9h0m.4-1.1h0m0 1.6h0m.1-8.5h0m.5 10.4h0m.1 .2h0m.3-2.9h0m.3 1.9h0m.1-.6h0m.1 .9h0m0 .2h0m.1-1.4h0m0 1.5h0m.1-8.7h0m.3 4.9h0m.1 1.1h0m.1 .1h0m0 1.6h0m0 .1h0m.2 1.1h0m.4-.9h0m10.4 .3h0m.4 .6h0m.1-5.2h0m.2 2.3h0m0 1.3h0m.1-3.1h0m0 4.4h0m.1-4.9h0m.2 .5h0m.1 3h0m.1 .9h0m.1-19.8h0m0 16h0m0 3.2h0m.1-2.1h0m.1-1.2h0m0 .4h0m.2-.5h0m.1 2.2h0m.2-1.4h0m.1 3.1h0m.1-7.8h0m0 1.1h0m0 2.3h0m0 2.9h0m.1 0h0m.1-10.2h0m0 11.4h0m0 1.1h0m.1-.9h0m.2-3.6h0m.1 4.5h0m.1 .2h0m.4-6.1h0m.3 6.2h0m.1-3.1h0m0 2.8h0m.7-2.6h0m0 .9h0m.2-.3h0m.3-3.3h0m.1-4.6h0m.1 10.2h0m.1-1.6h0m.1-1.9h0m.3 1.9h0m0 .7h0m.3-5.4h0m0 5.8h0m.3-16.4h0m0 15.1h0m.1-6.9h0m.1 7.2h0m.1-5.4h0m.1 1.4h0m.1 4.2h0m.1-8.7h0m.4-3h0m0 .8h0m.1 10h0m.1-7.5h0m.1 4.7h0m.1 1.5h0m.1 1.2h0m0 1.4h0m.1-9.6h0m0 5.8h0m0 .6h0m.1-17.3h0m.1 16.4h0m0 1.5h0m.1-25.2h0m0 26.1h0m.2 .1h0m0 .9h0m.1-.7h0m.1-1.4h0m.1-3.7h0m0 1.8h0m.1-7h0m0 10.5h0m.2-3.1h0m.2-16.2h0m0 8.4h0m.1 6.7h0m.3-.2h0m.1 1.2h0m0 2.2h0m.1-8.4h0m0 1.8h0m.1 2.7h0m0 2.9h0m.2-1.3h0m9.7 .9h0m0 1.5h0m.5 .4h0m.1-.8h0m.1-2h0m0 3.2h0m.1 1.6h0m.1-3.8h0m0 1.1h0m0 1.7h0m.1-1.3h0m.1 .9h0m.1 1.2h0m.3-1.3h0m.2-3.9h0m0 1.6h0m.1 3.1h0m.2-4.9h0m.1-8.9h0m.1 10.6h0m0 2.9h0m0 .3h0m.1-11.5h0m0 11.7h0m0 1h0m.1-19.5h0m.1 13.4h0m0 5.1h0m.1-.4h0m0 .8h0m.1-15.7h0m0 12.6h0m.1 2.3h0m0 .6h0m0 .1h0m.1-4.3h0m0 2h0m.1 1.9h0m.1-13h0m0 13.3h0m.4-.6h0m0 1.4h0m.3-2h0m.7-3h0m.1 4.4h0m.1-.2h0m.1-13h0m0 11.5h0m.1 1.6h0m.2 .7h0m.1-7.3h0m0 7h0m.3-14.5h0m0 5.5h0m.1-4.4h0m.2 12.1h0m.1-1h0m.1-6.8h0m.1-1.1h0m.1 9.8h0m.1-.1h0m.4-8.3h0m0 3.6h0m0 1.7h0m.1-7.5h0m.1 8.3h0m.1-2.3h0m.2 3.1h0m6.6-.1h0m.1 1.4h0m.1-1.2h0m.1-2.8h0m.4 1h0m0 1.2h0m.1-5.6h0m0 3.5h0m.1-1.9h0m.1-19.3h0m0 7.1h0m.2 14.4h0m0 1.5h0m.1-1.1h0m.1-2.1h0m.1-20.9h0m0 21.4h0m0 4.2h0m0 1.1h0m.1-6.1h0m.1 4.1h0m.2-2.3h0m0 3.8h0m.1-.2h0m.1-30.5h0m0 26.9h0m0 3.2h0m0 .4h0m.1-5.1h0m.1 5.4h0m.2-5.5h0m.3 5.2h0m0 .3h0m.1-22.2h0m.2 21.4h0m.4-4.3h0m.1 4.8h0m.2 .1h0m.2-9h0m0 5.6h0m0 2.1h0m.2-4.1h0m.2 2.7h0m.1 2h0m.1 .1h0m.1-12.8h0m0 8.7h0m0 4.7h0m.1-4h0m0 .2h0m.2 1.4h0m.2 .6h0m.4-.9h0m0 2.5h0m.1-3.8h0m.2 0h0m.4-5.2h0m0 7h0m0 .1h0m0 1.5h0m0 .4h0m.3-2.6h0m.3 .5h0m.1-1h0m.2 .3h0m.1-5.3h0m.1 5.3h0m.2-3.2h0m.1 1.4h0m0 2.6h0m.1 .4h0m.1-2.4h0m5.1 1.5h0m.1-.3h0m.6-5.2h0m0 3.1h0m.2 1.2h0m.1-5.1h0m.1 5.7h0m.1 1.2h0m0 1.8h0m.1-4.6h0m0 1.1h0m0 4.1h0m.1-7h0m.1 4.5h0m.1-.5h0m.1 1.4h0m.2-.9h0m.2 2.6h0m.1-.9h0m.4-16.4h0m0 13h0m.3 1.5h0m.3-2.8h0m.2-10.3h0m0 15.3h0m0 .7h0m0 .3h0m.1-1.6h0m.4-.9h0m.1-2.2h0m0 2.2h0m0 1.4h0m.5-3.1h0m0 1.1h0m0 1h0m.3-.3h0m.2-3.5h0m0 4.7h0m0 .2h0m.2-6.7h0m.1 6.8h0"/>
<path stroke="#0000ff" stroke-width="1.5" stroke-linecap="round" fill="none" d="M22.2 295.7h0m.2 2.6h0m.5-4.1h0m.3 3.3h0m0 1.3h0m.2-10.4h0m0 10.4h0m.1-1.8h0m.1-.6h0m.1-10.6h0m0 6.1h0m0 1.1h0m.1-19.5h0m0 7.6h0m0 10.4h0m0 5.2h0m.1-20h0m.1 9.5h0m.2 7h0m.2-10.7h0m.1 14.7h0m.1-5.3h0m0 4.7h0m.1-1h0m0 2.4h0m.4-1h0m.1-7.7h0m0 7.5h0m.4 1.2h0m.1-.7h0m.1-1.1h0m0 1.4h0m.2 2h0m.1 .7h0m.3-12.1h0m0 5.1h0m0 1.6h0m0 .3h0m0 2.9h0m.2 1h0m.1-3.5h0m.2 1.3h0m0 2.4h0m.1-8.4h0m.1 6.3h0m.1 .2h0m0 1.6h0m.1-17.5h0m0 17.7h0m.1-18.1h0m0 10.6h0m0 3.1h0m0 3.2h0m.2-.1h0m.1 1.4h0m.2-6h0m.1 3.7h0m.3-.1h0m.1 2h0m.1-.7h0m.2-1.2h0m.2-.9h0m.1-4.8h0m0 2h0m.1 1.9h0m0 1.5h0m.1 .1h0m.1-10.4h0m.1 9.8h0m0 1.4h0m.1-2.5h0m.3 2.9h0m.2-16.1h0m.2 2.5h0m0 9.9h0m.1 3.6h0m0 .1h0m.1 0h0m.1-5.9h0m.2 4.7h0m.2-4.3h0m.1 4.2h0m.1-1.3h0m.1 1.8h0m.1-1.2h0m0 2h0m.1 1.2h0m.2-1.9h0m.1-.6h0m0 1.9h0m0 .3h0m.1-8.4h0m0 6.6h0m.1-.3h0m0 1.4h0m.2-.6h0m.2-6.9h0m0 8.6h0m.1-6.4h0m0 6.2h0m.1-3.9h0m.1 3.7h0m.1-.3h0m.2-3.5h0m.1-11.7h0m.1 8.1h0m0 2.2h0m0 3.3h0m.1-3.3h0m0 1.7h0m.1-2.5h0m.1 4h0m.2-4.3h0m.3-3.2h0m0 9.7h0m.4-1.2h0m.1-2.8h0m.1-3h0m0 2h0m0 4.5h0m0 .3h0m.1-2.9h0m1.2 1.5h0m.2-4.9h0m0 2.1h0m.1 2.6h0m0 .1h0m.2-.6h0m.1-7.6h0m.1 8.1h0m.1-2.1h0m0 .1h0m.1-1.2h0m.3-16.8h0m.1 17.7h0m.2 3.9h0m.3-.9h0m.1-1.3h0m.1 2.2h0m0 .8h0m.2-3.9h0m.1 2.6h0m.5 .2h0m.2 .8h0m.2-2.2h0m.1-.4h0m.1-1.3h0m.1-.2h0m.4 4.2h0m.1-1.4h0m.4-2.6h0m.2-4h0m0 6.4h0m.2-5.5h0m0 5.4h0m.1 .4h0m.2-10.8h0m0 11.8h0m.1-8.6h0m0 6.7h0m.3-.7h0m.2 .4h0m.1 0h0m.2-3.5h0m.2-14.9h0m0 21.4h0m.1-1h0m.1-24.6h0m0 20h0m0 4.4h0m.3-.6h0m0 .9h0m.1-.4h0m.1-30.5h0m0 29h0m.3-1.7h0m.1-4.6h0m.1-2.2h0m0 3h0m0 5.4h0m.1 1.2h0m.1-1.4h0m.1-22.4h0m.1 6.8h0m0 16.7h0m.1-5.1h0m.3 4.3h0m.1 .8h0m.2-1.8h0m.2-1.2h0m.1 1.6h0m.2 2.8h0m.2-.1h0m0 .3h0m.1-2.3h0m.2-.4h0m0 .8h0m.1-5.7h0m0 1.1h0m.1 5h0m.3-2.7h0m.1-3.8h0m0 4.9h0m.2 2.2h0m.1 .5h0m.1 .1h0m.9-2.7h0m.4 2.5h0m.3-3h0m26.9 3.2h0m.1 .3h0m.1-4.3h0m0 5h0m.2-5.4h0m0 6.3h0m.2-1.7h0m.1-1.3h0m0 1.1h0m.3-7.3h0m.2 6.9h0m0 1.7h0m.1-4h0m.1-1h0m.4-2.3h0m0 5.5h0m0 1.7h0m.1 .1h0m.1-2.5h0m.1 1.7h0m.2-.2h0m.2-1h0m0 .5h0m.1-7.4h0m.3 7.3h0m.4-4.1h0m.1 5.2h0m.1 .7h0m.4-8.7h0m.1 4.4h0m.5-11.6h0m.1 12.8h0m.1 1.8h0m.2 .1h0m.1-1.7h0m.1-3.7h0m.2 4.8h0m.2-7.8h0m0 3.8h0m.1 .3h0m.1 2.1h0m.7-5.2h0m0 1.8h0m0 .5h0m.1-7.3h0m0 5.7h0m.1 3.4h0m0 1.8h0m.1 1.2h0m.2-3.4h0m.3-4h0m0 5.8h0m.1-20.8h0m0 22.2h0m.1-7.3h0m0 .9h0m0 3.5h0m0 3.5h0m.2-3.4h0m.3-2.7h0m0 7.5h0m.1-4.9h0m0 3h0m0 .4h0m.2-1.8h0m.8 1.8h0m.1-4.1h0m.1 .1h0m.1-.6h0m.7 6h0m.1-2.5h0m0 1.2h0m.1-7.1h0m0 7.9h0m0 .9h0m.1-3.5h0m0 3.4h0m.1-.5h0m.1-1.9h0m.2 2h0m.3-2h0m.1-6.5h0m.1 4.5h0m0 1h0m.4-4.1h0m0 4.4h0m.1-8.9h0m0 6.5h0m.1 .1h0m0 1.3h0m.1-6h0m.1-1.1h0m.1 7.9h0m.2 .2h0m.3-14.8h0m.1 11.4h0m.1 3.9h0m.2 1.1h0m0 .1h0m.1-10.6h0m.3 1.5h0m0 1.7h0m.1 6.6h0m0 .7h0m.1-3.3h0m.2-.6h0m0 .9h0m.1-1.1h0m.1-.2h0m0 3.8h0m.4 1.7h0m.1-9.6h0m.1 6.7h0m.3 .3h0m0 .2h0m.3-3.1h0m.1 2h0m.1 3.1h0m.1-17.8h0m0 10.5h0m.3-2.6h0m.6 9h0m.1 1.1h0m.8-5.7h0m.1 1h0m.3-1.2h0m.1 1.3h0m0 .8h0m0 1.8h0m.1-1.3h0m0 .7h0m.2-3.6h0m0 3.4h0m.5 .8h0m.1-4.5h0m.3 5.3h0m.1-.1h0m.2-3.9h0m0 5.2h0m.5-2.7h0m.1-3.1h0m.3 6.3h0m.1-10.5h0m0 4h0m.1 6.5h0m.2-7.7h0m.2 7.2h0m.1-.3h0m21.7-6.4h0m.1 7.7h0m.1-7.1h0m0 6.9h0m.2-8.8h0m.1 7.5h0m.7 1.7h0m.2-.8h0m.1-9.8h0m0 10.6h0m.3-12.7h0m.1 2.6h0m0 3.5h0m0 3.6h0m.1-.7h0m.1-9.2h0m0 9.4h0m0 2.5h0m0 2.1h0m.2-1.8h0m.1-7.6h0m0 8.8h0m.2-1.4h0m.1-1.3h0m.2-7h0m0 .9h0m.2 .3h0m.1-8.6h0m.1-11.4h0m0 25.7h0m0 .9h0m0 .7h0m.2-3.2h0m.1-9.5h0m0 3.1h0m.1-10.4h0m0 11.7h0m0 4.7h0m.1-8h0m.1-16.2h0m0 9h0m0 15.8h0m0 1.1h0m.1-7.9h0m0 6.5h0m.1 .9h0m.1-5.9h0m.1 3.9h0m.3-1.3h0m0 5.3h0m.2-1.2h0m.2-2.6h0m0 2.6h0m.1 .1h0m0 2.9h0m.2-1.7h0m.1-5.6h0m.1 3.5h0m.1-6.9h0m.1 5.7h0m.4 3.4h0m.5-.9h0m.6-5.8h0m0 8.9h0m.3-3.3h0m0 .5h0m.2-2.3h0m.1-2.7h0m.2 3.4h0m0 .9h0m.1 1.2h0m0 1.2h0m.2-3.1h0m.2-1.9h0m.1-.6h0m0 2.2h0m0 .6h0m.1-4h0m0 2.4h0m0 3.8h0m.2 1.1h0m.1-3.4h0m.2 .7h0m0 1.9h0m.4-2.4h0m0 1.8h0m.7-.7h0m.1-3.1h0m.3 1h0m0 2.4h0m0 1.1h0m.2-5h0m.1 3.7h0m.5-4.4h0m0 3.9h0m0 2.4h0m.4-4.7h0m.2-10.4h0m.1 10.8h0m0 2.2h0m.2-18.6h0m0 9.3h0m.1 9.3h0m0 .6h0m.1-6.8h0m0 6h0m.1-11.9h0m0 4.2h0m.2 3.3h0m.1-11.9h0m.3 4.5h0m0 5h0m0 7.6h0m.2-5.4h0m.1 5.1h0m.3-2.3h0m.1-.8h0m.2-4h0m0 7.1h0m.7-4.8h0m.3 4.3h0m.3 0h0m.1-21h0m0 13.8h0m.1 7.5h0m.1-.9h0m.3-1.5h0m0 .8h0m.1-8.2h0m.2 2.2h0m.2-3.5h0m.3 3.7h0m.1 6.1h0m.1 2.4h0m.1-1.7h0m0 2.9h0m.3-5.8h0m0 3.7h0m0 .9h0m.1 1.4h0m.2-1.4h0m.1 .9h0m.1-2h0m0 .6h0m.2-4.9h0m0 4.9h0m.1-5h0m0 1.1h0m0 2.3h0m.2-5.9h0m0 4.5h0m0 2.7h0m0 .8h0m0 .1h0m18-16.5h0m.7 4.7h0m.3-10.6h0m.1 9h0m.3-12.6h0m0 23.2h0m.1-5.2h0m.1-11.1h0m0 3.6h0m0 11.5h0m.2-16h0m0 9.6h0m.3 9.4h0m0 2.3h0m.3-17.9h0m.1 13.1h0m0 1.9h0m.8-16.4h0m.1 16.3h0m0 .7h0m.1-4.5h0m.2-5.8h0m.2-7.1h0m.1 11.6h0m0 1.6h0m.1-8.5h0m0 2.4h0m.3 4.8h0m0 4.4h0m.1-3.2h0m.3-4.2h0m0 9.4h0m.1-6.7h0m.1 5.5h0m.1-12.4h0m.2 10.7h0m.1-.5h0m0 1.1h0m0 1.3h0m.4 .6h0m.3-5.8h0m0 3.8h0m.1-6.5h0m0 8.2h0m.2-3.4h0m.3 1.4h0m0 1.4h0m.1-7.1h0m.1 3.2h0m.3-3.5h0m0 1.2h0m0 2h0m0 3.9h0m.2 0h0m.2-7.6h0m0 5.6h0m.1-2.7h0m0 4.8h0m.2-3.7h0m.1-2.1h0m0 3.4h0m.1 1.4h0m0 .8h0m.2-13h0m.1 9h0m0 .2h0m0 2.7h0m.1-1.1h0m.1-1.2h0m0 2.1h0m.1 .4h0m.1-5.5h0m.2 4.4h0m.2-4.6h0m.1 .6h0m0 1.8h0m.4 3.7h0m.1 .3h0m.1 1.1h0m.1-15.5h0m.1-1.2h0m.1 5.1h0m0 11.4h0m.1-15.9h0m.1 15.7h0m.2-.8h0m.2-14.3h0m.2 12.8h0m.1-2.9h0m.3 2.8h0m.1-3.4h0m.2-3.3h0m0 5.7h0m.2-.7h0m.3 1.5h0m.4-10.3h0m0 3.8h0m.3-2.1h0m0 6.4h0m.2-5.3h0m.1 5.4h0m.1 1.5h0m0 .9h0m.3-1.7h0m0 2.2h0m.1-4h0m.1 3h0m.1-14.6h0m.4 14.2h0m.3-.3h0m.1 1.5h0m.1-4h0m0 4.6h0m0 .5h0m.1-5.4h0m.1 2.5h0m0 2.6h0m.1-6.8h0m.2 8.3h0m.2-7.4h0m0 .3h0m0 7.3h0m.1-14.2h0m0 12.1h0m.4 1.9h0m.4-1.3h0m.2-3.3h0m0 1h0m.1-2.9h0m0 4.4h0m.3 .3h0m15.7 1.1h0m.7 0h0m.2-.7h0m.1 1.5h0m.3-.4h0m.1-2.5h0m.1 .1h0m0 3.4h0m.5-7.6h0m.1 1.2h0m0 .2h0m0 1.3h0m.1 5.7h0m.2-11.1h0m.1-3.2h0m.1 9.9h0m0 3.4h0m.2-5.7h0m0 2.1h0m.2-12.3h0m0 13.2h0m.1-12.9h0m0 13.9h0m.2-7.6h0m0 8.9h0m.2 .3h0m0 .2h0m.5-9.3h0m0 3.5h0m.1 5.3h0m.1-1.1h0m.6 0h0m.1-6.9h0m.1 5.3h0m0 1.9h0m.2-4.2h0m.1 0h0m.1 2.5h0m0 .6h0m.1-14.4h0m0 13.4h0m.2 2h0m.1-5h0m0 5.5h0m.2-.9h0m0 2.7h0m.1-2.3h0m0 1.5h0m2.2-14.1h0m.2 12.8h0m.1-3.4h0m.4 1h0m.6-7.9h0m.4-.2h0m.1 8.2h0m.4-3.9h0m0 2.5h0m.1 1.2h0m.1-18.8h0m0 20.4h0m0 1.6h0m.1-2.4h0m.1 .9h0m.1-1.5h0m0 1.3h0m.1-18.2h0m0 17.4h0m.3 2.2h0m.1-6.6h0m.1-4.2h0m0 9.6h0m0 1.3h0m0 .5h0m.3-2.9h0m.2-5.4h0m.1 2.5h0m0 3.2h0m.2-1.1h0m.1 .7h0m.1-.6h0m0 2.5h0m.1-3.2h0m0 3.2h0m.2-6.1h0m0 4.2h0m.1-7.3h0m0 6.4h0m.4-2.8h0m0 4.9h0m.4-3.5h0m.2-12.5h0m.1 14.7h0m0 2.4h0m.3-2.5h0m0 2.3h0m.1-1.7h0m.1 3.5h0m.1-5.8h0m0 3h0m.1-3.3h0m0 2.4h0m.4-3.4h0m.1 3.7h0m.1-2.6h0m.2 5h0m.1-3.6h0m.1-1.9h0m0 6.1h0m.1-3.4h0m.2 3.3h0m14.7-4.2h0m.4 .8h0m.1-8.5h0m0 6.3h0m.1 .1h0m0 .6h0m.1-10.1h0m.1 8.3h0m.1 2.6h0m.1-6.4h0m0 5.6h0m.1 2.5h0m.2-.9h0m0 .3h0m.1-3.5h0m.1-12.9h0m0 11.3h0m0 3.9h0m.1-16.3h0m.4 2.1h0m.1 15.3h0m.1-10.4h0m0 6.6h0m.1 2.5h0m0 .7h0m.1-8.3h0m0 6.6h0m.1 .4h0m0 1.5h0m.1-9.7h0m0 9.3h0m0 .8h0m.6-3.5h0m0 3.3h0m.1-5.3h0m0 5.6h0m.3-7h0m0 5.5h0m0 1.6h0m.2-2.5h0m.5-1h0m.1 5.5h0m.2-4.5h0m.2 .3h0m.1 3.4h0m.3-4.8h0m0 5.8h0m.3-8.3h0m.2 1.5h0m.2 .4h0m0 4.1h0m0 .1h0m.1-5.2h0m0 2.8h0m.1-1.4h0m.1 .5h0m.1-1.1h0m0 1.9h0m.1-1.6h0m.2-7.2h0m.1 5.3h0m0 2.3h0m0 2.4h0m.3-2.3h0m0 3.3h0m.3-5h0m.1 .8h0m.2-10h0m0 3h0m.2 5.2h0m0 7.2h0m.1-10.2h0m0 4.8h0m0 5.5h0m.3-11.7h0m0 9.8h0m.1-.3h0m0 3.1h0m.1-5.9h0m.1-1h0m0 1.1h0m0 1.6h0m0 3.1h0m.1-11.5h0m0 .5h0m0 4.1h0m.2 4.6h0m.4-3.8h0m.2 3.9h0m.4 2.8h0m.3-2.5h0m.2-1.1h0m0 3.7h0m.1-1.8h0m0 1.7h0m.1-6.1h0m0 .9h0m0 5.4h0m.8-4.9h0m.5-9.7h0m0 14.5h0m.1-.4h0m.3-1.7h0m.5-3.9h0m.2 .5h0m.1 1.2h0m0 2h0m0 .3h0m.2 3.2h0m.1-3.2h0m.4-.3h0m.5-2.1h0m.1 .9h0m.1-.2h0m0 1.1h0m.1-11h0m.3 12.5h0m16.3 3.4h0m.1 .5h0m.2-5.3h0m.1 1.1h0m0 1.3h0m.1 2.4h0m.3-.2h0m.1-15.1h0m0 13.8h0m0 .3h0m0 1.1h0m.1-.9h0m.1-5.1h0m.1 .8h0m.2-10.7h0m0 2h0m.4 9.1h0m.1-1.5h0m.2-5.1h0m0 10.2h0m0 .2h0m0 .9h0m0 .4h0m.2-9.2h0m.2-4.7h0m0 12.1h0m.1-4.9h0m.2 4.4h0m0 1.5h0m.4-2.7h0m.1-6.9h0m.1 7.3h0m.1-10.1h0m.1 13.3h0m.1-13.2h0m0 4.1h0m.1 7.8h0m0 1.8h0m.1-2.9h0m.3-1.4h0m.5 .4h0m.1 .8h0m0 1.1h0m0 .1h0m.1-.2h0m.4-1.7h0m.1 1.8h0m.1-5.4h0m0 .9h0m.1 2.9h0m.2 1.1h0m.1-9h0m0 4.5h0m.1 3.2h0m.1 1.1h0m.2-2.1h0m0 2.1h0m.2-3.9h0m.3 1.9h0m0 3.1h0m.1-1.4h0m.1-.6h0m0 2.1h0m.2-10.6h0m0 10.3h0m0 1.8h0m.1-3.7h0m0 2.7h0m.1 .4h0m.6-6h0m.1 3.6h0m.2-4.8h0m.1 1.7h0m0 2.4h0m0 2.1h0m.8-3.5h0m.1-2.1h0m.4 6.1h0m14.4-5.1h0m.2 1h0m.1-3.7h0m.5 3.6h0m.1-1.7h0m.2-7.1h0m0 6.8h0m.2-7.4h0m.2 7.9h0m0 1.5h0m.2-6.2h0m.4 3.9h0m.2-3.5h0m.1-2h0m.1 9h0m.3-8.2h0m0 2.9h0m0 4.8h0m.2-3h0m.2 .1h0m0 .5h0m0 .4h0m.2-4.3h0m.1-.2h0m0 6.2h0m.1-5.1h0m0 5.2h0m.2-10.5h0m.2 5.7h0m0 3.7h0m.1-6.8h0m0 7.9h0m.2 .4h0m.3-2.7h0m0 3.1h0m.2-1.4h0m.1-9.6h0m0 11.1h0m0 .8h0m.1-6.1h0m.1-.6h0m.1 2.3h0m.1 2h0m.2-1.9h0m.2 4.2h0m.2-5.1h0m.1-2.9h0m.1-4h0m.1-8.5h0m.1 13.2h0m.3 2.7h0m.1 2.8h0m.2-8.9h0m.1 7.4h0m.1-15.3h0m.3 8.3h0m.2-1.3h0m0 6.4h0m0 1.8h0m.1-3.1h0m.1 2.9h0m.5-2.5h0m.8 3.1h0m9.4-3.1h0m.4 .8h0m.2 0h0m.2 1.7h0m0 1.3h0m.1-.9h0m.2-1.8h0m.4-1.4h0m.3 3.5h0m.3-.5h0m.2-9h0m0 4.3h0m.1 2.6h0m.1-3.7h0m0 4.1h0m.1-12.4h0m.3-11.3h0m0 23.3h0m0 3.1h0m.2-11.4h0m.1 1.3h0m.2 7.4h0m0 .4h0m.2-2.3h0m.1-3.9h0m0 5.2h0m0 .7h0m.1-12h0m0 4.9h0m0 4.3h0m0 1.9h0m.2 2.5h0m.1-3.2h0m.3-10.6h0m0 9.4h0m.2 .6h0m0 2h0m0 .9h0m.2-5.6h0m.1-8.3h0m0 12h0m.1-.1h0m0 1.7h0m0 .2h0m.2-4.7h0m.1 2.4h0m0 .6h0m.4 3.4h0m.2-8.7h0m0 8.1h0m.3-8.5h0m.2 6.1h0m.9 1.1h0m.1-3.3h0m0 1.8h0m0 1.1h0m.1-4h0m0 6.6h0m.1-6.7h0m.1-1.8h0m0 1h0m0 1.2h0m0 4h0m0 1.4h0m.1-1.3h0m0 .2h0m.1 2.1h0m.1-1.9h0m.3-8.1h0m0 6h0m.2-3.3h0m.1 4.1h0m8.4-1.3h0m0 .8h0m.2-.3h0m.2 1.2h0m.2 2.6h0m.2-4.6h0m.2-2.6h0m0 2.7h0m0 4h0m.3-1.8h0m.1 1.1h0m.1-3h0m0 5.3h0m.3-3h0m0 1.3h0m.2-6.1h0m.6 5.6h0m.2 0h0m.1-3.1h0m.1 4.2h0m.1-8.7h0m.5 1.2h0m.2 5.2h0m.1-24.4h0m0 15.8h0m0 8.2h0m.2-13.6h0m.1 14h0m.2-12.9h0m0 10h0m0 3.7h0m.1-1.2h0m.1-16.8h0m.1 10.7h0m.1-3.4h0m0 9.6h0m.1-19.1h0m.1 18h0m.2-2.2h0m.3 4.5h0m.1-9.1h0m0 7.4h0m.1 1.4h0m.2-8.3h0m1.9 6.3h0m7.7 1.9h0m.1-16.4h0m.1 18.2h0m.4-8.4h0m0 4h0m.4-6h0m.1 10.1h0m.1-9.7h0m.2-2.7h0m0 9.7h0m.2 .5h0m.2 2.8h0m.1-2.9h0m0 2.8h0m.2-12.8h0m.1 10.7h0m.2-1.2h0m0 2.1h0m0 .5h0m.2-.3h0m.1-3h0m.2 4.1h0m.1-10.3h0m0 10.4h0m.2-4.1h0m.1 1h0m.1 3.1h0"/>
<path stroke="#222" stroke-width="0.8" fill="none" d="M22.3 196.5V312.3H332.8"/>
<path stroke="#222" stroke-width="0.6" fill="none" d="M20.3 312.3h2M20.3 297.1h2M20.3 281.9h2M20.3 266.7h2M20.3 251.5h2M20.3 236.3h2M20.3 221.1h2M20.3 205.9h2M20.3 196.5h2M22.3 312.3v1.8M71.5 312.3v1.8M120.8 312.3v1.8M170 312.3v1.8M219.3 312.3v1.8M268.5 312.3v1.8M317.8 312.3v1.8M332.8 312.3v1.8"/>
<g font-size="4.6" fill="#222" text-anchor="end" transform="scale(1 1.15)"><text x="18.3" y="273.2">0</text><text x="18.3" y="260">2</text><text x="18.3" y="246.8">4</text><text x="18.3" y="233.6">6</text><text x="18.3" y="220.3">8</text><text x="18.3" y="207.1">10</text><text x="18.3" y="193.9">12</text><text x="18.3" y="180.7">14</text></g>
<path stroke="#f33" stroke-width="0.7" stroke-dasharray="1.6 1.4" d="M22.3 270.5H332.8"/>
<g font-size="4.8" fill="#111" text-anchor="middle" transform="scale(1 1.15)"><text x="34.8" y="279.1">1</text><text x="61.3" y="279.1">2</text><text x="85.3" y="279.1">3</text><text x="105.8" y="279.1">4</text><text x="126" y="279.1">5</text><text x="144.6" y="279.1">6</text><text x="162.8" y="279.1">7</text><text x="179.2" y="279.1">8</text><text x="194.4" y="279.1">9</text><text x="210" y="279.1">10</text><text x="224.1" y="279.1">11</text><text x="239.1" y="279.1">12</text><text x="252.6" y="279.1">13</text><text x="264.2" y="279.1">14</text><text x="275.2" y="279.1">15</text><text x="284.3" y="279.1">16</text><text x="294.3" y="279.1">17</text><text x="302.3" y="279.1">18</text><text x="309.9" y="279.1">19</text><text x="316.8" y="279.1">20</text><text x="322.8" y="279.1">21</text><text x="329.1" y="279.1">22</text></g>
<text x="151.0" y="331.6" font-size="9.3" fill="#111" textLength="51.4" lengthAdjust="spacingAndGlyphs">Chromosome</text>
<text x="164.5" y="188.2" font-size="11.4" fill="#111">Pons</text>
<text transform="translate(0.3 185.2) scale(1 1.17)" font-size="12.4" font-weight="bold" fill="#000">c</text>
<text transform="translate(6.9 255.4) rotate(-90)" text-anchor="middle" font-size="8.7" fill="#111" textLength="50.7" lengthAdjust="spacingAndGlyphs">&#8722;log<tspan font-size="5.2" dy="1.6">10</tspan><tspan dy="-1.6"> </tspan><tspan font-style="italic">P</tspan>value</text>
<path stroke="#0000ff" stroke-width="1.8" stroke-linecap="round" d="M23.5 248.7h0m3.2 16.9h0m15.8-6.1h0m0 8.2h0m34.3-12.7h0m121-20h0m0 14.5h0m2.1-10.9h0m.2-10.6h0m24.9 26h0m70.3-46.8h0m0 16.2h0m0 8.4h0m0 7.9h0m0 4.6h0m0 14.8h0m0 4.6h0"/>
<path stroke="#4682b4" stroke-width="1.8" stroke-linecap="round" d="M71.5 249.3h0m33.3 20.4h0m32.7-52.7h0m4.7 39.6h0m5.5 10.2h0m1.5-15.9h0m93-46.6h0m0 13.3h0m0 6.1h0m0 3.7h0m0 4.1h0m0 .8h0m0 2.7h0m0 4.7h0m0 3.4h0m0 8.2h0m0 7.8h0"/>
<g font-size="4.8" fill="#111" stroke="#111" stroke-width="0.05" transform="scale(1 1.15)"><text x="25" y="218" text-anchor="start">KIF1B</text><text x="35.3" y="224.7" text-anchor="start">RBBP5</text><text x="23" y="230" text-anchor="start">HIVEP3</text><text x="44" y="234.5" text-anchor="start">CNTN2</text><text x="70" y="218.5" text-anchor="end">PAX3</text><text x="78.3" y="223.4" text-anchor="start">ANKRD20</text><text x="94.6" y="233.9" text-anchor="start">HNRNPD</text><text x="136.1" y="190.4" text-anchor="end">BMP6</text><text x="147.7" y="219.9" text-anchor="end">HEY2</text><text x="140.6" y="224.8" text-anchor="end">BMP5</text><text x="145.7" y="233.7" text-anchor="end">SESN1</text><text x="198.8" y="200" text-anchor="end">TRIM32</text><text x="196.4" y="206" text-anchor="end">FAM120A</text><text x="201.5" y="209.2" text-anchor="start">ASTN2</text><text x="196.4" y="218.7" text-anchor="end">PHF2</text><text x="240.3" y="179.3" text-anchor="end">DRAM1</text><text x="240.3" y="190.9" text-anchor="end">GNPTAB</text><text x="240.3" y="196.2" text-anchor="end">PARPBP</text><text x="243.8" y="198.9" text-anchor="start">POLR3B</text><text x="240.3" y="203.7" text-anchor="end">CCDC53</text><text x="243.8" y="203" text-anchor="start">NUP37</text><text x="243.8" y="206" text-anchor="start">IGF1</text><text x="243.8" y="210.1" text-anchor="start">RP11-144F15.1</text><text x="240.3" y="213.1" text-anchor="end">CHPT1</text><text x="225.5" y="220.2" text-anchor="start">CCND1</text><text x="243.8" y="220.2" text-anchor="start">RFX4</text><text x="240.3" y="227" text-anchor="end">TCP11L2</text><text x="243.8" y="227" text-anchor="start">RIC8B</text><text x="293.6" y="210.1" text-anchor="end">SKAP1</text><text x="293.6" y="214.1" text-anchor="end">CDK5RAP3</text><text x="296.8" y="181.9" text-anchor="start">HOXB3</text><text x="296.8" y="196" text-anchor="start">HOXB6</text><text x="296.8" y="203.3" text-anchor="start">HOXB2</text><text x="296.8" y="210.1" text-anchor="start">HOXB1</text><text x="296.8" y="214.1" text-anchor="start">HOXB7</text><text x="296.8" y="227" text-anchor="start">HOXB5</text><text x="296.8" y="231" text-anchor="start">PRR15L</text></g>
<path fill="#4682b4" d="M400.2 312.2L400.2 300.2L400.7 301.2L401.2 300.8L401.7 301.4L402.2 299.7L402.7 300.2L403.2 300.8L403.7 300.9L404.2 300.9L404.7 298.7L405.2 301.1L405.7 301.2L406.2 301.8L406.7 301.6L407.2 301.6L407.7 300.9L408.2 301L408.7 298.7L409.2 301.1L409.7 300.4L410.2 299.5L410.7 299.4L411.2 299.5L411.7 300.6L412.2 300.3L412.7 301.2L413.2 300L413.7 299.3L414.2 299.5L414.7 300L415.2 300.6L415.7 300.2L416.2 300.3L416.7 300.2L417.2 301.4L417.7 301.4L418.2 301.4L418.7 300L419.2 301L419.7 300.4L420.2 301.4L420.7 301.3L421.2 301.8L421.7 300.4L422.2 300.8L422.7 297.9L423.2 300.7L423.7 300.7L424.2 300.9L424.7 300.8L425.2 299.3L425.7 297.5L425.9 298L425.9 312.2ZM448 312.2L448 301.5L448.5 301.3L449 301L449.5 301L450 300.3L450.5 300.9L451 301.1L451.5 301.3L452 300L452.5 300.5L453 300.3L453.5 299.6L454 299.8L454.5 301.2L455 301.1L455.5 301.1L456 300.7L456.5 300.4L457 300.8L457.5 300.1L458 298.6L458.5 300L459 300.5L459.5 301.4L460 300.7L460.5 300.2L461 299.6L461.5 299.8L462 300L462.5 300.5L463 298.1L463.5 300.1L464 300.2L464.5 300.9L465 299.5L465.5 301L466 299.2L466.5 299.6L467 301L467.5 301.1L468 299.8L468.4 301.2L468.4 312.2ZM488.2 312.2L488.2 301.2L488.7 301.3L489.2 300.7L489.7 301.3L490.2 301L490.7 299.4L491.2 299.2L491.7 300.8L492.2 298.4L492.7 300.9L493.2 300L493.7 301.4L494.2 301.3L494.7 301.7L495.2 301.5L495.7 300.7L496.2 300.2L496.7 299.3L497.2 298.3L497.7 300.8L498.2 300.7L498.7 301L499.2 298.7L499.7 299.6L500.2 299.1L500.7 300.7L501.2 299.9L501.7 298.9L502.2 300.4L502.7 300.8L503.2 300.6L503.7 301.4L504.2 301.2L504.7 301.2L505.2 301.3L505.7 300.1L506.2 301L506.5 300.7L506.5 312.2ZM523.1 312.2L523.1 300.1L523.6 300.1L524.1 300.6L524.6 300.3L525.1 299.4L525.6 300.8L526.1 301.3L526.6 301.4L527.1 301.5L527.6 301.8L528.1 301.8L528.6 301.3L529.1 300.7L529.6 299.4L530.1 299.2L530.6 300.5L531.1 299L531.6 300L532.1 299.2L532.6 299.6L533.1 299.5L533.6 300.9L534.1 300.1L534.6 300.2L535.1 299.6L535.6 299.3L536.1 300.7L536.6 301.4L537.1 301.1L537.6 300.7L538.1 298.7L538.6 299.9L538.7 299.6L538.7 312.2ZM555 312.2L555 300.8L555.5 299.2L556 300.6L556.5 300L557 300.4L557.5 300.8L558 300.3L558.5 299.7L559 300.8L559.5 299.1L560 300.5L560.5 300.5L561 301.6L561.5 301.2L562 301.6L562.5 301.3L563 301.6L563.5 300.7L564 301.3L564.5 300.3L565 300.6L565.5 301.1L566 300.6L566.5 301.3L567 300.4L567.5 300.9L568 299.7L568.5 298.3L568.9 298.1L568.9 312.2ZM584.5 312.2L584.5 299.3L585 299L585.5 299.6L586 298.7L586.5 300.6L587 298.6L587.5 299.4L588 298.6L588.5 298.6L589 297.3L589.5 299.1L590 298.4L590.5 300.3L591 300.8L591.5 300L592 301L592.5 301.4L593 301.6L593.5 300.5L594 301.1L594.5 300.8L595 300.8L595.5 301.1L596 300.8L596.5 300.1L597 299.8L597.5 300.9L598 301.3L598.5 300.1L599 301L599.4 300.5L599.4 312.2ZM612.5 312.2L612.5 300.1L613 298.7L613.5 299.8L614 297.6L614.5 297.7L615 298.8L615.5 299.2L616 300L616.5 300L617 300.4L617.5 300.7L618 300.7L618.5 300.4L619 298.4L619.5 297.3L620 299.9L620.5 298.8L621 300.1L621.5 297.9L621.9 300.4L621.9 312.2ZM632.6 312.2L632.6 300.7L633.1 299.2L633.6 300.4L634.1 299.6L634.6 299.9L635.1 300.2L635.6 299.8L636.1 300.6L636.6 300.8L637.1 300.9L637.6 300.3L638.1 300.8L638.6 301.2L639.1 300.1L639.6 299.9L640.1 298.9L640.6 298L641.1 297.8L641.6 298.5L642.1 299.4L642.4 300.8L642.4 312.2ZM651.9 312.2L651.9 300.9L652.4 300.2L652.9 300.5L653.4 299.9L653.9 299.8L654.4 299.3L654.9 299.8L655.4 299.3L655.9 300.1L656.4 300.5L656.9 301.2L657.4 301.5L657.9 300.5L658.4 300.4L658.9 298.7L659.3 300.6L659.3 312.2ZM666.3 312.2L666.3 300L666.8 301L667.3 301L667.8 299.7L668.3 301.2L668.8 300.5L669.3 299.5L669.8 299.9L670.3 301L670.8 299.6L671.3 300.4L671.8 300.6L672.3 299.7L672.8 300.2L673.3 299.8L673.8 300.4L673.8 300.2L673.8 312.2ZM680 312.2L680 298.3L680.5 299L681 297.5L681.5 297.8L682 295.9L682.5 296.3L683 295.3L683.5 296.1L684 298.5L684.2 299.1L684.2 312.2Z"/>
<path fill="#0000ff" d="M374.5 312.2L374.5 293.9L375 290.6L375.5 292.1L376 291.7L376.5 292.9L377 292.6L377.5 292.7L378 292.8L378.5 294L379 293.6L379.5 293.9L380 294.9L380.5 294.2L381 292.9L381.5 294.7L382 291.6L382.5 294.7L383 294.9L383.5 294.3L384 293.6L384.5 292.5L385 294.7L385.5 291.4L386 294.3L386.5 290.6L387 294.6L387 312.2ZM388 312.2L388 294L388.5 290L389 290.2L389.5 291.6L390 288.9L390.5 290.6L391 292.7L391.5 292L392 288.5L392.5 293.4L393 293.8L393.5 293.6L394 292.3L394.5 292.1L395 292.5L395.5 294.4L396 294.6L396.5 293.7L397 294.9L397.5 294L398 294.3L398.5 292.5L399 294.3L399.5 293.3L399.6 293.3L399.6 312.2ZM426.5 312.2L426.5 296.4L427 294.5L427.5 294.6L428 294.2L428.5 295.8L429 295L429.5 294.7L430 292.3L430.5 293.3L431 293.9L431.5 295.9L432 294.5L432.5 296.1L433 292.9L433.5 294.7L434 295.8L434.5 296.1L435 296.9L435.5 294.7L436 296L436.5 296.3L437 297.2L437.5 296.6L438 296.1L438.5 295.9L439 296.6L439.5 296.6L440 295.9L440.5 292.9L441 293.8L441.5 294.7L442 295.9L442.5 295.8L443 295.8L443.5 294.1L444 292.2L444.5 289.5L445 293.7L445.5 292.1L446 295.2L446.5 294.3L447 294.6L447.4 292.1L447.4 312.2ZM469 312.2L469 296.3L469.5 295.9L470 294.3L470.5 296.8L471 296.7L471.5 297.3L472 297L472.5 296.6L473 292.8L473.5 298.5L474 296.6L474.5 297.9L475 295.1L475.5 296.3L476 296.5L476.5 296.4L477 296.9L477.5 296.5L478 296.4L478.5 298.7L479 298L479.5 298.9L480 298.7L480.5 295.9L481 297.8L481.5 297.8L482 297.5L482.5 297.4L483 297.8L483.5 297.5L484 298.3L484.5 295.1L485 298.6L485.5 295.2L486 298.7L486.5 296L487 297L487.5 295.8L487.6 297.1L487.6 312.2ZM507.1 312.2L507.1 292.9L507.6 296.1L508.1 293.6L508.6 295.5L509.1 290.2L509.6 290.2L510.1 294L510.6 296.4L511.1 297.4L511.6 297.5L512.1 296.1L512.6 296.5L513.1 294.1L513.6 293.8L514.1 295.1L514.6 296.4L515.1 292.3L515.6 294.6L516.1 293L516.6 295.8L517.1 296.4L517.6 294.6L518.1 295.7L518.6 296.9L519.1 294.9L519.6 297.6L520.1 295.3L520.6 297.6L521.1 294.7L521.6 296.8L522.1 296.1L522.5 292.4L522.5 312.2ZM539.3 312.2L539.3 291.8L539.8 296.8L540.3 295.3L540.8 296.8L541.3 298.1L541.8 295.8L542.3 298.5L542.8 296.4L543.3 297.9L543.8 295.3L544.3 297.1L544.8 298L544.8 312.2ZM546.8 312.2L546.8 295.7L547.3 297.8L547.8 296.7L548.3 298L548.8 298.3L549.3 298.1L549.8 297.2L550.3 294.3L550.8 294.3L551.3 296L551.8 295.5L552.3 294.3L552.8 296.2L553.3 297L553.8 295.6L554.3 295.3L554.4 297.2L554.4 312.2ZM569.5 312.2L569.5 294.9L570 292L570.5 293.5L571 295.2L571.5 295.4L572 294.6L572.5 294.3L573 295.5L573.5 294.6L574 293.7L574.5 295.1L575 293.1L575.5 294.2L576 295.6L576.5 296.4L577 296.5L577.5 295.7L578 293.6L578.5 289.7L579 291.7L579.5 289.4L580 292.2L580.5 291.7L581 291L581.5 291.5L582 292.8L582.5 293.1L583 293.6L583.5 290.2L583.9 290.6L583.9 312.2ZM600.5 312.2L600.5 301.4L601 299.3L601.5 298.7L602 295.9L602.5 300.6L603 301.3L603.5 301.4L604 302.1L604.5 301.6L605 300.2L605.5 301.4L606 300.9L606.5 298.5L607 301L607.5 300.8L608 299.9L608.5 299.3L609 297.8L609.5 300.2L610 300.7L610.3 300.4L610.3 312.2ZM624.6 312.2L624.6 293.1L625.1 293.3L625.6 294.7L626.1 292.7L626.6 295.1L627.1 294.9L627.6 295.7L628.1 296.4L628.6 295.7L629.1 296.2L629.6 296L630.1 294.4L630.6 295.7L631.1 296.2L631.6 295.8L632 296.3L632 312.2ZM643 312.2L643 289.6L643.5 289.9L644 290.9L644.5 291.9L645 290.7L645.5 291L646 291.3L646.5 288L647 291.4L647.5 290.4L648 290.9L648.5 291.6L649 291.6L649.5 289.6L650 288.6L650.5 289.7L651 289.6L651.3 290.1L651.3 312.2ZM659.9 312.2L659.9 293L660.4 292.3L660.9 291.7L661.4 291.6L661.9 289.9L662.4 292.9L662.9 288L663.4 293.1L663.9 291.3L664.4 291.9L664.9 290.6L665.4 292.6L665.7 294.4L665.7 312.2ZM675.5 312.2L675.5 296.4L676 295.4L676.5 296L677 293.7L677.5 292.2L678 291.8L678.5 295.6L678.6 295.6L678.6 312.2Z"/>
<path stroke="#fff" stroke-width="0.9" stroke-linecap="round" fill="none" opacity="0.85" d="M375.2 296.2h0m6.2 0h0m2.5-1.5h0m1.4 1.3h0m.5 .4h0m2.8-2h0m9.9 3.8h0m.9 .2h0m1.3 6.2h0m.7-2.5h0m1-1.7h0m.3 3.2h0m1.1-1.5h0m.2 .5h0m0 3.3h0m2-2.1h0m.7-.6h0m.8 2.3h0m1.4-2.5h0m3.2 .2h0m.5 .2h0m1.5 2.2h0m.9-.6h0m4.4 1.2h0m.4-3.6h0m.8 .7h0m.4-.1h0m5.1-1h0m.3 .4h0m6.1 .5h0m2.5-3.4h0m9.6-3.2h0m2.8 3.6h0m.2-6.7h0m1.2 8.7h0m.6-.2h0m1.5 2.3h0m1.6-3h0m.7 4h0m.3-1.6h0m1.3-.6h0m1.9-1.8h0m2.2 1.8h0m.4 .1h0m1.4 2h0m.2 .6h0m4.2-5.4h0m.9 .7h0m.7 2.4h0m1.6 0h0m1.6-2.3h0m2 .7h0m2-4.1h0m3.3 1.7h0m4.7-.3h0m7.2 2.4h0m.1-.2h0m3.5 1.1h0m.2 1h0m.3 .1h0m.8 .2h0m.3-.4h0m.9-.5h0m4.4-1.1h0m3 1.9h0m2.1-.1h0m.5-1.1h0m.9 3.1h0m.3-3.3h0m1.4-.7h0m5.9-2.6h0m3.7 2.2h0m4-3.7h0m4 8.1h0m.7-2.8h0m.1 2.6h0m.4-3.2h0m2.3 .5h0m2.4-.6h0m.2 .1h0m.3-.1h0m0 .6h0m4.7-.4h0m0 3h0m2.4-4.3h0m5.8 3.1h0m3.5-1.5h0m1.8-6.9h0m4.5 1.4h0m2.7 4.7h0m.2 1.6h0m.7-1.7h0m.1-.4h0m1.6 2.8h0m1.3 .5h0m1.1-2.2h0m.8 1h0m.1-.3h0m1.3-1.6h0m0 3.5h0m12.5-7.6h0m.1 .9h0m2.1-4h0m2 5.1h0m3.3 5.8h0m.9-2.3h0m.4 .4h0m1.5 .3h0m1.6-2.2h0m.3-2.2h0m1.8 3.2h0m.5 2.1h0m.6-1.9h0m1 1.4h0m5.4-1.1h0m4.7 2.4h0m1.6-.4h0m5.4-1.3h0m2.8-1.5h0m.3-2.4h0m1.6 1.2h0m.2 1.9h0m.2 2.3h0m1.2-.1h0m4.8-2.9h0m3.2-7.9h0m7.7 4.8h0m2.4 2.5h0m1.8 2.3h0m.1-.4h0m1.1-1.3h0m2.9-.9h0m1.9 .9h0m.2-.1h0m1.8-5.5h0m7.2-3.1h0m3.1 7h0m.2 2.1h0m.2-1.8h0m1.8 5.5h0m2.1-4.5h0m6.6-5.3h0m1.9 8.6h0m1.3-1.2h0m.9 .8h0m.6 .2h0m.8-1.9h0m2.5-.8h0m7.2-.2h0m.7-2.1h0m1.2 2.9h0"/>
<path stroke="#4682b4" stroke-width="1.5" stroke-linecap="round" fill="none" d="M400.1 292.8h0m.2 7h0m.1-.7h0m.4 2.2h0m.5 .1h0m.1-5.6h0m0 5.8h0m.2-.5h0m.3-4h0m.2-2.9h0m0 4.2h0m.2 1.2h0m.1-.4h0m.1 1.2h0m.1-.5h0m.2-4h0m0 3.4h0m.2 2.1h0m.1-9.6h0m0 2.7h0m0 7h0m.2-10h0m.1 8h0m.4-3.3h0m.2 4.1h0m.1-2.2h0m.1-3.7h0m0 4.8h0m.1 2.3h0m.2-6.4h0m.1 2.3h0m.4 .9h0m.1-2.2h0m.1 3.5h0m.1-5h0m0 5.6h0m.3-1.8h0m0 1.5h0m.1-.7h0m0 1.2h0m0 .9h0m.1-7.6h0m0 8.3h0m.1-14.3h0m0 7.1h0m0 4.7h0m.2-3h0m.1 1.2h0m0 2h0m.2-3.4h0m0 5.6h0m.1-.7h0m.2-.4h0m.1-1.5h0m.2-23.2h0m.4 15.2h0m0 6.9h0m.1-18.6h0m0 19.6h0m.1-19.9h0m0 8.1h0m0 7.9h0m0 2.9h0m.3 .7h0m.1-23.1h0m.2 15.7h0m0 9.6h0m.3-3.7h0m.1 .3h0m.1 1.8h0m.1-4.8h0m.1-10.4h0m.1 11.8h0m0 5.6h0m.2-4.2h0m.1 .3h0m0 4.3h0m.1-4h0m.1 .1h0m0 2.2h0m.1-6.5h0m.1 4.2h0m.1-7.7h0m0 9.3h0m.3-1h0m.1-2h0m0 3.9h0m.2-9.8h0m.1 4.4h0m.4 5h0m.3-1.8h0m.1 1.1h0m.1-1h0m.1-3.6h0m0 .8h0m.4-3.6h0m0 2.4h0m.2 6.7h0m.4-3.7h0m0 4.6h0m.1 0h0m.1-15.1h0m0 12.2h0m0 2.8h0m.1-1.1h0m.1-11.1h0m0 7.6h0m.1-1.5h0m0 3.6h0m.1 .8h0m.2-2.3h0m.1-5.7h0m.1-4.9h0m0 6h0m.3 6.8h0m.2-4.9h0m0 3.8h0m.4-9.8h0m.2 7.8h0m0 .2h0m.5 1.7h0m0 .3h0m0 1.4h0m.2-6.1h0m.1-7h0m0 12.8h0m.1-1h0m.1 .5h0m.1-8.2h0m.2 1.3h0m0 5.3h0m.1-9h0m0 11.3h0m.1-17h0m.1 15.8h0m.2-10.8h0m0 9.1h0m.2-2.1h0m.1 5.1h0m.1-8.6h0m0 6.9h0m.1-1h0m.1 2.2h0m0 1.2h0m.1-.6h0m0 .1h0m.2 .7h0m.2-.6h0m.1-3.2h0m.1 3.8h0m.1 .4h0m0 .4h0m.2-9h0m.3 3.4h0m.1 3.4h0m.1-3.8h0m0 4.1h0m.1-2.9h0m.4-10.7h0m.1 9.1h0m.3 3.1h0m.1-5.1h0m.1 2.4h0m.1-.8h0m0 5.4h0m.1-2h0m.2-1.6h0m.1 5h0m.2-2.6h0m.2-3.4h0m0 2.5h0m.1-2.3h0m.3-9.5h0m0 8.9h0m0 .1h0m0 2h0m0 1.6h0m.1-16.4h0m0 15.4h0m.2 1.8h0m.1 2.1h0m.1-16.6h0m0 4.1h0m.1-.2h0m.1 4.9h0m0 4.2h0m.4-.9h0m.1-5.2h0m0 5h0m.2 2.8h0m0 .5h0m.2-5.7h0m.2-3.9h0m0 5.1h0m0 .8h0m0 1.3h0m.1-11.1h0m.2 10.3h0m.1-1.8h0m0 5.2h0m.2-4.8h0m.3 .3h0m0 4.7h0m.1-2h0m.5-30.8h0m0 28.6h0m.1 2.4h0m.1-11.9h0m0 11.7h0m.1-4.4h0m0 3.9h0m0 1.1h0m.1-8.1h0m.1-18.9h0m0 15.4h0m.2-33.2h0m0 9.7h0m.1 28.9h0m0 4.8h0m.1-10.5h0m.1 3.4h0m0 1.5h0m.3 4.4h0m.1-15.4h0m0 7.8h0m0 1.5h0m0 4.8h0m0 .8h0m.1-1.8h0m.1-11.5h0m0 3.2h0m0 11.6h0m.1-.8h0m.3-.7h0m.6-12.7h0m.2 9.9h0m20.9-11.5h0m.1 18.3h0m.2-11.6h0m0 10.4h0m.1-13.2h0m.2 9.6h0m.1-1.6h0m0 7.6h0m.4-7.5h0m0 3.2h0m.3-3.1h0m.1 6h0m.1-3.6h0m.1-5.7h0m0 1.1h0m.2 8.3h0m.1 .3h0m.2-5.2h0m.2-5.1h0m0 7.3h0m.1-18.7h0m.2 14.9h0m.8 5.9h0m.3 1.8h0m.1-3.8h0m.2-8.3h0m0 9.9h0m.3-1h0m.1-30.4h0m0 6.5h0m.1 26.5h0m.1-8.3h0m0 2h0m.2-1.9h0m.1-.7h0m.2 7.6h0m.1-1h0m.1-6.3h0m.1 1.9h0m.1 4.1h0m.6-3.1h0m.2-1.3h0m0 5.2h0m.1-4.1h0m.1 4.8h0m.3-1.8h0m.2-15.1h0m0 2.8h0m0 4.2h0m.2 5.2h0m.2-1.4h0m0 1.7h0m.1-21.4h0m0 24.3h0m.1-2.1h0m0 4.5h0m.1-18.7h0m0 16.1h0m.1-6.8h0m.1-6.6h0m0 13.2h0m0 2.2h0m.2-18.2h0m.1 15.6h0m.2-2.4h0m0 2.1h0m.1 3.1h0m0 .3h0m.1-2.6h0m.1-.7h0m0 3.3h0m.1-26.3h0m0 21.4h0m0 .3h0m.1 4.7h0m.1-1.2h0m.3 .2h0m0 .4h0m.2-4.2h0m.2-5.8h0m.1-6.3h0m0 7.9h0m0 4.9h0m.1-4.2h0m0 4.7h0m0 1.4h0m.1-6.1h0m.1-.4h0m0 6.9h0m.2-2.4h0m.2-5h0m0 7.3h0m.2-.5h0m0 1.8h0m.1-7.3h0m0 7h0m.1 .1h0m.1-2.6h0m.1 3h0m.1-7.7h0m0 3.5h0m.3 .6h0m0 3.6h0m.2-7.1h0m0 6.6h0m.1 .5h0m.3-7.9h0m.1 4.1h0m.2-3.3h0m0 4.9h0m.1-3.6h0m0 1.6h0m0 .5h0m.1-17h0m.1 16.5h0m0 2h0m0 1.9h0m0 .1h0m.2-26.1h0m0 2.5h0m0 21.2h0m.1-1.2h0m.4-.9h0m.4 3.7h0m.1-4.3h0m0 .1h0m.1-15.5h0m0 18.3h0m.1-5.2h0m.1 7.3h0m.1-2.3h0m0 1.1h0m.3-1.4h0m0 1.4h0m0 1.8h0m.1-12.3h0m.4 10.1h0m.2-.5h0m.1-4.2h0m0 3.1h0m0 1.6h0m.4 1h0m0 .3h0m.1-6.9h0m0 5.7h0m.1-2.3h0m.1-5.5h0m.1 7.3h0m.2 1.7h0m0 1h0m.1-6.5h0m.2 3.1h0m0 3.2h0m.1 .5h0m.1-2.4h0m.5 1.6h0m.3-9.8h0m0 7.5h0m.1-6.1h0m0 5.5h0m.2 1.9h0m.1-1h0m.2-9.1h0m0 5.6h0m.2 1.4h0m.1-1.2h0m.1 2.8h0m.1-4.9h0m0 .4h0m.1-8.1h0m0 15.8h0m.2 .4h0m.1-1.2h0m.4-4.8h0m0 2.1h0m.1-3.4h0m0 6.6h0m.4-1.2h0m.1-6.2h0m0 7.1h0m.1-4.6h0m0 5h0m.3-7.3h0m19.5 6.2h0m.1-9.6h0m.3 9.9h0m.1-11.8h0m0 8.9h0m.1-.4h0m0 3h0m.3 1h0m.2-2.5h0m.2 2.1h0m.1-16.3h0m0 6.6h0m0 3.4h0m0 4.7h0m.1-1h0m0 1.2h0m0 1.3h0m0 .3h0m0 .2h0m.3-5.6h0m.2-1.8h0m0 7.2h0m.1-3.1h0m.1-.6h0m.1-1.2h0m.1 3.6h0m.1-7.3h0m0 5.7h0m.3 .8h0m.1-20.1h0m.1 20.1h0m.3 .6h0m.1-3.4h0m.6-3.4h0m0 6.3h0m.1 .3h0m.1-18.3h0m0 13h0m0 1.8h0m0 1h0m.2 5.1h0m.2-5.2h0m.1 2h0m.4 .2h0m.5-10.1h0m.2-8.8h0m0 19.5h0m.5-.3h0m0 .5h0m.2-8.2h0m0 .2h0m0 5.6h0m.1 5.4h0m.1-14.2h0m.1 6.3h0m.1 5.7h0m0 .8h0m.4-4.9h0m.3 4.4h0m.1-.5h0m0 .2h0m.2-1.8h0m0 2h0m.2-.5h0m.1-2.2h0m.1-9.2h0m0 8.3h0m0 2.8h0m.2-8.1h0m0 4.2h0m.3-5.7h0m.1 4.1h0m.1-1.9h0m0 3.2h0m.1-9.7h0m.3 11.1h0m0 .6h0m.1-8.3h0m.2 .8h0m0 9.8h0m.1 1.7h0m.2-1.2h0m.3-.4h0m.2-9.2h0m0 5.4h0m.1-2.8h0m0 7h0m.1-.2h0m.1-2.8h0m0 1.3h0m0 3h0m.1-9.2h0m0 3.6h0m0 1.8h0m.1-10.9h0m0 3.3h0m0 5.2h0m.3-11.7h0m.1 11.2h0m.3-6.1h0m.1 10.6h0m.1-9.1h0m.2 7.4h0m.4-.5h0m0 .2h0m.3 3.1h0m.1-5.2h0m.1 3.2h0m.1-7.4h0m.1 7.6h0m.1-18.1h0m.1 17h0m.1-2.2h0m0 2.1h0m.1-2.7h0m.1-1h0m0 5.7h0m.2-.7h0m.4 .1h0m.2-2.5h0m.1 5h0m.1-7.5h0m0 5.4h0m.1-38.9h0m0 34.4h0m.1 .5h0m0 3h0m.1-33.9h0m.2 4.8h0m0 13.5h0m.1-12h0m0 27.8h0m.1-16.6h0m0 16.1h0m.2-14.5h0m.2 12h0m.1 4.5h0m.1 .7h0m.1-7.1h0m0 3.3h0m.2-13.7h0m0 3.4h0m0 13h0m.2-.3h0m.3-1.1h0m.3-21.3h0m0 23.6h0m.2-2.8h0m0 3.5h0m.3-16.9h0m0 .8h0m0 11.7h0m0 3.1h0m0 .7h0m.1-3.5h0m.1-8.5h0m.1 12.3h0m.3-.9h0m.1-2h0m0 .2h0m0 3.4h0m.1-3.9h0m.1 .5h0m16.5-.6h0m.7-.6h0m.1-.6h0m0 1.4h0m0 2h0m.2-4.8h0m0 5.5h0m.3-11.1h0m.1 9h0m0 .9h0m.1-2h0m.2-19.6h0m0 14.3h0m.1-4.5h0m.2 5h0m0 1.8h0m.6 5.7h0m.1-14.6h0m.1-13.4h0m0 23h0m.1-20.6h0m0 22.7h0m.2-7.8h0m.1-3.3h0m0 .5h0m0 10.4h0m.1 3.1h0m.1 .6h0m0 1h0m.1-1.7h0m.1-6.9h0m0 8.3h0m.2-21h0m.1 13h0m0 3.7h0m.4 2.9h0m0 2.3h0m.1-3.5h0m.1-8.3h0m.4 1.5h0m0 5.1h0m0 3.2h0m.3-.6h0m.2-4.7h0m.1 2.2h0m0 1.6h0m.2-1.4h0m.2-2.7h0m0 3.2h0m.2 1.7h0m.1-8.3h0m.2 7.4h0m.1-3.5h0m.1-11.3h0m.3 13.5h0m.4 1.9h0m.1-2.6h0m0 2.2h0m0 1.3h0m.1-2.7h0m0 2.4h0m.6-6.9h0m.1-8h0m0 12.5h0m.3-1.9h0m0 2.1h0m.1-3.5h0m.1-2.5h0m0 4h0m0 1.2h0m.3-2.2h0m.1 .3h0m.1 2.7h0m.1 1h0m.1-2.6h0m0 3.6h0m.2-.8h0m0 .4h0m.2 .9h0m.2-2.8h0m.3 1h0m.1-8.2h0m.1 9.6h0m.1-.8h0m.2-7.3h0m0 2h0m0 4.1h0m.2 2.6h0m.1-2.2h0m0 .4h0m0 .6h0m.3-.8h0m0 2.5h0m.2-10.7h0m.2 2.3h0m0 6h0m.1 .4h0m.1 1.3h0m.1-4.2h0m.2-.6h0m0 4.3h0m.1-.7h0m0 .7h0m.1-1h0m.1 1.4h0m.1-1.9h0m.1 .4h0m.1-.8h0m.3 1h0m.2 1.1h0m0 2.3h0m.6-4.5h0m0 2.1h0m.3-9h0m0 6.4h0m.1-13.9h0m0 17h0m.1-7.1h0m0 7.6h0m.2-.6h0m.2-5.6h0m0 2.1h0m.1-7.9h0m0 10.2h0m.1-.7h0m.2 1.3h0m.1-9.1h0m0 4.4h0m0 4.2h0m.1-17.2h0m0 14.3h0m.2-6.2h0m.1 5.4h0m15.7-4.9h0m.2-3.4h0m0 4.1h0m.1 6.2h0m.1-.3h0m.1 4.1h0m.2-17.8h0m0 9.7h0m0 6.1h0m0 .2h0m.1-3h0m.1-2.2h0m.1-25.1h0m0 13.4h0m.1 13.4h0m.2-2.3h0m0 5.3h0m.3-2.4h0m0 2.9h0m.1-20.4h0m0 15h0m.1-20h0m.1 23.9h0m.2-5.5h0m.2 8.6h0m.3-5.9h0m.1-.7h0m0 2.6h0m.2-5.9h0m0 5.9h0m0 .8h0m.1 1.8h0m.1-11.3h0m.1 2.3h0m0 2.7h0m.3 5h0m.2-2.8h0m0 .4h0m.1-3.5h0m0 7.6h0m.1-.7h0m.1 1.3h0m.1-4.9h0m0 1.2h0m0 2.8h0m.3 .7h0m.1 1.1h0m.2-4.1h0m.1-1.5h0m0 1.9h0m0 .9h0m.5-12.5h0m0 9.1h0m.3 3h0m.2 0h0m.1-2.9h0m.1-2h0m.1-2.2h0m0 7.3h0m.1-20.9h0m0 13.6h0m0 8.2h0m0 1.5h0m0 1.5h0m.1-1.6h0m.3-26h0m0 27.1h0m.1-5.8h0m0 .6h0m.1 5.2h0m.1-1h0m.2-1h0m0 1.6h0m.2-34.5h0m.5 20.6h0m0 5.2h0m.1-24h0m.2 23.9h0m0 3.1h0m.1 3.1h0m.1 1.9h0m.1-12.5h0m0 13.2h0m.1-23.3h0m0 14.6h0m0 8.5h0m.2-31h0m0 25.4h0m0 2.9h0m.1-.7h0m.2-4.2h0m0 1.1h0m0 2.2h0m0 3.6h0m.1-5.6h0m.1 6.9h0m.2-12.2h0m0 9.1h0m0 2.5h0m.2-9.9h0m.1 7.1h0m.1 2h0m.1-1.1h0m.4-8.3h0m.1 8.7h0m.2-1.9h0m.2-1.2h0m.1 3.7h0m.1-1.3h0m.1 .3h0m.2-.4h0m.1-2.5h0m.1 3h0m0 .6h0m.2-6.3h0m0 8h0m.2-.2h0m.2-16.7h0m.1 10.6h0m.3-5.3h0m0 9.6h0m.1 .8h0m.1-1.8h0m.6 1.6h0m.1-11.9h0m0 8.5h0m.2 1h0m0 .9h0m.1 0h0m.1-13.9h0m.1 10.2h0m.1-13h0m0 12.4h0m.4 2h0m14.8-28h0m.4-2.1h0m.3-2.6h0m0 31.3h0m0 1.7h0m.1-1.4h0m0 .1h0m0 .7h0m.2-24.9h0m0 23.8h0m.1 4.1h0m.1-37.7h0m0 33.6h0m.1 2.8h0m.3-5h0m0 3h0m.1-8.3h0m0 12h0m.1-1.6h0m.1 1.8h0m.1-30.2h0m0 22.1h0m0 .4h0m0 6.9h0m.2-5.9h0m.1-6h0m.4 12.8h0m.2 1.4h0m.1-5.4h0m.1-3.7h0m0 6.3h0m.1-2.1h0m.1-1.5h0m.1 2.5h0m.2-5.5h0m.1 4.2h0m.1-2.5h0m.2 3.4h0m.1 2h0m.1-5.5h0m.1 2.5h0m.2-.1h0m.2-10.2h0m.2 7.4h0m.1-5h0m0 5.1h0m.1-.8h0m.3-2.5h0m.1 7.5h0m.3-1h0m.2-5.4h0m0 4.5h0m0 3.6h0m.9-5.8h0m0 6.3h0m0 .1h0m0 1.1h0m.1-28h0m.1 22.5h0m.4 4.2h0m.2 0h0m.2-4.9h0m0 1.6h0m.1 4.8h0m.2-4.5h0m.1 2.5h0m.2-12.7h0m.1 10.8h0m.1 4.6h0m.1-13.1h0m.1 9.3h0m0 1.8h0m0 .2h0m0 .3h0m.2-3.5h0m.1 2.5h0m.1-.6h0m0 3.4h0m.3-1.4h0m.1-5h0m0 3.4h0m.2 1.6h0m.2-5.1h0m.1-2.2h0m0 7.3h0m0 1.2h0m.1-13h0m.2 .3h0m.2-1.3h0m0 11.4h0m.1-24.3h0m0 1.7h0m0 21.8h0m0 2.1h0m.1-23.1h0m.1 19.2h0m.1-2.2h0m.1-34h0m.2 39.4h0m.1-36.3h0m0 3.9h0m.2 2.6h0m0 26.2h0m0 1.3h0m0 4.4h0m.3-3.4h0m.1-5.2h0m.2-19.3h0m.1 25.6h0m0 1.5h0m.4-12.8h0m.2 10.2h0m.1 .8h0m.3 1.5h0m0 .1h0m.1-2.7h0m.1-8.5h0m.1 3.9h0m0 5.9h0m.2-3.7h0m0 .7h0m.3 1.9h0m0 3.5h0m.1-12h0m0 .9h0m0 9.2h0m.3-4.1h0m.3 4.6h0m.1 .5h0m.1-12.9h0m0 5h0m0 7.7h0m.1-7.4h0m.1 5.6h0m0 1.1h0m0 1.6h0m.1-1.4h0m.1-3.8h0m.1-2.9h0m.1 1.9h0m0 3.5h0m.1-6.5h0m12.7 .2h0m.1 5.3h0m0 .8h0m.1 1.2h0m0 .5h0m.2-1.5h0m.1-.2h0m.1-11.4h0m0 10.8h0m.3 .8h0m.1-1h0m0 2.5h0m.1-3.8h0m.2-1.6h0m0 3.2h0m0 2.1h0m.1-6.1h0m0 2.1h0m.2-.7h0m.3 1.2h0m0 1.4h0m.1-1.9h0m.2-1.6h0m0 2.4h0m0 .4h0m.1-6.7h0m0 7.1h0m.1-.5h0m.1-1h0m.1 .1h0m.1 .7h0m.3-.8h0m.1 2h0m.1-1.3h0m0 1.8h0m.2-7.1h0m.1 5.2h0m0 .1h0m.1-14.8h0m0 17.9h0m.1-4h0m0 3.7h0m.1-1.6h0m0 2.2h0m.3-3.6h0m0 2.5h0m.1-15.1h0m0 3.6h0m0 8.6h0m.1-6.6h0m.3-15h0m.1-.6h0m0 18.3h0m.1 1.3h0m0 1.8h0m.2-20.9h0m.1 22.9h0m.1 2.1h0m.1-16.3h0m.5-3.4h0m.3 17.3h0m.1 3.2h0m.1-10.6h0m.2 6.1h0m.2-1h0m0 2h0m0 1.2h0m.3-.5h0m.2 0h0m.1-.6h0m.2 3.3h0m.1-6.9h0m.3 6.5h0m.1-1.1h0m.2-4.1h0m.1-.3h0m.3 3.2h0m.4-1.2h0m.3-4.9h0m0 6.6h0m.1 .1h0m.1-7.1h0m.2 .4h0m.1 6.2h0m10.2-10.8h0m.2 14.2h0m.1-3.8h0m.1 .5h0m0 3.3h0m.1-3h0m.1-6.9h0m.1 4.8h0m.1 .4h0m.1-.6h0m.1-18.1h0m0 12.8h0m.5-18h0m0 25.8h0m.1 1.1h0m.1-30.7h0m.1 4.9h0m.2 21.1h0m.1 2.9h0m0 1.6h0m.1-10h0m0 10.4h0m.1-1.9h0m.4 1.5h0m.1-14.1h0m.1 10h0m0 4.7h0m.3-10.3h0m.2 9.9h0m.2-12.9h0m0 7.9h0m0 6h0m.1-6.5h0m.1-.4h0m.4-5.4h0m0 6.5h0m0 3.7h0m.2 2.1h0m0 .7h0m.1-5.2h0m0 3h0m.2-8.4h0m.1 5.8h0m.1 .8h0m.3-3.9h0m.1 1.6h0m.2-6.4h0m0 8h0m.1-8h0m.1 9h0m0 3.6h0m.1-4.8h0m.1-1.7h0m0 1.2h0m0 .8h0m.1-2.4h0m0 .6h0m0 3.8h0m.2-4.1h0m.1 6.5h0m.2-2.5h0m.1-2.4h0m0 .3h0m.1 0h0m.4 2.9h0m.3 .6h0m.2-2.5h0m.1-3.9h0m.1 3.8h0m.2-2.7h0m0 .7h0m.1 1.3h0m0 1h0m.2-4.5h0m0 1.3h0m.2-3.4h0m0 7.5h0m.1-3.6h0m0 .2h0m0 1.9h0m.1 1h0m.1 0h0m.1-2.3h0m0 1.8h0m.2-.9h0m0 .6h0m.2-3.4h0m0 3.7h0m.2 .8h0m.2-2h0m0 2h0m.1 0h0m.2-1.8h0m9.4 2.4h0m.1-7.2h0m0 7.1h0m.1-2.9h0m.2 2.8h0m.1-1.9h0m.1 3.2h0m.2-1.7h0m.1 1.3h0m.2-2.7h0m.2-.3h0m0 2.5h0m.1-.2h0m.2 .5h0m.1-7.7h0m.3-8.6h0m.1 12h0m0 4.1h0m.1-4.8h0m.1-9.1h0m0 3.1h0m.1 11.1h0m.2-5.2h0m.1-9h0m.1-2.1h0m.2 16h0m.1-.8h0m.2-27.4h0m0 6.6h0m0 20h0m.1-8.9h0m.2 10.6h0m.1-8.1h0m.1 3.9h0m.2-15.4h0m0 14.7h0m0 4.9h0m.1-4.8h0m.2-.6h0m0 1.9h0m.1 3.4h0m.6-.8h0m0 .9h0m.1-3.3h0m0 1.2h0m.2-5.7h0m.1 .3h0m.1-.2h0m0 9h0m.1-2h0m.4-3h0m0 3h0m.1-29.6h0m0 30.5h0m.1-1.8h0m.3-5.9h0m.1 7.2h0m.1-11.4h0m.2-3.6h0m.2 13.6h0m.1 .3h0m0 .2h0m.2-6h0m0 3.1h0m0 1.8h0m0 3.9h0m.3-1.1h0m.1-3.2h0m0 2.7h0m6.6-.3h0m.4-1.9h0m0 1.8h0m0 1h0m.1 1.1h0m.1-7.5h0m.1-1.8h0m0 1.9h0m0 3.8h0m0 4h0m.4-.2h0m.2-5.1h0m.3-5.3h0m0 7.9h0m.1-4h0m0 4.8h0m.1-7.4h0m.2 8h0m.1-3.4h0m0 .6h0m0 3.6h0m0 .6h0m.1-1.1h0m.1 0h0m.1-2.5h0m0 2h0m.1-8.3h0m0 7.1h0m.1-7.2h0m0 8.6h0m.1-.2h0m.1-.1h0m0 1.1h0m.4-6.5h0m.3 .2h0m.2 5.3h0m.1-22.5h0m0 16.4h0m0 6.1h0m.1-24.6h0m0 16h0m.1 5.5h0m.1-20.7h0m0 .3h0m0 24h0m.2-.9h0m.1-6.7h0m.1 4.1h0m.1-.6h0m0 2.6h0m.4-1.9h0m.2 1.4h0m.1-4.4h0m.2 4.7h0m.7 .1h0m.3-1.4h0m.1-8.4h0m.1 6.2h0m.1-1.2h0m.4 4.2h0m.3 .3h0m.1 .4h0m0 .7h0m.1-.4h0m.1-13.3h0m0 11.9h0m0 1.3h0m.1-4.4h0m5.8 4.2h0m.1-2.9h0m.1 2.8h0m.1-1.1h0m.3-4.3h0m0 .9h0m0 4h0m.1-8.3h0m.2-10.3h0m0 19.5h0m.1-12.6h0m.4 11h0m.1-1.6h0m.3-.2h0m.3-9.1h0m.1-9.3h0m0 11.5h0m0 7.3h0m.2 .1h0m.3-1.7h0m.1-7.9h0m.3 .7h0m0 .9h0m0 6.9h0m.4-.4h0m.1-2.2h0m.1-4.3h0m.2 4.5h0m0 1.1h0m.1 .4h0m0 .7h0m.1 2.8h0m.1-2.2h0m0 1.3h0m.1 1.8h0m.1-11.2h0m0 5.6h0m0 5.6h0m.1 .5h0"/>
<path stroke="#0000ff" stroke-width="1.5" stroke-linecap="round" fill="none" d="M374.1 283.2h0m.2 7.8h0m.2-2.8h0m.2 3.1h0m.2-8.4h0m.2 3.3h0m0 .8h0m0 4.4h0m.1-11.1h0m.2-4.5h0m.1 13.4h0m.1-8.3h0m0 4.5h0m0 6h0m.1-11h0m0 6.6h0m.2 3.9h0m.2-18.9h0m.1 8.7h0m0 10.4h0m0 .3h0m.1-5.7h0m0 6.3h0m.2-1.3h0m.2-6.4h0m0 1.6h0m.2 4h0m0 3.4h0m.1-3.8h0m.1-14.9h0m0 16.5h0m0 .2h0m.5-2.3h0m0 3.7h0m.4-5.8h0m0 1.5h0m.1-9.6h0m0 4.8h0m.1 6.3h0m0 3.8h0m.3-15.4h0m0 11.4h0m.1-1.2h0m.1 4.3h0m.2-8.1h0m.1 10h0m.1-13.4h0m0 12.1h0m.1-7h0m0 5h0m0 2.9h0m.2-23.5h0m0 13.9h0m.3-21.8h0m0 28.8h0m.1 2h0m.1-1.4h0m.1-21.3h0m.4 2.9h0m.4 19.1h0m.3-4.8h0m.3-4.8h0m.3 6.4h0m.1-.4h0m0 2.7h0m0 .5h0m.4-5.7h0m.3 3.6h0m.1 4.2h0m.4 1.2h0m.1-13.5h0m.1-9h0m.3-3h0m.1 17.1h0m0 6.9h0m.1-9.6h0m.2 1.6h0m.2-13h0m.2 20h0m.1-20h0m0 13.3h0m.1 5.6h0m.1-2.3h0m.1-6.6h0m0 3.7h0m0 6.4h0m.4-11.8h0m.1 12.1h0m0 .9h0m0 .5h0m.1-13h0m.1-.2h0m0 8.3h0m0 .9h0m.1-1.1h0m.1-6.4h0m0 7.1h0m.1 1.1h0m.2 3.2h0m.3-6.4h0m0 3.6h0m.1-10.3h0m.2 8.5h0m1.2-8.1h0m.1 12.1h0m.4-2.3h0m.1-1.9h0m.1 .6h0m.3-.2h0m.1-1.9h0m.2 2h0m.2-5h0m.1 6h0m.1-6h0m0 .5h0m.2-4.1h0m0 .3h0m0 7.7h0m.1-.2h0m.1-1.3h0m0 1h0m.4-2.4h0m.1-5.6h0m0 6.5h0m.1-1.2h0m0 2.7h0m.3-3.8h0m.1 2.9h0m0 1.3h0m0 2.6h0m.5-4h0m.1-1.4h0m.1-4.3h0m0 5.6h0m.3-11.1h0m0 2.9h0m.2 8.5h0m.4 .2h0m.1-1.6h0m.1-7.3h0m.4 6.8h0m.1-2.1h0m0 9.4h0m.2-3.6h0m.7 2h0m.2 .5h0m.1-6.9h0m0 6.2h0m0 .4h0m.3-2.7h0m0 1.9h0m.1-11h0m.4-3.2h0m0 13h0m.1 .1h0m.2-10.9h0m0 10.9h0m0 2.1h0m0 2.1h0m.2-.3h0m.2-6.2h0m.1-7.3h0m0 8.7h0m.1 5.5h0m.1-6.5h0m.1-9.2h0m0 8.4h0m.1 1.3h0m.1-23.2h0m0 8.7h0m0 15.5h0m.1-32h0m0 33h0m.1-7.6h0m0 9.9h0m0 .8h0m.1-22.6h0m0 17.8h0m0 1.4h0m0 2.8h0m.1-10.4h0m0 5.6h0m0 2.5h0m.3 3.6h0m.3-7.3h0m0 4.2h0m.3-5.1h0m.1 4.8h0m.1-.5h0m.1 3.3h0m.1-2.2h0m0 1.3h0m.2-3.5h0m.3-6h0m.4 10.4h0m.1-9.3h0m.2-14.1h0m.1 15h0m.3 7.1h0m.1 .3h0m26.5-2.2h0m.1 3.5h0m.2-2.3h0m.4-2.9h0m.1 5.6h0m.8-1.8h0m.2-15.8h0m0 10.7h0m0 6h0m.1-.3h0m.1-2.7h0m.1 3.2h0m.1-.5h0m.7-2.8h0m.1 1.3h0m.1-4.1h0m0 2.5h0m.2 2.8h0m.1-.2h0m0 1.2h0m.1-2.1h0m.2-9.4h0m.1 3.3h0m.1-4.6h0m0 7.3h0m.1 4.8h0m.3-8.3h0m0 5.1h0m0 2.7h0m.2-16.8h0m.3 14.6h0m0 1h0m.2-11.4h0m.1 7.5h0m.6 2.8h0m0 .4h0m.4 2.6h0m.1-3.2h0m.1-8.9h0m.2 7.5h0m.1 .3h0m0 3.4h0m.5 1.6h0m.2 .6h0m.1-3.1h0m.2-5.1h0m0 3.2h0m0 4h0m.2 .8h0m.2 0h0m0 1.2h0m.1-4.6h0m.8-5.5h0m.4 5.1h0m.1 2h0m.1-4.8h0m.3 7.3h0m.4-.9h0m0 1.6h0m.3-8.8h0m0 7.9h0m.2-30.5h0m.1 18.7h0m0 10.1h0m0 3.2h0m.1 .6h0m.2-12.3h0m0 5.8h0m0 2.7h0m.1 .1h0m0 .5h0m0 2h0m.1-4.4h0m.1-1.6h0m0 1.1h0m.1 0h0m.2 5h0m.1-.9h0m.3-6h0m0 2.2h0m0 .5h0m0 1.6h0m0 2.1h0m0 .1h0m.1-7.9h0m0 6.1h0m.1 1.4h0m.3-2.9h0m.2-1.4h0m0 .8h0m.1-6.7h0m0 8.8h0m.1-7.7h0m0 3.8h0m.2-5.9h0m.4 9.5h0m.1 1.2h0m.2-4.6h0m.1-8.7h0m0 6.8h0m.3-7.1h0m.2 .8h0m0 10.5h0m.1 .2h0m.1 0h0m0 .3h0m.1 .8h0m.2-28.8h0m0 28.8h0m.3-15.7h0m.1-14.1h0m0 9.9h0m0 5.5h0m.2-6.8h0m0 12.2h0m0 .2h0m.1 4.4h0m.2 5.4h0m.1 0h0m.2-6.8h0m0 2.1h0m0 4.4h0m.1-12.8h0m0 7.3h0m.1-19.4h0m0 22.6h0m.2 2.6h0m.3-.8h0m.2-4.5h0m0 4.2h0m.9-6.3h0m.2-3h0m.1 3.3h0m.1-19.4h0m0 14.4h0m0 6.8h0m.2-3.1h0m0 2.4h0m.1 2.7h0m.1-.5h0m.1-1.5h0m0 2.1h0m.1-6.8h0m.3-24h0m0 32h0m.1-12h0m.1 7.7h0m.4-9.1h0m.1 .6h0m.3 14.1h0m.1-1.1h0m.1-11.5h0m.2 7.6h0m.1 .9h0m.1-3.8h0m0 8.1h0m.1-17.1h0m0 10.4h0m.2-6.8h0m.1 3.2h0m21.9 9.3h0m.1-3.8h0m.1 6.4h0m.1-19.3h0m.4 4.2h0m0 1.9h0m.1 3.2h0m0 5.2h0m0 4.1h0m0 .7h0m.4-1h0m0 1h0m.2 0h0m.1-2.1h0m.1-2.5h0m.3 2.2h0m.2 2.2h0m0 1.1h0m.1-2.2h0m.2 .6h0m.2-4.2h0m.5 3.8h0m.2-11.6h0m.1 9.4h0m.1-2.9h0m.2-1.5h0m0 .2h0m0 3h0m.2 6.8h0m.3-8.6h0m.2 5.9h0m0 .7h0m.2 .2h0m.2-5.6h0m0 7.1h0m.1-26.7h0m.2 5.1h0m.2-10.1h0m.1 27.5h0m.1-26.8h0m0 25.5h0m0 3.7h0m.2-4.7h0m.1 3.3h0m.1-1.4h0m0 1.6h0m.2-3.1h0m.1 .5h0m0 .5h0m.1-7.9h0m.5 4.1h0m.2-1.1h0m0 4.9h0m.1 .6h0m.1-12.2h0m0 12.9h0m0 1.6h0m.4-1.8h0m.2-5.2h0m0 4.2h0m.1-5.4h0m.2 7.5h0m.3 1.2h0m.2-.9h0m.5-6.9h0m.1 4.7h0m.2-3.4h0m.4 4.7h0m0 4h0m.9-3.8h0m0 1.6h0m.1-1.4h0m0 1.5h0m.2-5.5h0m.1-5.4h0m0 1.4h0m0 8h0m.1-5.2h0m.1 5.3h0m.3-.3h0m0 .6h0m.1 2.4h0m.1-7.8h0m0 3.3h0m.2 3.9h0m.1-12.2h0m0 4.8h0m0 6.1h0m.3 .3h0m.2-8.6h0m.1-4.3h0m.1 7h0m.2-2.2h0m.2 6.2h0m.1-2.2h0m.1 1.5h0m.1-3.5h0m0 5.8h0m.1-3.4h0m0 5.1h0m.1-23.7h0m0 12h0m.1-11.1h0m.1 15.6h0m.2 6.2h0m.2-.4h0m.1-2.6h0m.1 2.7h0m0 1.3h0m.5-5.8h0m.2 1.2h0m.2 .3h0m.4-2.4h0m.2 5.1h0m.5-.9h0m0 3.1h0m.1-2.9h0m0 2.5h0m.3-3.9h0m.1 1.7h0m.1 .3h0m.2-1.3h0m.4-20h0m0 17.7h0m0 1.9h0m0 .4h0m.2-4.2h0m0 3.8h0m.1 1.8h0m0 .8h0m.1-4.1h0m0 2.2h0m0 1.4h0m.1-14.3h0m0 1.4h0m0 5h0m.1 8.8h0m19.3-16.1h0m0 12.5h0m.1-3.3h0m.6-29.1h0m.3 29.6h0m.2-4.3h0m.2 6h0m.2-1.4h0m0 3h0m0 1.5h0m.1-6.2h0m0 5.2h0m.1-.2h0m.1-4.5h0m.3-4.6h0m0 3h0m.2 1.4h0m.1-8.2h0m.4 5h0m.2-5.4h0m0 12.3h0m0 .8h0m.2-12.7h0m0 13.3h0m.1-2.9h0m.6-4.3h0m.1-4.2h0m0 10.7h0m.1-8.5h0m0 8.4h0m.1-13.4h0m0 12.9h0m.1 3.3h0m.1-18.9h0m.2 19h0m0 .6h0m.2-25.8h0m.1 17.2h0m.1-13.4h0m0 15.7h0m0 3.1h0m.2-.7h0m.1-4h0m.3-1.6h0m.1 4h0m.1 2h0m.1-2.3h0m.2-2.8h0m0 3.8h0m.1-3.9h0m.1-10.9h0m0 13.3h0m.2 1.3h0m.3 .1h0m.3 1.9h0m.1-.5h0m.2 1.7h0m.1-14.9h0m.3 9.7h0m.2-4.8h0m0 5.6h0m.1-10.4h0m.1 11.8h0m0 .6h0m.2 1.5h0m.1-6.4h0m0 5.3h0m.1-19h0m.2 14.7h0m0 4.6h0m.1-5h0m.3-1.3h0m.1-9.7h0m0 14.9h0m.1-19.9h0m0 17.7h0m.1-10.9h0m0 12.3h0m.1-15.3h0m0 7.1h0m0 11.6h0m.2-.2h0m.1-6.6h0m0 6.2h0m.2-6.2h0m.7-7.3h0m0 13.3h0m0 .5h0m.1-12.9h0m0 12.3h0m.2-2.5h0m0 2.3h0m.2-10.3h0m.1 6h0m0 5.1h0m0 1.1h0m.3-1.3h0m.4-.7h0m.1-.1h0m.2 .4h0m0 .5h0m.1 1.2h0m0 1h0m.1-2.3h0m.3-3.7h0m0 3.9h0m.2-3.5h0m.1-.9h0m.4 1.9h0m.2-2h0m0 .4h0m0 1.5h0m.3-1.6h0m.1 5.6h0m.3-1.8h0m.6-2.1h0m0 1.4h0m.2-7.4h0m0 3.1h0m.1-.4h0m.2 2.2h0m15.3-.9h0m1-9.5h0m.1 6.4h0m0 3.3h0m0 .3h0m.2-1.3h0m0 1.6h0m.1-16h0m0 5.1h0m.3 3.5h0m0 1.3h0m0 3.7h0m.2-.1h0m.2-11.6h0m0 13.6h0m.4 2.2h0m.1-25.8h0m0 27.7h0m.1-10.9h0m.1 8.1h0m0 4.7h0m.3-17.5h0m0 17.8h0m.1-1.2h0m0 1.9h0m.1-6.1h0m.3 3.1h0m.2-10.7h0m.1 11.4h0m.1-16.3h0m0 17.7h0m.2-.2h0m.4-5.4h0m0 4h0m.2-.5h0m.2 .1h0m.2 1.3h0m0 1.5h0m.2-11.9h0m0 8.1h0m.1-13.1h0m.1 10h0m.1 4h0m.4-2.5h0m.1-4.6h0m2.6 7.4h0m.1 1.5h0m.5-10.8h0m.1 2h0m.1 5.4h0m.2-3.2h0m0 1.3h0m.3-3.9h0m.1 6.5h0m0 2.8h0m.1-3.4h0m.1 2.5h0m.4 2.4h0m.2-.9h0m0 .6h0m.2-14.3h0m.1 13.4h0m.1-.3h0m.1-4.6h0m.1-2.6h0m.2 .2h0m.1 1.7h0m0 3.9h0m.3-8.1h0m.6-4.7h0m0 11.7h0m.2 1.7h0m.1 0h0m.1-7.4h0m.2-2.8h0m0 9.9h0m.1-1.8h0m.1 .2h0m.1-9h0m0 3.8h0m.1 3.5h0m.1-.5h0m.1 .3h0m.1-1.6h0m0 1.3h0m0 1.3h0m.3 3h0m.1-2.3h0m0 1.9h0m.1-15.6h0m0 12h0m0 2.1h0m0 2.1h0m.3-10.2h0m0 8.3h0m.1 .5h0m0 .8h0m.1-1.6h0m.1-2.3h0m0 2.4h0m.1 2.6h0m.2-3.7h0m.5-3h0m.2 4.8h0m.1-2.3h0m.1-8.2h0m0 6.8h0m15.2-1.6h0m0 3.7h0m.2-3.6h0m0 1.8h0m.1-.1h0m.2-1.1h0m.1 1.2h0m.1-3.4h0m.1-6.9h0m0 11.1h0m0 .1h0m.1-6.3h0m0 3.3h0m.1-6.3h0m0 11.2h0m.4-3.7h0m.1 1.4h0m.1-3.4h0m.1 .8h0m0 3.5h0m0 1.6h0m.2-3.1h0m.1 0h0m.1-1.1h0m.1-11.9h0m.2 6.4h0m.1-1.1h0m.1-.9h0m.1-5h0m.1 9.8h0m.1-2.3h0m.1-13h0m.1 3h0m.2 18.4h0m0 1.1h0m.1-.9h0m.2-13.5h0m.3 8.3h0m.1 1.8h0m.1 .6h0m.3-.3h0m0 .7h0m.4 3.1h0m.1-2.9h0m0 .9h0m0 2.2h0m.1-4.8h0m0 1h0m.2-16.3h0m0 12h0m.3-17.1h0m0 4.1h0m0 13h0m.2 3.7h0m.1 1.7h0m.1-9.1h0m0 7.8h0m.1 2.1h0m.1-2h0m0 4.5h0m.2-13.9h0m.2 12.9h0m.2-12.4h0m0 1.9h0m.1-5h0m.1 9.2h0m.1 3.8h0m.1 .4h0m0 2.5h0m.3 1.4h0m.1-8.9h0m0 1.6h0m.3 4.7h0m.1-6.4h0m.1-.1h0m.1 4.3h0m.3-10.9h0m.1 13.1h0m.1-8.2h0m.3-1.4h0m.1-.6h0m0 1.4h0m.1-2.5h0m0 8h0m.1-7.5h0m.1 2.8h0m.1-4.2h0m0 7.5h0m.2-1h0m.6-13.7h0m.1 13.7h0m0 1.2h0m0 1.3h0m.2-1.4h0m.2-1.2h0m0 3.8h0m.4-11.9h0m0 7.8h0m0 4.2h0m.1-22.5h0m.1-.9h0m0 22.4h0m.2-13.1h0m.1 10.8h0m.2-5.5h0m.2 3.3h0m0 3.3h0m.3-1.3h0m.2 .4h0m.3 4.2h0m.1-2.5h0m.2-3.1h0m.3 4.6h0m.8-5.6h0m.1-.4h0m16.5 14.4h0m.6-1.8h0m.1 .3h0m.1-.6h0m.2-.3h0m.1 .2h0m.2-7.4h0m.2 1.8h0m.2 6.1h0m.1 1.5h0m.1-19.6h0m.3 9.1h0m0 7.9h0m.2-19.1h0m.1-.3h0m.1 19.9h0m.1-10.4h0m0 13.5h0m.2-.2h0m.2-4.9h0m.5-5.2h0m.2-3.7h0m0 10.9h0m.2 1h0m.2-5.6h0m.3 6.2h0m.1-.2h0m.1-.8h0m.3 1.9h0m.3-10.7h0m.5 5.2h0m.5-3.9h0m.1 8.3h0m.2-1.1h0m.1-16.7h0m.2 9.4h0m0 5.6h0m.1-2h0m.1 6.2h0m.4-14.2h0m.2 11.3h0m.1 .9h0m.1-8.3h0m.1-.7h0m.2 .8h0m.2-19.6h0m.1 13.9h0m0 1.5h0m.5-1.9h0m.1 8.7h0m.1 7.4h0m.5-9h0m14.1 1.6h0m.2-5.6h0m0 5.5h0m.1-12.4h0m.2 8.5h0m.2-.6h0m0 .3h0m0 .1h0m.3-6.3h0m0 1.4h0m.1 9.7h0m.1-.6h0m.1-.5h0m0 1.9h0m.1-4.2h0m.6-7.2h0m0 4.9h0m.2 6.6h0m.1-9.7h0m.1 1.9h0m0 4.2h0m.1 3.7h0m.1-2.4h0m.3-2.4h0m0 3.2h0m.1 1.5h0m.1-8.1h0m0 4.6h0m0 3.4h0m.3-7.3h0m.3-14.6h0m.1 14.9h0m0 5.9h0m.1-15.2h0m0 9.4h0m0 4.6h0m.5-2.8h0m0 4.7h0m.2 .3h0m0 1.5h0m.3 .1h0m.1-1.2h0m.1-4h0m.1 2h0m0 .3h0m.1-5.8h0m.2 4.5h0m.2 .8h0m.6-6.9h0m.3 5.4h0m.1-12.5h0m0 12.6h0m.1-.6h0m0 3.1h0m.3 .7h0m.2-8.5h0m.2 10h0m.1-6.1h0m.2 3.6h0m10.7-7.4h0m.3 2h0m0 .2h0m.1-3.2h0m.4-6.1h0m0 6.6h0m.1-2.3h0m0 1.2h0m0 5h0m.2 .5h0m.1-16.9h0m.1 1h0m.1 14.7h0m.2 2.4h0m.1-8.6h0m.1 1.9h0m.4-15h0m.2 9.9h0m.1 3.7h0m.1 4.3h0m.1-10.6h0m.1 13.3h0m.1 .3h0m.3-5.8h0m.2 4.1h0m0 1.1h0m.1-3.1h0m.2-.4h0m.1-1.6h0m.7 4.5h0m.1-.6h0m.2-.5h0m.1 1.1h0m.1-1.7h0m0 2.7h0m.1-14.5h0m.1 2.2h0m.1 4.8h0m0 4h0m0 .1h0m.3-7.8h0m.1 2h0m.1 10.1h0m.1-.7h0m.1-1.4h0m.1-3.2h0m.1 3.5h0m.1 .9h0m0 1.2h0m.2-21.2h0m.1 16.2h0m.1 1.1h0m.1 2.1h0m.1-30.8h0m.1 9.9h0m0 17.3h0m.1-9h0m.1 6.4h0m0 2h0m.2-1.9h0m.1 1.5h0m.2-1.4h0m.2 4.8h0m.3-15.1h0m0 6.2h0m0 9.8h0m.1-3h0m.1 2.3h0m.1-7.1h0m6.5 3.5h0m1-9.6h0m0 9.6h0m.9 7.3h0m0 2.4h0m.1-26.9h0m0 25h0m.1-4h0m.1-21.5h0m.1 17.6h0m0 3.9h0m.2 4.4h0m.1-3h0m.3-9h0m0 6.2h0m0 2.7h0m0 1.1h0m.1-17.8h0m0 .4h0m.1-1.8h0m0 19.5h0m.4-1.8h0m.3-2.7h0m.2 1.1h0m.2-5.9h0m.2 5.2h0m0 4.3h0m.4-9.1h0m0 5h0m.1-.4h0m.4 3.5h0m.1 .7h0m.2-4.9h0m0 .9h0m.2 4.4h0m0 .9h0m.1-3.7h0m.7-2.9h0m0 3h0m.5-8.1h0m.1-.3h0m.1 7.6h0m0 1.1h0m.2 2.9h0m.1-4.9h0m.2-1.9h0m0 6.2h0m9.7-1.7h0m.3 4.9h0m0 1.6h0m.7-9.4h0m0 5.4h0m.1-7.6h0m0 7.5h0m0 1.4h0m.1 .9h0m.2 .9h0m.6-5.1h0m0 1.8h0m.3-.9h0m.4-6.6h0m.3-5.8h0m.1 4.1h0m0 8.5h0m.1 3.8h0m.1-7.6h0m.1-2.4h0"/>
<path stroke="#222" stroke-width="0.8" fill="none" d="M374.2 196.5V312.2H684.5"/>
<path stroke="#222" stroke-width="0.6" fill="none" d="M372.2 312.2h2M372.2 301.5h2M372.2 290.8h2M372.2 280h2M372.2 269.3h2M372.2 258.6h2M372.2 247.9h2M372.2 237.2h2M372.2 226.4h2M372.2 215.7h2M372.2 205h2M372.2 196.5h2M374.2 312.2v1.8M423.4 312.2v1.8M472.6 312.2v1.8M521.8 312.2v1.8M571.1 312.2v1.8M620.3 312.2v1.8M669.5 312.2v1.8M684.5 312.2v1.8"/>
<g font-size="4.6" fill="#222" text-anchor="end" transform="scale(1 1.15)"><text x="370.2" y="273.1">0</text><text x="370.2" y="263.8">1</text><text x="370.2" y="254.5">2</text><text x="370.2" y="245.2">3</text><text x="370.2" y="235.8">4</text><text x="370.2" y="226.5">5</text><text x="370.2" y="217.2">6</text><text x="370.2" y="207.9">7</text><text x="370.2" y="198.6">8</text><text x="370.2" y="189.2">9</text><text x="370.2" y="179.9">10</text></g>
<path stroke="#f33" stroke-width="0.7" stroke-dasharray="1.6 1.4" d="M374.2 252.3H684.5"/>
<g font-size="4.8" fill="#111" text-anchor="middle" transform="scale(1 1.15)"><text x="386.7" y="279.1">1</text><text x="413.2" y="279.1">2</text><text x="437.1" y="279.1">3</text><text x="457.6" y="279.1">4</text><text x="477.8" y="279.1">5</text><text x="496.4" y="279.1">6</text><text x="514.6" y="279.1">7</text><text x="531" y="279.1">8</text><text x="546.2" y="279.1">9</text><text x="561.8" y="279.1">10</text><text x="575.9" y="279.1">11</text><text x="590.9" y="279.1">12</text><text x="604.4" y="279.1">13</text><text x="616" y="279.1">14</text><text x="627" y="279.1">15</text><text x="636" y="279.1">16</text><text x="646" y="279.1">17</text><text x="654" y="279.1">18</text><text x="661.6" y="279.1">19</text><text x="668.5" y="279.1">20</text><text x="674.5" y="279.1">21</text><text x="680.8" y="279.1">22</text></g>
<text x="502.0" y="331.6" font-size="9.3" fill="#111" textLength="51.4" lengthAdjust="spacingAndGlyphs">Chromosome</text>
<text x="456.3" y="188.2" font-size="11.4" fill="#111">Superior cerebellar peduncle</text>
<text transform="translate(351.6 185.1) scale(1 1.17)" font-size="12.4" font-weight="bold" fill="#000">d</text>
<text transform="translate(359.2 255.5) rotate(-90)" text-anchor="middle" font-size="8.7" fill="#111" textLength="50.7" lengthAdjust="spacingAndGlyphs">&#8722;log<tspan font-size="5.2" dy="1.6">10</tspan><tspan dy="-1.6"> </tspan><tspan font-style="italic">P</tspan>value</text>
<path stroke="#0000ff" stroke-width="1.8" stroke-linecap="round" d="M390.4 207.3h0m257.9 37.3h0"/>
<path stroke="#4682b4" stroke-width="1.8" stroke-linecap="round" d="M454.4 234.9h0m0 9.1h0m0 8.2h0m48.9-14.7h0m0 2.1h0m0 2h0m0 3.1h0m31.4-.9h0"/>
<g font-size="4.8" fill="#111" stroke="#111" stroke-width="0.05" transform="scale(1 1.15)"><text x="391.8" y="182" text-anchor="start">LMX1A</text><text x="452.4" y="206" text-anchor="end">REST</text><text x="452.8" y="213.9" text-anchor="end">POLR2B</text><text x="452.8" y="218.9" text-anchor="end">NOA1</text><text x="501.2" y="207.3" text-anchor="end">KATNA1</text><text x="501.2" y="212.1" text-anchor="end">LATS1</text><text x="504.8" y="210.4" text-anchor="start">PCMT1</text><text x="504.8" y="215.3" text-anchor="start">NUP43</text><text x="536" y="213.7" text-anchor="start">TMEM74</text><text x="646.6" y="214.4" text-anchor="end">YPEL2</text></g>
<path fill="#4682b4" d="M214 485.1L214 473.9L214.5 474.2L215 474.9L215.5 474.8L216 474.2L216.5 475L217 473.4L217.5 474.2L218 473.7L218.5 473.6L219 473.5L219.5 475L220 474.9L220.5 474.5L221 473.7L221.5 474.8L222 475.1L222.5 474.7L223 474.8L223.5 474.5L224 475L224.5 473.4L225 474.8L225.5 475.1L226 474.3L226.5 475.1L227 475L227.5 474.7L228 473.7L228.5 473L229 474.7L229.5 473.9L230 474.9L230.5 474.9L231 474.1L231.5 473.5L232 472.9L232.5 474.7L233 474L233.5 474.5L234 474.4L234.5 472.4L235 472.7L235.5 472.5L236 474.3L236.5 472.3L237 474.9L237.5 474.7L238 475L238.5 473.9L239 473.6L239.5 474.4L239.6 473.9L239.6 485.1ZM261.7 485.1L261.7 474.7L262.2 472.7L262.7 474L263.2 473.8L263.7 474.3L264.2 475.2L264.7 474.7L265.2 475.1L265.7 475L266.2 475.3L266.7 474.7L267.2 475L267.7 475.4L268.2 475L268.7 475.2L269.2 473.6L269.7 473.6L270.2 473.8L270.7 475.1L271.2 475.3L271.7 474.8L272.2 474.6L272.7 475.1L273.2 474.3L273.7 475.1L274.2 475L274.7 473.5L275.2 475.1L275.7 474.8L276.2 474.1L276.7 474.4L277.2 473.3L277.7 474.8L278.2 474.2L278.7 474.4L279.2 474.1L279.7 475.2L280.2 475.3L280.7 474.9L281.2 474.4L281.7 473.5L282 473L282 485.1ZM301.8 485.1L301.8 472.4L302.3 471.7L302.8 472.8L303.3 472L303.8 474.2L304.3 472.5L304.8 473.2L305.3 473.3L305.8 474.4L306.3 474.3L306.8 474.9L307.3 474.3L307.8 474.1L308.3 473.5L308.8 472.4L309.3 473.3L309.8 473.8L310.3 474.7L310.8 474.8L311.3 473.8L311.8 474.4L312.3 474.1L312.8 474.4L313.3 474.8L313.8 473.1L314.3 473.1L314.8 473.9L315.3 473.5L315.8 474.6L316.3 475L316.8 473.3L317.3 474.6L317.8 472.8L318.3 473.7L318.8 473.3L319.3 474.6L319.8 473.9L320 474.8L320 485.1ZM336.6 485.1L336.6 474.6L337.1 475.5L337.6 475.2L338.1 475.2L338.6 475.2L339.1 474.4L339.6 473.4L340.1 473.4L340.6 473L341.1 473.6L341.6 475L342.1 474.4L342.6 474.6L343.1 473.5L343.6 474.4L344.1 474.3L344.6 474.2L345.1 474.5L345.6 474.4L346.1 474L346.6 472.8L347.1 473L347.6 474L348.1 474L348.6 472.9L349.1 473.9L349.6 473.5L350.1 474.8L350.6 472.8L351.1 473.7L351.6 473.3L352 472.7L352 485.1ZM368.3 485.1L368.3 473.9L368.8 474.7L369.3 474.9L369.8 475L370.3 475.3L370.8 474.6L371.3 475L371.8 474.8L372.3 474.9L372.8 474L373.3 474.7L373.8 474L374.3 474.1L374.8 475.1L375.3 473.8L375.8 474.8L376.3 474.1L376.8 473.8L377.3 473.6L377.8 473.6L378.3 470.4L378.8 472.2L379.3 472.5L379.8 472.7L380.3 473.3L380.8 474.4L381.3 473.1L381.8 474.6L382.1 475L382.1 485.1ZM397.7 485.1L397.7 475.2L398.2 475L398.7 474.7L399.2 474.2L399.7 474.6L400.2 472.4L400.7 473.1L401.2 474L401.7 473.9L402.2 473.2L402.7 474L403.2 472.4L403.7 471.7L404.2 472.4L404.7 472.7L405.2 474.1L405.7 472.8L406.2 474.3L406.7 471.6L407.2 473.9L407.7 472.7L408.2 473.8L408.7 474.4L409.2 474.4L409.7 472.9L410.2 473.7L410.7 474.1L411.2 473.6L411.7 471.8L412.2 473.6L412.5 472.8L412.5 485.1ZM425.6 485.1L425.6 473L426.1 473.5L426.6 473.7L427.1 474.4L427.6 473.3L428.1 472.5L428.6 472.4L429.1 473.6L429.6 473.2L430.1 474.6L430.6 473.9L431.1 473.8L431.6 472.7L432.1 474.2L432.6 473.1L433.1 474.5L433.6 474L434.1 474.8L434.6 474.6L435 474.9L435 485.1ZM445.7 485.1L445.7 474.2L446.2 474.6L446.7 473.1L447.2 472.8L447.7 473.9L448.2 473.6L448.7 473.2L449.2 473.2L449.7 474.1L450.2 473.8L450.7 473.2L451.2 472.9L451.7 472.9L452.2 474.3L452.7 475L453.2 474.6L453.7 474.4L454.2 472.7L454.7 473.4L455.2 471.7L455.4 473.5L455.4 485.1ZM464.9 485.1L464.9 472.8L465.4 474L465.9 473.5L466.4 474.2L466.9 474L467.4 474.7L467.9 475L468.4 475L468.9 474.9L469.4 475L469.9 474.5L470.4 473.3L470.9 473.5L471.4 473.9L471.9 472.2L472.3 473.7L472.3 485.1ZM479.3 485.1L479.3 474L479.8 472.7L480.3 473.5L480.8 473.3L481.3 473.1L481.8 473.4L482.3 473.8L482.8 472.8L483.3 473.4L483.8 473.2L484.3 473.7L484.8 473.9L485.3 472.3L485.8 473.2L486.3 470.5L486.7 473.6L486.7 485.1ZM492.9 485.1L492.9 472.5L493.4 472.1L493.9 472.3L494.4 472L494.9 473.1L495.4 473L495.9 472.3L496.4 473.1L496.9 473.2L497.1 471.7L497.1 485.1Z"/>
<path fill="#0000ff" d="M188.4 485.1L188.4 471.5L188.9 469.9L189.4 470.9L189.9 470.5L190.4 469.4L190.9 469.6L191.4 469.4L191.9 470.6L192.4 471.8L192.9 471.1L193.4 470.7L193.9 470.6L194.4 468.7L194.9 470L195.4 467.7L195.9 469.5L196.4 470.8L196.9 471.2L197.4 469.9L197.9 471.1L198.4 470.6L198.9 471.1L199.4 471.9L199.9 471.6L200.4 471.5L200.9 470.9L201.4 466.4L201.9 470.5L202.4 470.7L202.9 472.1L203.4 472.1L203.9 470.9L204.4 470.6L204.9 468.6L205.4 469.6L205.9 470.1L206.4 469.6L206.9 469.5L207.4 467L207.9 470.2L208.4 469.4L208.9 469.2L209.4 470L209.9 468.3L210.4 470.8L210.9 469.9L211.4 469.1L211.9 470.7L212.4 471.1L212.9 471.8L213.4 469.8L213.4 470L213.4 485.1ZM240.2 485.1L240.2 470L240.7 470.5L241.2 470L241.7 468.9L242.2 469.9L242.7 468.9L243.2 469.5L243.7 469.5L244.2 469.7L244.7 466.5L245.2 469L245.7 467.1L246.2 468.7L246.7 468.2L247.2 468.3L247.7 469.8L248.2 470.3L248.7 471.5L249.2 470L249.7 471.1L250.2 470.9L250.7 470.2L251.2 471.5L251.7 470L252.2 470.7L252.7 469.2L253.2 470.4L253.7 467.2L254.2 470.3L254.7 469.1L255.2 469.6L255.7 469.9L256.2 468.7L256.7 470.3L257.2 468.1L257.7 469.7L258.2 468.4L258.7 467L259.2 470L259.7 468.6L260.2 471.2L260.7 470.6L261.1 470.6L261.1 485.1ZM282.6 485.1L282.6 470.9L283.1 472.2L283.6 471.7L284.1 472.2L284.6 471.2L285.1 470.4L285.6 470.4L286.1 472.2L286.6 473.6L287.1 473.5L287.6 473.5L288.1 473.5L288.6 473.7L289.1 471.7L289.6 471.3L290.1 473.6L290.6 471.6L291.1 473.6L291.6 471.8L292.1 473.2L292.6 473.7L293.1 473.3L293.6 474L294.1 473.1L294.6 472.8L295.1 472.2L295.6 471.7L296.1 473.6L296.6 472.9L297.1 473.1L297.6 473.9L298.1 472.9L298.6 472.6L299.1 472.5L299.6 473.5L300.1 473.1L300.6 472.4L301.1 473.6L301.2 471.7L301.2 485.1ZM320.6 485.1L320.6 470.3L321.1 469.8L321.6 468.6L322.1 466.7L322.6 469.9L323.1 471.2L323.6 471.4L324.1 470.8L324.6 470L325.1 469.5L325.6 470.5L326.1 470.1L326.6 471.5L327.1 471L327.6 472L328.1 471.8L328.6 471.6L329.1 472.1L329.6 471.3L330.1 471.3L330.6 471.1L331.1 467.1L331.6 469.8L332.1 469.7L332.6 470L333.1 471.4L333.6 471L334.1 472.4L334.6 472.3L335.1 472L335.6 471L336 471.9L336 485.1ZM352.6 485.1L352.6 469.8L353.1 470.3L353.6 468.7L354.1 471L354.6 470.1L355.1 466.9L355.6 466.8L356.1 468.3L356.6 471.4L357.1 471.8L357.6 470L358.1 470.9L358.1 485.1ZM360.1 485.1L360.1 473.7L360.6 473.4L361.1 472.1L361.6 471.6L362.1 472.2L362.6 472L363.1 470.9L363.6 472.8L364.1 472.7L364.6 472.2L365.1 470.3L365.6 470.2L366.1 471.2L366.6 471.7L367.1 471.4L367.6 472.7L367.7 473.2L367.7 485.1ZM382.7 485.1L382.7 470.4L383.2 468.3L383.7 470.1L384.2 469.1L384.7 469.7L385.2 470.1L385.7 470.2L386.2 469.5L386.7 468.8L387.2 468.1L387.7 466.7L388.2 467.7L388.7 470.1L389.2 469.5L389.7 470.3L390.2 470.2L390.7 470.4L391.2 469.4L391.7 469.8L392.2 470.7L392.7 470.9L393.2 469.5L393.7 469.8L394.2 468.9L394.7 470.3L395.2 470L395.7 469.4L396.2 467.5L396.7 465.4L397.1 467.3L397.1 485.1ZM413.6 485.1L413.6 474.2L414.1 473.4L414.6 474.3L415.1 474.3L415.6 473.5L416.1 471.9L416.6 474.2L417.1 473.4L417.6 473.9L418.1 473.6L418.6 473.4L419.1 473.2L419.6 470.8L420.1 469.3L420.6 470.6L421.1 472.4L421.6 473.8L422.1 474.9L422.6 474.8L423.1 473.4L423.4 474.1L423.4 485.1ZM437.7 485.1L437.7 468.3L438.2 469.3L438.7 470.1L439.2 468.8L439.7 469.9L440.2 470.8L440.7 469.6L441.2 470.6L441.7 468.7L442.2 466.2L442.7 468.2L443.2 466.6L443.7 469.8L444.2 469.8L444.7 471L445.1 468.5L445.1 485.1ZM456 485.1L456 468L456.5 468.3L457 467.6L457.5 468.2L458 467.8L458.5 467.2L459 467.6L459.5 463.9L460 466.6L460.5 460.8L461 466.3L461.5 462.8L462 467.2L462.5 467.3L463 467.4L463.5 467.2L464 467.4L464.3 463.3L464.3 485.1ZM472.9 485.1L472.9 466.2L473.4 465.4L473.9 465.4L474.4 463.9L474.9 463.5L475.4 463.9L475.9 464.4L476.4 464.8L476.9 465.6L477.4 464.2L477.9 465.9L478.4 465.1L478.7 465.9L478.7 485.1ZM488.4 485.1L488.4 470L488.9 468L489.4 470L489.9 470L490.4 469.5L490.9 469.3L491.4 469.5L491.5 470L491.5 485.1Z"/>
<path stroke="#fff" stroke-width="0.9" stroke-linecap="round" fill="none" opacity="0.85" d="M193 473.4h0m.1-.6h0m1 2.2h0m.2-1.7h0m4.8 1.1h0m5.5-1h0m5.5-1h0m.3 .2h0m4 3.4h0m.7 .6h0m.9 1.3h0m5.7-.4h0m.4-1.8h0m2.2 1.8h0m.4 1.5h0m.3-.4h0m.3 .3h0m1.5-2h0m1.2-.4h0m.3 1h0m2.2-1.7h0m2.4 1h0m.2 0h0m.6-.5h0m4.9-1h0m.9 1.2h0m.3-1.6h0m10.2-2.9h0m1 .3h0m.9-.9h0m2.3 1.6h0m2.6 1.9h0m1.6-5.3h0m3.6 5.2h0m.5 .4h0m1.3 1.3h0m.6 .1h0m1.2 1.9h0m1.7-1.5h0m.5-.7h0m3.5-.2h0m.1 2.8h0m.3-.7h0m3.4-.8h0m.8-2.2h0m2.2 .3h0m.1-.5h0m1.2 3.9h0m.2-2.2h0m3.9-3.4h0m10.6 1.8h0m3.3-.5h0m.8-.7h0m.2 1.9h0m3.9-1.9h0m2.7 2.5h0m.8-.5h0m4.3 2.1h0m.7-2h0m1.7 .8h0m1.8-2.3h0m.5 4.2h0m1.6-2.1h0m1.1-1.5h0m.7-.3h0m.3 2.9h0m.7 .8h0m.9-1.2h0m2.5-1.2h0m2.7-4.3h0m.2 .6h0m4 4h0m7.3 2.7h0m4.5-2h0m0 .8h0m.9-2.2h0m.4 .6h0m5.2-.9h0m.2 1.5h0m.1-1.7h0m1.6 1.5h0m.3-.3h0m.2-.6h0m2-.4h0m2.1-2.9h0m1.4 .9h0m5.9 0h0m2.2 .1h0m7.4 3h0m.4-.3h0m2.7-.3h0m1.1 .8h0m1.1-1.2h0m.4-.8h0m.7 1.4h0m.1-1.8h0m0 .8h0m2 .1h0m2.3 4.3h0m2-3.5h0m10.7-4.6h0m1.4-2.5h0m.8-2.1h0m.6 11.4h0m.4-1.1h0m.6-1.5h0m1.8 .5h0m4.1-2.9h0m.1 3.2h0m1.7 .6h0m.7-4.3h0m2 4.1h0m1.2-1.1h0m1.7 .3h0m3.1 2.3h0m3.4-2.9h0m5.1 .5h0m2.2-2h0m.8 1.9h0m.9-.5h0m1.9-.7h0m3 3h0m.4-2.6h0m.5 .8h0m4.4-.4h0m3.9-3.9h0m7.8 2.7h0m.4 2.3h0m.3-1.6h0m1.1 .6h0m2.9 1.4h0m.1-.9h0m1.4-2.3h0m6.4-3.6h0m2.3 1.1h0m1.1 3.9h0m3.2 3.1h0m1.6-.1h0m.2-3.6h0m.7 2.7h0m3-7.5h0m5.8 4.9h0m1.6 1.1h0m4.5 .8h0m.1-.9h0m.8 .2h0m6-2.3h0m1.3-.2h0m.2 1.9h0"/>
<path stroke="#4682b4" stroke-width="1.5" stroke-linecap="round" fill="none" d="M213.9 470.5h0m.2-5.5h0m0 7.4h0m0 1.6h0m.1 .1h0m.1-10.8h0m.3 9.2h0m0 1.7h0m.2-.8h0m.3 2.2h0m.2-2.7h0m0 2.2h0m0 .3h0m.2-5.5h0m0 4.9h0m0 .8h0m.3-4.8h0m.2 .6h0m.1 .5h0m.1-3.8h0m.2-.2h0m.1 7.5h0m0 .5h0m.7-2.2h0m.3-2.4h0m0 .5h0m0 2.8h0m.1-15.4h0m0 15.8h0m.2-.7h0m.1-3.5h0m.2-1.8h0m0 2.1h0m.5 .9h0m.1-5.2h0m0 5.7h0m0 1.5h0m.1-1.7h0m.1-.2h0m.1-.4h0m.1-1.5h0m.1-4.5h0m.3 8h0m0 2.2h0m.3-11.8h0m.2 6.2h0m.1-3.4h0m.1 6.6h0m.2-.2h0m.2-3.3h0m0 1h0m.4 .5h0m.1-7.4h0m0 4h0m0 4.9h0m.2-20h0m0 15.7h0m.1 6.8h0m.1-19.6h0m0 10.5h0m0 1.9h0m.2-2.2h0m.1 6h0m.1 1.8h0m.1 .1h0m.1-7h0m.1 6.7h0m.1-3.2h0m.1 2.7h0m.1-8.7h0m0 2.8h0m.2 6.9h0m.1-9h0m0 8.4h0m.1-5.6h0m0 6.2h0m.1-.8h0m0 1.8h0m.2-1.8h0m.1-5.8h0m0 6.9h0m.1-6.8h0m0 .3h0m0 6.8h0m.1-1.3h0m.1-3h0m0 1h0m.1 1.9h0m.2 .4h0m.1-2.6h0m.1 1.9h0m.1-1.6h0m.1-6.6h0m0 9.6h0m.1-2h0m.1-16.6h0m.5 15.9h0m.1 0h0m.3 4h0m.1-5.8h0m0 3.9h0m.1-5.3h0m.1 6.7h0m.1-.3h0m1-1.3h0m.1-8.7h0m0 10.3h0m0 .3h0m.1-2.7h0m.1-12.3h0m0 14.4h0m.2-.6h0m.2-13.3h0m.4 11.5h0m.1-.9h0m0 .6h0m.4-4.9h0m.3-4.8h0m0 1.5h0m.1 10.1h0m.1-6.1h0m0 5.8h0m.3-7.9h0m0 4.7h0m.1-.5h0m0 1.2h0m0 2.1h0m0 .3h0m.2-.2h0m0 .7h0m.2-3.1h0m0 1.2h0m.3 1.9h0m.2 .3h0m.1-.4h0m0 1.6h0m.2-9.8h0m0 .7h0m.1 6.8h0m.2 .4h0m.1 .4h0m.2-2.7h0m0 2.5h0m.1-4.7h0m0 2.1h0m0 3h0m.3-9.1h0m.2 7.2h0m.2-2.4h0m.3 1.2h0m0 .7h0m.4 1.9h0m.1-21.9h0m0 20.8h0m0 .4h0m.1-5.5h0m.1-7.8h0m0 10.5h0m0 1.5h0m0 2.6h0m.1-13.7h0m0 2.6h0m0 10.7h0m.1-3.4h0m.2-6.8h0m0 10.3h0m.1-3.2h0m.3 .9h0m0 2.9h0m.1-7.2h0m0 6.8h0m.1-3.1h0m.1-.3h0m0 2.5h0m.4-12.9h0m.2 6.8h0m0 3.4h0m.1-2.1h0m.2-1.2h0m.1 5.8h0m.5-3.6h0m0 1.3h0m0 .9h0m.1-9h0m0 5.5h0m.1 .1h0m.1-3h0m.1-3.3h0m.1 .5h0m0 8.5h0m0 1.6h0m0 .7h0m.2-7.8h0m.1 3.3h0m.1 1.9h0m.2-20.7h0m0 12h0m.2-2.4h0m.1-4.1h0m.1 12.9h0m.1-17.9h0m0 25h0m.3-3.2h0m.3-3.3h0m0 4.7h0m.1-.7h0m.1-1.5h0m.2-7.6h0m0 9.9h0m0 .3h0m.1-4.3h0m0 1.9h0m0 .3h0m0 1.5h0m.2-4.2h0m0 2.7h0m.1-6h0m0 .6h0m0 6.8h0m.1-3.6h0m0 3.5h0m.1-4.5h0m.1-3.1h0m0 5.5h0m.1 2.7h0m.2-3.8h0m0 2.2h0m0 1.9h0m.4 .4h0m.1-3.4h0m.1-3.8h0m0 1.6h0m0 2h0m0 1h0m0 .1h0m0 2.4h0m21.8-7.3h0m.1 5h0m0 2.3h0m.1-6.7h0m0 1.6h0m.4-1.2h0m.6 1.3h0m.3-13.8h0m.1 12h0m.2 4.2h0m.4 .9h0m0 1.2h0m.1-6h0m0 3.4h0m.1-1.6h0m.3-3.8h0m0 5.4h0m0 .7h0m.1 3.2h0m.2-2.8h0m.1-1.4h0m0 3.6h0m.2-1.7h0m.1 .5h0m.1-1.8h0m.2-3h0m.1-1h0m.5 3.2h0m0 1.2h0m0 2.9h0m.1 .1h0m.1-2.7h0m.1-5.1h0m.3 7.5h0m.1-3.9h0m0 2.4h0m.5-3h0m.3-2.2h0m.1-7.3h0m0 10.9h0m0 1.7h0m.2 2.4h0m0 .2h0m.1-18.9h0m0 4.1h0m0 12h0m.1-1.2h0m.2-14.7h0m0 15.6h0m.1-15.1h0m0 13.9h0m.1 .3h0m.1-13.8h0m0 11.7h0m.1-20.2h0m0 17.2h0m.1 6.3h0m.1-2.7h0m0 1.4h0m0 1.9h0m.1 1h0m.1 .9h0m.1-10.7h0m0 4.2h0m0 6h0m.1-2.3h0m.1-3.7h0m0 4.4h0m.1-2.9h0m0 .6h0m.1 .2h0m.3-3.2h0m.1 .8h0m0 2.9h0m.2-5.9h0m.1 .5h0m0 4.3h0m0 2.9h0m.4-4.8h0m.1-.9h0m0 .8h0m.1-2.9h0m0 2.7h0m.2-13.6h0m0 6.1h0m0 9.6h0m.2-31.8h0m0 27.9h0m.1 8.6h0m.1-29.7h0m.1-6.2h0m0 26.6h0m.1 6.6h0m.1 .8h0m.1-10.3h0m0 11h0m.1-7.2h0m0 4.4h0m.2-31.2h0m0 28.6h0m0 3.1h0m.2 2.6h0m.1-24.6h0m.1 22.4h0m.2-2.4h0m0 4.9h0m.2 .7h0m.2-4.2h0m.3-8.8h0m.3 6.2h0m.2-7h0m.2 10.5h0m.2 2h0m.1-1.5h0m.1 2.8h0m.2-2.8h0m0 .6h0m.1-20.9h0m.2 14.8h0m.1 6.2h0m.2-5.5h0m.1 5h0m.2 2.7h0m.2-3.9h0m.2 1h0m.1 .2h0m0 1.9h0m.1-4.8h0m.2-13.5h0m.3 7.4h0m.4 6.7h0m0 3.8h0m.2-15.3h0m.1 5.7h0m0 7.8h0m.1 1.1h0m.3-2.1h0m0 1.1h0m.5-7.2h0m0 8.9h0m.1-7.2h0m0 6.1h0m.1-4.1h0m.2-11h0m.3 15h0m.2-13h0m0 12.1h0m.2 1.2h0m.2-5.1h0m0 2.1h0m.1 2.3h0m.1-1.9h0m.1 3.8h0m0 .3h0m.2-2.1h0m0 2.7h0m.1-2.4h0m0 .8h0m.2 .7h0m.1-4.3h0m0 3.7h0m0 1.1h0m0 .2h0m.2-9.5h0m0 6h0m.1-1.7h0m0 3.5h0m.2-3.4h0m0 2.5h0m.1-5.2h0m.2 5.8h0m0 .4h0m.2-2.6h0m.1 2.5h0m.2-.3h0m.1-7.5h0m.1 7.1h0m.1-18.6h0m0 6.4h0m0 2.5h0m.1 9.1h0m0 .2h0m.2-13.7h0m0 13.5h0m19.4-9.1h0m.2 8.6h0m.3-6.7h0m0 .9h0m0 3.7h0m.1 1.3h0m.1-17.3h0m0 10.1h0m0 7.8h0m.1-8.1h0m.1 7h0m.1 .7h0m.1-13.3h0m0 7.6h0m0 6.3h0m.2 .4h0m.1-27.9h0m.1 16.3h0m.1 7.4h0m0 .6h0m.1-2.6h0m0 3.9h0m.1-20.4h0m0 21.4h0m.1-16.3h0m0 13.8h0m.1 2.9h0m0 .2h0m.2-.4h0m.6-4.5h0m0 5.4h0m.1-9.7h0m0 2.3h0m0 5.4h0m.3-5h0m0 1.6h0m0 7h0m.1-2.7h0m0 1.6h0m.1-2.2h0m.1-5.1h0m0 2.2h0m.2 2.8h0m0 3.2h0m.2-.5h0m.1-1.8h0m0 1.7h0m0 .1h0m.2 .4h0m.3-2.6h0m.1 3.5h0m.2-4.5h0m.2-15.2h0m.1 20.3h0m.1-4.4h0m.2-23h0m0 23.8h0m0 1.8h0m.1-20.3h0m.1-.7h0m.1-11.9h0m0 .4h0m0 32.2h0m.1-5.4h0m.1-28.5h0m.1 34.2h0m.1-3.9h0m.1-25.7h0m0 24.4h0m.1-5.2h0m0 5.2h0m.1 1.3h0m.1 4h0m.1-1.2h0m.1 1.8h0m.2-9.5h0m0 3.3h0m0 2.1h0m.1-.4h0m.1-12.1h0m0 10.8h0m0 1.8h0m.1-1.1h0m0 2.5h0m.3-1h0m.2 3.5h0m.1-4.1h0m0 .2h0m.1 1.7h0m0 .8h0m.4-3.3h0m0 3.4h0m.1 .3h0m.2-1.2h0m0 1h0m0 .4h0m0 1.6h0m.1-5.9h0m.1-3.5h0m.3 7.7h0m.2-2.8h0m.1-8.7h0m0 7.9h0m.1-9.6h0m.5 7.1h0m0 2.1h0m.1-.4h0m.2 .3h0m0 4.3h0m.1-1.5h0m0 2.6h0m.2-1.1h0m.1-1.2h0m.1 0h0m.1 .7h0m0 2h0m.1-6h0m.1 3.4h0m.1-8.8h0m.1 8.2h0m0 1h0m.1 1.5h0m0 1h0m0 .3h0m.1-31.6h0m0 29.4h0m.1 .7h0m.1-8.7h0m0 4.9h0m.1-3.1h0m.1-10.7h0m.1-4.8h0m0 17.3h0m0 1.4h0m0 1.3h0m0 1.5h0m.1-31.4h0m0 1.4h0m.1 27.1h0m.1 1.2h0m0 1.6h0m.1-1.6h0m.1-13h0m0 12h0m0 3.2h0m.3-5.1h0m.1 5.2h0m.1-2.4h0m0 1.2h0m.1-33.2h0m.1 29.9h0m.3 0h0m0 3h0m.1-16.5h0m.1 11.5h0m.1 .3h0m0 4.7h0m.1-5.1h0m.2 7.9h0m.1-16.3h0m.1 15.5h0m.3 1.6h0m.2-1.5h0m.1-.8h0m.1-2.3h0m.2 1.5h0m.1-2.7h0m0 .9h0m0 2.5h0m.1-13.4h0m0 14.2h0m.2-6.2h0m0 6.7h0m.1-.3h0m0 .7h0m.1-3.5h0m.2-7.6h0m0 8.1h0m.1 .8h0m.2-1.4h0m0 .7h0m.1-4.3h0m.1 4.7h0m.5 1.5h0m.3-5.7h0m.3 0h0m0 1.4h0m.7 2.9h0m0 2.2h0m.1-1.9h0m.1 2.2h0m.1-1.7h0m0 1.1h0m16.2-.1h0m0 .3h0m.2-.8h0m.1-9.8h0m.1 9.6h0m.2 1.6h0m.1-5.2h0m0 5.1h0m.4-10.9h0m0 10.1h0m.1-.9h0m.1-23.4h0m0 23.8h0m.2-13.2h0m.1 4.6h0m0 8.2h0m.4-1.1h0m.2 .5h0m.1 1.1h0m.4-4h0m.2-6.6h0m0 7.6h0m.4 2.7h0m.1-3h0m.1-9.4h0m.2 7.9h0m0 2.5h0m.1-2h0m.4 2.7h0m.1-20.6h0m0 19.7h0m.1-3.5h0m0 3.9h0m0 2.1h0m.1-5h0m.3-1h0m0 3.8h0m0 2h0m.1-5.6h0m.5 2.8h0m0 1.1h0m0 1.5h0m.1 1.1h0m.1-2.1h0m0 .3h0m.1-.1h0m.1 .7h0m.1-5h0m0 3.4h0m.1 2.3h0m.2-2.3h0m.1 1.8h0m.2-4.5h0m.2 4.4h0m.3 .4h0m.2-14.1h0m.2 3.8h0m.1 2.6h0m0 5.1h0m.1-13.9h0m0 9.6h0m.2-9.3h0m0 9.1h0m0 2.1h0m0 3.8h0m.3-10h0m0 10h0m.3-20.9h0m.2 22.2h0m.1-3h0m1-6.3h0m0 4.7h0m0 3.6h0m.1-2h0m0 3h0m.1-8.7h0m.1-7.8h0m0 9.6h0m0 1.8h0m.2 4.6h0m.1-8.2h0m.1 5.4h0m0 1.9h0m.1-13.1h0m0 12.8h0m.1-.9h0m.1-.3h0m.1 2.4h0m.2-2.7h0m.1-2.3h0m0 4.5h0m.2-2.8h0m.1 3.2h0m0 .7h0m.1-5.4h0m.1 1h0m.1 .4h0m.1 3.2h0m.1-1h0m.1-2.2h0m.1-4.3h0m.1 2.7h0m.2 1.3h0m.1-10.5h0m0 6.2h0m0 8.9h0m.6-3.8h0m.1 1.4h0m.1-1.4h0m.1-5.4h0m.1 1.4h0m.1-17.6h0m0 23.1h0m.2-1.1h0m.1 1.6h0m0 2.3h0m.1-19.5h0m0 10.9h0m0 5.1h0m.1-.2h0m.1-12.5h0m0 8h0m0 .9h0m0 4.3h0m.1 1.2h0m.2-7.3h0m0 1.2h0m.1-22.4h0m0 16.2h0m0 5.4h0m.1-15.7h0m0 21.3h0m.1-2.6h0m.2 2.7h0m0 1h0m.1-2.5h0m.1-12.5h0m0 12.8h0m.1 2.7h0m.1-3.5h0m.1 2.9h0m.1-1.7h0m16 2.9h0m.1-6.1h0m0 4.1h0m.2-4.1h0m0 5.9h0m.2-4h0m0 1h0m0 2.9h0m.1 1h0m.1-2.2h0m.3 2h0m.1-1.1h0m.3-3.4h0m.1-5.2h0m.6 10.9h0m.3-3h0m0 .2h0m0 .2h0m.2-.7h0m.1-2h0m0 2.1h0m.4-2.5h0m.1 3.7h0m.4 .6h0m.1-4.4h0m.1 .9h0m.1-2.7h0m0 4.3h0m.1-6.3h0m.2 2.7h0m0 3.3h0m0 2h0m.3-2.4h0m.1-12.8h0m0 6.8h0m0 5.1h0m.2-17.4h0m0 16.9h0m.1-1.8h0m.2-13h0m0 16.8h0m.1-5.8h0m0 1.6h0m.1-18.9h0m0 22.5h0m.3-2.1h0m.3 1.8h0m0 .4h0m.1-4.3h0m.1 1.6h0m.1-7h0m0 3.6h0m0 2.6h0m.1-6.9h0m0 12.6h0m.1-2.6h0m.1-2.3h0m0 4.4h0m.6-3.5h0m.1-.5h0m0 2.4h0m0 .7h0m0 .7h0m.1 .9h0m.5-4.9h0m.1 2.2h0m.1 3.4h0m.2-.9h0m.1-2.4h0m.1-16.7h0m.1 18.8h0m.1-12.2h0m0 5.5h0m0 5.1h0m.2-18.3h0m.1 18.2h0m0 .7h0m.1 .8h0m.1-5.2h0m.1-.1h0m.2 2.7h0m.1 2.9h0m.1-8.8h0m0 1.5h0m0 5.4h0m.1 .9h0m.1-3.2h0m0 4.6h0m.2-.3h0m.2-5.3h0m.1-9.3h0m0 8.8h0m.1 1.1h0m.2 2.9h0m.1-15.1h0m0 15.7h0m.1-.5h0m0 .6h0m.1-4.3h0m0 1.6h0m.1-2.7h0m.1-1.1h0m.1 3.7h0m.1 2.4h0m.4-26h0m.1 0h0m0 12.5h0m0 10.2h0m.3-17.7h0m0 14.1h0m0 5.2h0m.1-14.5h0m0 1.1h0m0 5.6h0m.1 10.6h0m.1-5h0m0 .3h0m.1 .3h0m.2 5.7h0m.2-16.4h0m.1 11.6h0m.3 3.2h0m0 .3h0m.2 .1h0m.1 .7h0m0 .6h0m.4-13.7h0m0 11.3h0m.1 2.8h0m.2-.4h0m15.3 .3h0m.2 .3h0m.2-3.2h0m0 1.5h0m.1 1.6h0m.1 .3h0m.1-3h0m.1 2.8h0m.2-2.5h0m.1-3.7h0m0 5.2h0m.1-2.2h0m.2-.5h0m0 .2h0m.2-11.2h0m.3 13.3h0m.2-6.3h0m0 4.5h0m.2-5h0m.2 .4h0m0 2h0m.1 1.1h0m.2-16.1h0m0 9.9h0m0 7.2h0m.2-8.8h0m.2 1.6h0m.2 3.8h0m0 3.5h0m.2-20.5h0m.2 4.6h0m0 14.7h0m.2 .6h0m0 .5h0m.1-8.6h0m.1 2.5h0m0 6.9h0m.3-4.3h0m0 .4h0m.2-4.6h0m.1 9.8h0m.1-4h0m.1 3.1h0m.1-.3h0m.1-30.9h0m0 1.4h0m.1 .2h0m0 4.6h0m0 23.5h0m.1-9.4h0m0 8.7h0m.2-4.3h0m.1 6h0m.1-5.9h0m.1-18.1h0m0 11.3h0m0 12.7h0m.1-1.2h0m.1-2.3h0m0 1.5h0m.2-1.6h0m0 .4h0m.2-16.9h0m0 14.3h0m.3 .2h0m.3 3.6h0m.1-.6h0m0 2h0m.1-5.5h0m0 2.2h0m0 1.1h0m0 1h0m0 .9h0m0 .1h0m0 .6h0m.1 1.1h0m.1 .4h0m.2-.5h0m.3-25h0m0 .7h0m.2 19.4h0m0 1.7h0m.1 1.8h0m.3-.1h0m0 .6h0m0 1.3h0m.1-8.1h0m.1 1h0m.2 4.4h0m.2-1.4h0m0 .2h0m.1-.7h0m0 2.3h0m.1 .9h0m.3-27.6h0m0 27.6h0m.4-32.3h0m.1 30h0m0 .1h0m0 1.5h0m.1-22.3h0m0 22.7h0m.1-4.1h0m0 3h0m0 1h0m0 1.5h0m.1-7h0m0 7.4h0m.1-16h0m.3 13.5h0m.1 0h0m0 2.9h0m.2-20.8h0m.1 8.6h0m.1 9.6h0m0 .7h0m0 2.2h0m.1-.5h0m.2 .6h0m.1-5.7h0m.1 1.4h0m0 .2h0m0 2.5h0m.2-.2h0m.1-4h0m.2 3.8h0m.4-.7h0m.1 2.1h0m.1 .1h0m.2-5.9h0m0 6.4h0m.2-10.7h0m0 7.9h0m.3 .6h0m.1-8.9h0m0 8.3h0m.1 .5h0m.1-5.6h0m.1 1.2h0m0 1.9h0m.1 2.1h0m.1-2.1h0m.1 3.2h0m.1 .3h0m.3 .1h0m.1-3.3h0m.1 .5h0m0 2.8h0m.1-2.2h0m.1 1.8h0m12.7-4.8h0m.1 4.5h0m.1 .8h0m.1 .1h0m.1-5.6h0m0 4.9h0m0 .9h0m.5-5.8h0m.5 4.1h0m.2-.9h0m.1 2.4h0m0 .1h0m.1-.8h0m0 .3h0m.3 .1h0m.1-.8h0m.1-3.3h0m0 3h0m.3-4.6h0m.1 1.1h0m0 3.6h0m.1 .2h0m.1-.5h0m.1-6.8h0m.1 3.6h0m.4-.6h0m.1 .9h0m0 2.8h0m0 1.1h0m.1-13.3h0m.3 12.1h0m.3-1.8h0m0 .3h0m.1 3.4h0m.2 .1h0m.1 1.1h0m.1-.5h0m.2-3h0m.1 .4h0m0 2.5h0m.2-1.9h0m.1-1.3h0m0 2.7h0m.1-1.4h0m.1-4.1h0m.2 3.9h0m.1-2.3h0m.3 2h0m0 .5h0m0 .7h0m.1-11.1h0m0 8.6h0m0 1.3h0m.2 2.1h0m0 .4h0m.1-7.5h0m0 1.3h0m.1-10.1h0m0 5h0m0 7.5h0m0 3h0m.1-8.4h0m0 5.3h0m0 3.2h0m.1-20.5h0m0 14.4h0m.1-14.8h0m0 15.1h0m0 1.7h0m.2-15.2h0m0 8.6h0m0 6.7h0m.1 3.2h0m0 .8h0m.2-21.8h0m0 14.7h0m.4 3.5h0m0 .5h0m0 1.7h0m.1-.5h0m.2 2.4h0m.1-2.6h0m.4-6.6h0m.4 2.4h0m.5 6.7h0m10.3 .6h0m.1-2.8h0m.2-3.8h0m.2-.7h0m0 7.7h0m.1-6.4h0m.9 3.4h0m.5-3.6h0m.1 4.8h0m0 1.1h0m.1-1.6h0m0 1.7h0m.2-2.6h0m.3-.7h0m.1-.1h0m.3-1.8h0m0 2.9h0m.1-.7h0m.1-2.2h0m0 4.5h0m.1-4.8h0m.6 5.6h0m.2 .1h0m.1-2.9h0m0 1.2h0m0 .1h0m.1-3.5h0m0 1.2h0m.1 2.1h0m.1-2.5h0m0 3.8h0m.1-2.2h0m.1 1.7h0m.1-4.4h0m0 2.3h0m.1-10.4h0m0 8.4h0m0 3.9h0m.2-27.3h0m0 25.5h0m.1-16.5h0m.2 3h0m0 12.5h0m.1 2.8h0m.1-.2h0m.5-24.2h0m.1 20h0m0 2.2h0m0 .8h0m.1-28.4h0m.1 30h0m.1-4.6h0m.2 3.7h0m0 2h0m.2-6.4h0m.1-14.5h0m.1 21.6h0m.1-2.4h0m.2-26.9h0m.1 26.7h0m0 .1h0m0 .6h0m.1-3h0m0 3.9h0m0 .1h0m0 .3h0m.1-.6h0m.1-7.5h0m.2 3.2h0m.4-4.9h0m0 4.7h0m0 3.3h0m.1-.9h0m.2-2.7h0m0 3.1h0m.2-2.1h0m.1-1.2h0m0 .5h0m.2 .3h0m0 .8h0m0 2.4h0m.1-2h0m0 2.2h0m.1-20.6h0m.2 17.8h0m0 1.7h0m.1-2.4h0m.3-3.8h0m.1-.3h0m0 4h0m9.1 .9h0m.2-.1h0m.1 2.5h0m.1-.6h0m.1-.1h0m.1-1.6h0m.1 1.8h0m.1 1.8h0m.2-1.4h0m0 .9h0m.1-6h0m.6 4.1h0m0 2.8h0m.2-6h0m0 5.8h0m.1-3.3h0m0 2h0m0 .5h0m.3-1.3h0m.1-2.7h0m.2-4.1h0m0 .5h0m0 6.2h0m0 1.3h0m.3-1.1h0m0 .3h0m.1-2.6h0m.1 2.2h0m.1-10.6h0m.1 10.5h0m.1-14.4h0m.1 13.8h0m.3 1.1h0m.2-.2h0m.1 2.8h0m.1-3h0m.1-19.8h0m0 21.7h0m.1-14h0m.2 13.7h0m0 1.3h0m.1-11.6h0m0 1.8h0m.4-4.7h0m0 9.4h0m0 4.5h0m.1-5.4h0m.2 .4h0m0 3h0m0 2.3h0m.1-15.2h0m.1 11.1h0m0 2.1h0m.1-2.6h0m.1-1.6h0m.1 2.1h0m.2-9.2h0m.1 1.9h0m.2 9h0m.3-1.3h0m.6-.9h0m.1 0h0m.1 3.7h0m.1-7.9h0m.1 7.1h0m.1 .6h0m0 .2h0m6.6-.6h0m.2-6.6h0m.1 7.1h0m.1-5h0m.1-.1h0m0 1.9h0m0 .4h0m0 1.5h0m.2-4.8h0m.1-.7h0m.2 5.9h0m.1-7.3h0m.3 8h0m0 .2h0m.1-5.3h0m.1-1.9h0m0 3.7h0m.2-.6h0m0 .9h0m0 1.9h0m.2-.8h0m0 1.7h0m.2-4.9h0m0 4.4h0m.1 .4h0m.1-.2h0m.1-4.1h0m.2 .4h0m.1 1h0m0 .9h0m.2-24.5h0m.1 20.7h0m0 3.5h0m0 1.9h0m.4-1.4h0m.1 .8h0m.1-6.3h0m0 6.8h0m.1-8h0m0 7.6h0m.1-30h0m0 14.8h0m.2 5.4h0m0 8h0m0 3h0m.1-31h0m0 22.6h0m0 6.2h0m.1-12h0m0 2.8h0m0 5.1h0m.1-21.6h0m.1 25.4h0m.1 .7h0m.3-12.4h0m0 8.4h0m.3 1.1h0m0 2.6h0m.1 .7h0m.1-6.9h0m.1-.7h0m0 8.8h0m.2 .5h0m.3-1.6h0m.2-4.9h0m0 4.8h0m.1-4.1h0m.2 4.5h0m.2-5.3h0m.6-4.9h0m.1 1.8h0m0 .8h0m0 5h0m.2 1.5h0m0 1.9h0m.1-1.7h0m6.2-11.3h0m0 8.9h0m.2 .4h0m0 2.4h0m0 .2h0m.1-3.8h0m0 1.1h0m.1-6h0m0 6.8h0m.1-4.9h0m0 5.9h0m.3-19.2h0m0 20.1h0m.1-2.9h0m.1 .9h0m.1-4.8h0m.2-3.1h0m0 1h0m.3 7.2h0m.2-1.7h0m.1 4.1h0m.1-24.2h0m0 21.7h0m.3-20.9h0m0 .6h0m.1 14.7h0m.1 7.1h0m.1-1h0m.4-13.4h0m0 8.4h0m.1 4.8h0m.1-7h0m.2 9.5h0m.2-3.1h0m.2 2.2h0m.2-7.2h0m.1 2.1h0m0 2.6h0m0 1.6h0m.1-5.4h0m.1 1.2h0m0 .5h0m0 3h0"/>
<path stroke="#0000ff" stroke-width="1.5" stroke-linecap="round" fill="none" d="M187.4 468.9h0m.4-.1h0m.4-4.5h0m.2 4.1h0m.2-1.6h0m0 5.4h0m.1-11h0m.1-16h0m0 17h0m.1-13.3h0m.1 13.3h0m.1-22.9h0m.2 28.2h0m.1-5.7h0m0 8.5h0m0 .2h0m.1 1.1h0m.2-9.3h0m0 8.1h0m.1-21.6h0m.1-.5h0m.4 21.6h0m.1-3.8h0m.4-4h0m.1 6.4h0m.1-.7h0m.7-1h0m0 4h0m.1-.5h0m.3-.6h0m.1 1.3h0m.3-6.8h0m.1 7.2h0m.1-3.4h0m0 3.7h0m.2-10.3h0m.4 9.6h0m.1-4.3h0m0 .9h0m0 2.8h0m.1-1.4h0m.3 .8h0m.1 1.4h0m.1-1.7h0m.1 1.6h0m0 .2h0m.1-12h0m.1 8.6h0m.2-12.8h0m0 3.4h0m0 10.2h0m.2-.1h0m0 1.1h0m.1-2.4h0m.1-11.3h0m.2-4.8h0m.1-2.7h0m.2 14.8h0m.1 4.9h0m.3-14.3h0m0 3.6h0m.2-3.5h0m.2 9.8h0m0 .2h0m0 5h0m0 .1h0m.1-11.3h0m0 1.8h0m0 2h0m.1 8.1h0m.1-1.6h0m0 1.5h0m.2-.9h0m0 3.4h0m.4-.6h0m.3-12.6h0m0 .7h0m.1 2.5h0m.4 9.5h0m.1-3.1h0m.3-3.1h0m.1 5.5h0m.2-3.2h0m.1-10.1h0m0 6.7h0m.1 3.5h0m.1-4h0m.4-12.4h0m0 19.7h0m.1-3.3h0m0 1h0m0 3.2h0m.3-1.2h0m0 1.3h0m0 .2h0m.1 0h0m.3-8.8h0m0 .6h0m0 6.1h0m.4-10.1h0m.2 8.8h0m.9-2h0m.1 2.1h0m0 .3h0m.1-9.4h0m.3 9.6h0m0 1h0m.1-2.6h0m0 3.3h0m.1-17.6h0m0 17.7h0m.1-8.1h0m.2 7.2h0m.2-4.2h0m.1 5.7h0m0 .5h0m.2-9.9h0m.2 10.3h0m.3-.5h0m.1-7.8h0m.2-.6h0m0 5.6h0m.1-2.3h0m0 4.5h0m.3-7.8h0m0 6.5h0m.1-1.4h0m0 1.4h0m0 .4h0m.1 .2h0m.2-3.9h0m.1-4.3h0m.2-2.3h0m0 8.9h0m.3-.7h0m.1-6.4h0m0 5.6h0m.2-8.3h0m.4 8.3h0m0 1.9h0m.3 0h0m.1-8.7h0m.1 4.8h0m0 4.4h0m.3-1.9h0m0 1.6h0m.2-6.2h0m.4 2.9h0m.1 .3h0m.2-6h0m.1 5.9h0m.1-15.5h0m0 14.2h0m.5 2.5h0m.1-9.9h0m.1 6.1h0m0 2.6h0m0 2h0m.1-16.5h0m0 12.3h0m.1 .1h0m.2-9.9h0m0 6.8h0m.2 7.4h0m.1-13.4h0m0 13.2h0m.2-3.4h0m.2 .2h0m0 2.6h0m.1-4.7h0m.1-.5h0m.6 6.4h0m.4-.9h0m.2-1.7h0m.2 1h0m.1 .1h0m0 1.2h0m.4-1.5h0m.5 0h0m.3 2.4h0m.1 0h0m0 .8h0m.3-1.6h0m0 1h0m.2-4.3h0m0 .4h0m0 3.7h0m.2-15.7h0m.1 8h0m.1 6.8h0m26.5 1.4h0m.1-2.3h0m.4-13.2h0m0 13.8h0m0 1.2h0m.2-5.3h0m.2 5.2h0m.2-7.9h0m.1-1.1h0m.2 7.2h0m.1-3.9h0m.1-5.8h0m0 7.4h0m.2 3.4h0m.1-18.1h0m0 8.8h0m.1-1.4h0m0 6.8h0m0 .7h0m0 4.3h0m.1-2.9h0m.1-2.5h0m0 2.7h0m.2-1.4h0m.3-6.9h0m.3 10.1h0m.2-6.4h0m.1-10.1h0m.1 15.3h0m0 1.1h0m0 .9h0m.1-5h0m.1 5h0m.4-9.3h0m.1 8.3h0m.1-6.2h0m0 6h0m.2-9.1h0m.3 6.9h0m.2 .7h0m.1 .5h0m0 .5h0m.1-4.5h0m0 4.2h0m.2-.8h0m.1 1.5h0m.1-1.8h0m.2 .1h0m0 .6h0m.1-.7h0m.2-3.8h0m0 4.7h0m.9-9h0m.1 .8h0m.1 .6h0m.2 7.2h0m.1 1.2h0m0 .2h0m0 1.3h0m.1-13.3h0m.1 12.5h0m.6-.6h0m0 1.6h0m.1-2h0m0 1.5h0m.1-.7h0m0 .6h0m.1-10.9h0m.4 3.8h0m.2 6.6h0m.3-2.2h0m0 4.5h0m.1-.9h0m.1-5.9h0m0 3.9h0m0 2.8h0m.2-6.8h0m.1 5.7h0m.3-.4h0m.2-7.4h0m.4 2h0m0 5.5h0m.1-6.7h0m0 .4h0m.5 .9h0m.1-7.3h0m.5 13.5h0m.1-7.3h0m0 5.6h0m.1-2h0m.2-8.5h0m0 10.8h0m.1-5.8h0m.1 3.7h0m.5 .3h0m.2-.3h0m.3-1.6h0m.1-9.3h0m.1-9.6h0m0 17.4h0m.1 3.4h0m.1 2.8h0m.1-19.5h0m0 13.3h0m0 1.6h0m.2-2h0m0 4.5h0m.1-2.2h0m0 2.4h0m.1-1.6h0m.1-7.7h0m.1 4.6h0m0 3.7h0m.1-4.4h0m0 1h0m.1 2.7h0m0 1.4h0m0 .1h0m.1-1.9h0m.1-1.7h0m.2-.4h0m.1 3.8h0m.5 1.1h0m.1-1.1h0m0 1.2h0m.1-7.1h0m.1 5.3h0m.2-3.7h0m0 1.5h0m.4 2.6h0m.2-21.4h0m0 13.5h0m.2 6h0m.3-17.3h0m.1 12h0m.4-4.3h0m.2 10.6h0m.1 1.5h0m0 .5h0m.3-14.7h0m0 12h0m.1-25.5h0m.1 6h0m0 18.6h0m0 .3h0m0 1.5h0m.3-6.4h0m.3-18.5h0m0 25.9h0m.3-20.3h0m0 17.3h0m0 2.9h0m.1-21.6h0m.1 22.4h0m.1-2.6h0m.1-.1h0m0 .5h0m0 5h0m.5-13.1h0m0 8.9h0m.1-2.5h0m.1 2.5h0m0 2.3h0m.2-9h0m21.4 10.2h0m.1-18.3h0m0 18.7h0m.1-4.2h0m.1-6h0m0 10.1h0m.1-1.6h0m.2-1.4h0m.1-6.5h0m.1 10.6h0m.1-17.9h0m.1 16.7h0m0 .5h0m.3-7.5h0m.1 8.5h0m.1-.3h0m.1-.9h0m.2 .8h0m.2-4.5h0m0 3.6h0m.3-9.8h0m.2 2.2h0m.3-2.1h0m0 3.6h0m0 7.6h0m.1-2.7h0m.1-3.1h0m.2-2h0m.4-10h0m0 13.9h0m.1 2.1h0m0 .9h0m.1-2.7h0m.2 1.1h0m.1-21.7h0m.1 24.3h0m.1-.9h0m.2-.9h0m.3-3.2h0m.4 .1h0m.1 2.3h0m.3 2.6h0m.1-3.3h0m.3 .2h0m.4 1.4h0m.1-5.4h0m.2 4h0m.1-.7h0m.1-6.7h0m.5 5.7h0m.3 3h0m0 1.3h0m0 1.7h0m.1-.2h0m.8-3.9h0m.3 1.9h0m.1-7.9h0m0 7.8h0m.5-.2h0m0 .9h0m.5-.8h0m.2-3.4h0m.3 1.2h0m0 .1h0m0 2.4h0m.1-4.6h0m0 4.9h0m.1-7.2h0m0 6.5h0m.2-3h0m.1-2.8h0m0 5.6h0m0 .6h0m.4-.9h0m.2 1.4h0m.1-.6h0m.2 1.1h0m.1-3h0m.1-.2h0m.2-3.9h0m0 6.1h0m.3-14.5h0m.3-4.9h0m0 15.9h0m.1-15.3h0m0 13.3h0m0 5h0m.1-18.3h0m.2 16.6h0m.2-22.6h0m0 22.9h0m.2-8.2h0m0 7.4h0m0 2.3h0m.1-.6h0m0 .6h0m.1-.6h0m.1-25.7h0m0 7.9h0m0 13h0m0 2.4h0m0 3.3h0m.1-27.5h0m0 27.7h0m.1-4.2h0m.1 2.8h0m.1-2.5h0m.2 5.3h0m.4-1.1h0m.3 .7h0m.1 .7h0m.1-6.6h0m.1-8.3h0m0 6.2h0m0 5.6h0m0 1.2h0m.1-7.6h0m0 3.2h0m0 1.3h0m.1 2.2h0m.2-13.7h0m.1 15.1h0m.1-14.8h0m.2 8.2h0m.2-.6h0m.1 1h0m0 2.3h0m.2 .3h0m.1 4h0m.1-19.6h0m0 14.1h0m.1-4.5h0m.2 5.8h0m.2-6.2h0m.2 3.6h0m0 6.8h0m.1-5.3h0m0 4.7h0m.4-1.6h0m.1-5.1h0m0 4.8h0m.1-.6h0m0 3.2h0m.1-2.4h0m.1 1.6h0m.1-12.6h0m0 12.1h0m.1-5.6h0m18.8 4.7h0m.3-3.4h0m.2-6.8h0m0 5.8h0m.1-5.1h0m.2-10.4h0m.1 2.4h0m0 9.5h0m.2 4.5h0m.1 2.8h0m.3-7.5h0m0 10.2h0m.1-5.1h0m0 .6h0m.1-7.6h0m0 5.6h0m.1-3.6h0m.2 3.5h0m0 .8h0m.1 2.4h0m.2-4.1h0m0 2.5h0m0 .1h0m.1-.2h0m.2-3h0m0 3.3h0m.1-9.4h0m0 3.2h0m.1 5.4h0m.1 3.4h0m.2 .7h0m.2-23.1h0m0 23.9h0m.1-18.2h0m0 18h0m.1-5.2h0m.1-9.9h0m0 10.3h0m.1-8.6h0m.1 9.9h0m.1 2h0m0 .3h0m.1-10.1h0m.1 8.5h0m0 .1h0m.1-2.8h0m.2-14.5h0m.3 17.7h0m.1-4.3h0m.1-1.7h0m0 5.7h0m.1-20.8h0m.2 22.4h0m.2-4.7h0m.1 .1h0m0 1h0m0 1.6h0m.1-10.9h0m.1 12.5h0m.1-1.3h0m.1-1.8h0m.3-5.5h0m.2-.1h0m.1 8.5h0m.2 1h0m.1-.5h0m.2-3.8h0m0 1.6h0m.2-.6h0m.2-15.8h0m0 .8h0m0 12.9h0m0 1.9h0m0 3.2h0m.2-5.4h0m.1 2h0m.1-20.4h0m.1 19.9h0m.3-6.8h0m.1-8.9h0m0 12.7h0m0 3.3h0m.2 .3h0m.1-3.9h0m.3 5.9h0m.1-15.8h0m0 13.9h0m0 .4h0m.1-.9h0m.5-8h0m.1-2.5h0m.1 14.1h0m.1 1h0m.1-1.7h0m.1 1h0m.1-3.9h0m.4-.7h0m.5-15.4h0m.2 15.2h0m.1 2.8h0m.3-1.8h0m0 .4h0m.1-2h0m.2-.8h0m.1-4.9h0m.4 9.7h0m0 .3h0m.2 .8h0m.3-2.1h0m.2-6.7h0m.1 9.3h0m.5 0h0m.2 .5h0m.1-4.2h0m.1 3h0m.1-.9h0m0 1.9h0m.1 0h0m.1-1.4h0m.1-8.4h0m.1 7.5h0m.1-11.3h0m0 13.4h0m.5-13.5h0m.2 12.8h0m.4-9.8h0m16.4 8h0m.2-7.3h0m0 7.7h0m.2-1.3h0m.4 2h0m.1-8.7h0m0 9.3h0m.1-6.6h0m0 .6h0m.1-8.7h0m.2 6.7h0m.2-1.6h0m0 7.6h0m.3 .5h0m0 1.7h0m.1-6.3h0m.1 3.6h0m.1-.1h0m.1-2.1h0m.2-17.8h0m.4 15.7h0m0 7h0m.2-19.3h0m.2 7.2h0m0 1.1h0m0 7.1h0m.1-2.1h0m.2 .1h0m0 3.5h0m.1-6.4h0m0 .9h0m.2 4.9h0m.1-.4h0m.1 3.4h0m.1-3.9h0m0 3.3h0m.1-.9h0m0 .4h0m.1-1.2h0m.3-2.4h0m.2 3.8h0m.3-6.2h0m.1 2.5h0m.3 .5h0m2.2-2.6h0m0 8.7h0m.2-1.1h0m.2 1.4h0m.1-2.9h0m0 1.8h0m1-1.3h0m.2 .2h0m.3-2.1h0m.1-2.2h0m0 3.4h0m.1 1.4h0m.1 0h0m.1-13.3h0m0 8.6h0m.1 4.5h0m.1-7.9h0m0 .9h0m0 8.3h0m.1-18h0m.1 15.5h0m.1-3.7h0m.5-7.7h0m0 12.4h0m0 .6h0m0 .8h0m.3-.1h0m.1-7.5h0m.1 7.2h0m.1-6.7h0m.1 7.4h0m.3-2h0m.1 1.8h0m.1-5.6h0m0 3.5h0m0 1.4h0m.1-6.7h0m.1 5.7h0m.1-24.4h0m.1-.6h0m0 16h0m.1-18.3h0m0 23.9h0m.1-22.8h0m0 23.3h0m0 1.3h0m.2-9.5h0m0 8.1h0m.1-10.6h0m0 4h0m0 3.6h0m.1 .7h0m0 1.4h0m.2-6.6h0m.4-7h0m0 16.2h0m0 2.7h0m.1-3.9h0m.2 .3h0m.1-6.3h0m0 7.2h0m.1 1.2h0m.4-7.7h0m.1 9.8h0m.2-4.3h0m0 2.2h0m14.5-4.2h0m.4 3.9h0m.1-2.7h0m0 1.1h0m.1-12.6h0m0 5.7h0m.5-9.3h0m0 9.6h0m.1-9h0m.4-.2h0m.1-10.4h0m.1 25h0m.1-22.1h0m0 22.6h0m.1-1.5h0m.1-8.4h0m0 9.7h0m.2-7.8h0m.1 6.9h0m0 2.5h0m.1-4.2h0m.1-4.7h0m0 8.9h0m.2-2.9h0m0 2.3h0m.1-21.3h0m0 18h0m.1-5.1h0m.3 7.9h0m.5-3.4h0m.4 .8h0m0 2.9h0m.1 0h0m.2-11.7h0m.4 5.8h0m.2-.4h0m.1 2.5h0m.2 1.3h0m.3-1.4h0m0 1.5h0m.1 .9h0m.2-1.6h0m.2-.1h0m.1 .3h0m.1 1.6h0m.2 .7h0m.1 2.3h0m.1-.1h0m.1-2.8h0m.1 2h0m.2-4.1h0m0 .9h0m.1-6h0m.2 6.8h0m0 .8h0m.1-20.8h0m0 1.6h0m.2 11.8h0m.4 9h0m.1-5.8h0m.3-3.8h0m0 9.9h0m.1-7.7h0m.1-3.9h0m0 8.7h0m0 1.4h0m.1-5.1h0m.3 3.5h0m0 2h0m0 1.2h0m.1-4.7h0m.4 3h0m.1 1h0m.3-11.4h0m.1 1.1h0m.1 11.8h0m.1-3.1h0m.4-6.7h0m.1 3.4h0m0 4.3h0m.3-1.6h0m.1-.5h0m0 .6h0m0 2.5h0m.1-5.1h0m.2-3.8h0m.1 2.2h0m.1-5.1h0m0 6.8h0m0 5.2h0m.1-7h0m0 2.8h0m.1 .1h0m.1-7.6h0m.1 2.2h0m.1-1.8h0m.4 7h0m.3 3.4h0m.3-1.5h0m0 1.9h0m.4-13.9h0m0 14.3h0m.1-14.7h0m0 13.8h0m0 .6h0m0 .2h0m.6-18.5h0m.2 14.4h0m.1-21.3h0m0 21.2h0m.1-7.1h0m0 5.2h0m.1-4.4h0m0 .7h0m0 4.1h0m16.5 4.7h0m.2 .2h0m.4 4.8h0m.3-5h0m.2 5.3h0m.1-3.8h0m.3 .2h0m.5 2.2h0m.4-2.5h0m0 1.6h0m.1-.4h0m.2-2h0m.3-7.4h0m0 7.2h0m.4 4.1h0m.1-.6h0m.2-.4h0m0 .6h0m0 .4h0m.1-2.3h0m0 1.5h0m.1-.4h0m0 .7h0m0 .1h0m0 1.3h0m.4-4.3h0m.1 .4h0m.2 2.6h0m.1-9.1h0m0 10h0m0 .2h0m.2-2h0m.1-7.8h0m.2 7.5h0m.1-2.2h0m.2 1.7h0m.2 2.1h0m.7-11.8h0m.1 1.5h0m0 5h0m.1 .2h0m0 1.6h0m.1 .2h0m.2-4.7h0m.1-5.6h0m0 9.7h0m.1 .7h0m.1-3.8h0m.1 2.6h0m.1 2.7h0m.3 1.4h0m.1-8h0m.4 8h0m.1 1.4h0m.1-2.3h0m.2 .4h0m.2 .7h0m.5-2.5h0m0 1.3h0m0 .7h0m.1-5.8h0m0 3.3h0m.2-7.2h0m.1 7.2h0m0 2.3h0m.1-.9h0m.3-4.2h0m.1 2h0m13.9-3.7h0m.1 2.7h0m.2-6h0m.1-.5h0m0 5h0m.1-3.4h0m.4-4.5h0m0 10.7h0m.2-5.8h0m0 3.1h0m.4-10.3h0m.4 12h0m.2-1.9h0m0 .4h0m.3 .5h0m.2-1.9h0m0 1.5h0m.1 .3h0m.1-1.6h0m.1-7.7h0m0 1.1h0m0 10.6h0m.4-6.5h0m0 7.5h0m.4-11.6h0m.2 8.9h0m.1-3.1h0m.2-4.5h0m.1-8.1h0m.1 11.7h0m.2-1.2h0m0 2.3h0m0 2.2h0m.1-1.4h0m.1-1.6h0m.2 .9h0m.1-.6h0m.2-.6h0m.2-3.8h0m.1 6.7h0m.2-4.4h0m.1 .3h0m.3-12.1h0m0 10.7h0m.1 5.3h0m.1-.3h0m.2-1.5h0m0 3.7h0m0 .1h0m.1-.6h0m.1-14.8h0m0 15.3h0m.1-3.8h0m.1 .6h0m0 2.1h0m0 .6h0m.2 2.9h0m.1-9.1h0m0 3h0m.1 3.8h0m.2-10h0m10.8 4h0m.1 2.1h0m0 1.8h0m.3 2h0m.1-7.3h0m.1 2.4h0m.2 4h0m.1-3.6h0m0 2.9h0m.1-12.5h0m.4 8.3h0m.1 2.6h0m.3 1.3h0m.1-9.4h0m0 1.7h0m.4 2.7h0m0 1.2h0m.1-2.9h0m0 .7h0m.1 5.3h0m.1-7.8h0m.1 5.2h0m.3-10.9h0m.1 9.9h0m.1 1.2h0m.3-5.4h0m.1-9.9h0m0 12.4h0m.2-6.1h0m.4 9.8h0m.1-13.4h0m0 9h0m.1-4.9h0m.1 9h0m.2-26.2h0m.2 26.1h0m0 .3h0m0 1.3h0m.2-3.3h0m.1-23.6h0m.3 22.5h0m0 .5h0m.1-3.9h0m.1 .2h0m.2 7h0m.1-9.4h0m0 11.7h0m.2-8.8h0m.2 6.6h0m.4-3.3h0m.3 5.3h0m.1-1.1h0m.1-2.2h0m.2-.8h0m.3-3.5h0m0 4.4h0m.1-2.5h0m0 4.8h0m.1-4.6h0m0 1.7h0m.1-7.4h0m0 9.3h0m.1-11.6h0m0 6.1h0m0 .2h0m0 4.2h0m.2-.6h0m.1-10.6h0m0 8.6h0m9-.7h0m0 2.3h0m.4-2h0m.9-9.3h0m0 6.1h0m.1-.2h0m.6 1h0m.4 .8h0m.2 1.6h0m0 3.2h0m.1-7.4h0m0 6h0m0 1.3h0m.1-7.5h0m0 2.3h0m.2-4.5h0m0 1.6h0m0 8.8h0m.1-18.8h0m0 3.2h0m0 15.7h0m.1-10.1h0m0 8.4h0m.1-12h0m0 3.4h0m0 6.4h0m.2-4.1h0m.1-3.2h0m.1 2.5h0m.2 5.4h0m.1-20.9h0m.1 19h0m.2 2h0m0 2.9h0m.2-.8h0m.1 1h0m.2-3.5h0m.1 .6h0m0 1.6h0m.1 .1h0m0 1.1h0m.2-.8h0m0 1.2h0m.2-2h0m9.3 6.5h0m.2-5.4h0m0 2.3h0m.2-14.5h0m.1 7.4h0m0 7.1h0m0 .5h0m.2-2.1h0m.1 0h0m.1-12h0m.6 7h0m.1 5.8h0m.2-10.5h0m.1 2.5h0m0 4h0m.1 6.5h0m.6-4.4h0m0 4.3h0m.1-6.1h0m0 .5h0m.4 6.4h0m.1-4h0m0 .7h0m.1-.1h0m0 .3h0m.1 .6h0"/>
<path stroke="#222" stroke-width="0.8" fill="none" d="M188.1 369.2V485.1H497.4"/>
<path stroke="#222" stroke-width="0.6" fill="none" d="M186.1 485.1h2M186.1 475.9h2M186.1 466.8h2M186.1 457.6h2M186.1 448.5h2M186.1 439.3h2M186.1 430.1h2M186.1 421h2M186.1 411.8h2M186.1 402.7h2M186.1 393.5h2M186.1 384.3h2M186.1 375.2h2M186.1 369.2h2M188.1 485.1v1.8M237.2 485.1v1.8M286.2 485.1v1.8M335.3 485.1v1.8M384.3 485.1v1.8M433.4 485.1v1.8M482.4 485.1v1.8M497.4 485.1v1.8"/>
<g font-size="4.6" fill="#222" text-anchor="end" transform="scale(1 1.15)"><text x="184.1" y="423.5">0</text><text x="184.1" y="415.5">1</text><text x="184.1" y="407.5">2</text><text x="184.1" y="399.6">3</text><text x="184.1" y="391.6">4</text><text x="184.1" y="383.7">5</text><text x="184.1" y="375.7">6</text><text x="184.1" y="367.7">7</text><text x="184.1" y="359.8">8</text><text x="184.1" y="351.8">9</text><text x="184.1" y="343.8">10</text><text x="184.1" y="335.9">11</text><text x="184.1" y="327.9">12</text></g>
<path stroke="#f33" stroke-width="0.7" stroke-dasharray="1.6 1.4" d="M188.1 434.4H497.4"/>
<g font-size="4.8" fill="#111" text-anchor="middle" transform="scale(1 1.15)"><text x="200.6" y="429.7">1</text><text x="227" y="429.7">2</text><text x="250.8" y="429.7">3</text><text x="271.3" y="429.7">4</text><text x="291.4" y="429.7">5</text><text x="309.9" y="429.7">6</text><text x="328.1" y="429.7">7</text><text x="344.3" y="429.7">8</text><text x="359.5" y="429.7">9</text><text x="375.1" y="429.7">10</text><text x="389.1" y="429.7">11</text><text x="404.1" y="429.7">12</text><text x="417.5" y="429.7">13</text><text x="429.1" y="429.7">14</text><text x="440.1" y="429.7">15</text><text x="449" y="429.7">16</text><text x="459" y="429.7">17</text><text x="467" y="429.7">18</text><text x="474.6" y="429.7">19</text><text x="481.4" y="429.7">20</text><text x="487.4" y="429.7">21</text><text x="493.7" y="429.7">22</text></g>
<text x="315.7" y="502.9" font-size="9.3" fill="#111" textLength="51.4" lengthAdjust="spacingAndGlyphs">Chromosome</text>
<text x="295.4" y="360.1" font-size="11.4" fill="#111">Medulla oblongata</text>
<text transform="translate(165.1 357.0) scale(1 1.17)" font-size="12.4" font-weight="bold" fill="#000">e</text>
<text transform="translate(172.9 428.6) rotate(-90)" text-anchor="middle" font-size="8.7" fill="#111" textLength="50.7" lengthAdjust="spacingAndGlyphs">&#8722;log<tspan font-size="5.2" dy="1.6">10</tspan><tspan dy="-1.6"> </tspan><tspan font-style="italic">P</tspan>value</text>
<path stroke="#0000ff" stroke-width="1.8" stroke-linecap="round" d="M189.6 405.7h0m175.8 20.1h0m95.8-47.4h0m0 20h0m0 11.3h0m0 8.3h0m0 1.5h0m0 1.5h0m0 1.5h0m0 1.5h0m0 1.5h0m0 1.5h0m0 1.2h0"/>
<path stroke="#4682b4" stroke-width="1.8" stroke-linecap="round" d="M303.5 387h0m103.9 3h0m.6 17.6h0"/>
<g font-size="4.8" fill="#111" stroke="#111" stroke-width="0.05" transform="scale(1 1.15)"><text x="301.2" y="338.2" text-anchor="end">BMP6</text><text x="191" y="354.5" text-anchor="start">KIF1B</text><text x="363" y="372" text-anchor="end">TRIM32</text><text x="458.5" y="330.7" text-anchor="end">HOXB3</text><text x="405.4" y="340.8" text-anchor="end">DRAM1</text><text x="458.5" y="348.1" text-anchor="end">HOXB6</text><text x="406" y="355.3" text-anchor="end">POLR3B</text><text x="409.5" y="356.5" text-anchor="start">GNPTAB</text><text x="458.5" y="358" text-anchor="end">HOXB2</text><text x="462.8" y="358" text-anchor="start">MAPT</text><text x="458.5" y="365.3" text-anchor="end">PLEKHM1</text><text x="458.5" y="369.5" text-anchor="end">CDK5RAP3</text><text x="458.5" y="373.8" text-anchor="end">HOXB1</text><text x="462.8" y="364.5" text-anchor="start">WNT3</text><text x="462.8" y="367.7" text-anchor="start">ARHGAP27</text><text x="462.8" y="371.6" text-anchor="start">SPPL2C</text><text x="462.8" y="375.7" text-anchor="start">HOXB7</text></g>
</svg>
</body></html>
